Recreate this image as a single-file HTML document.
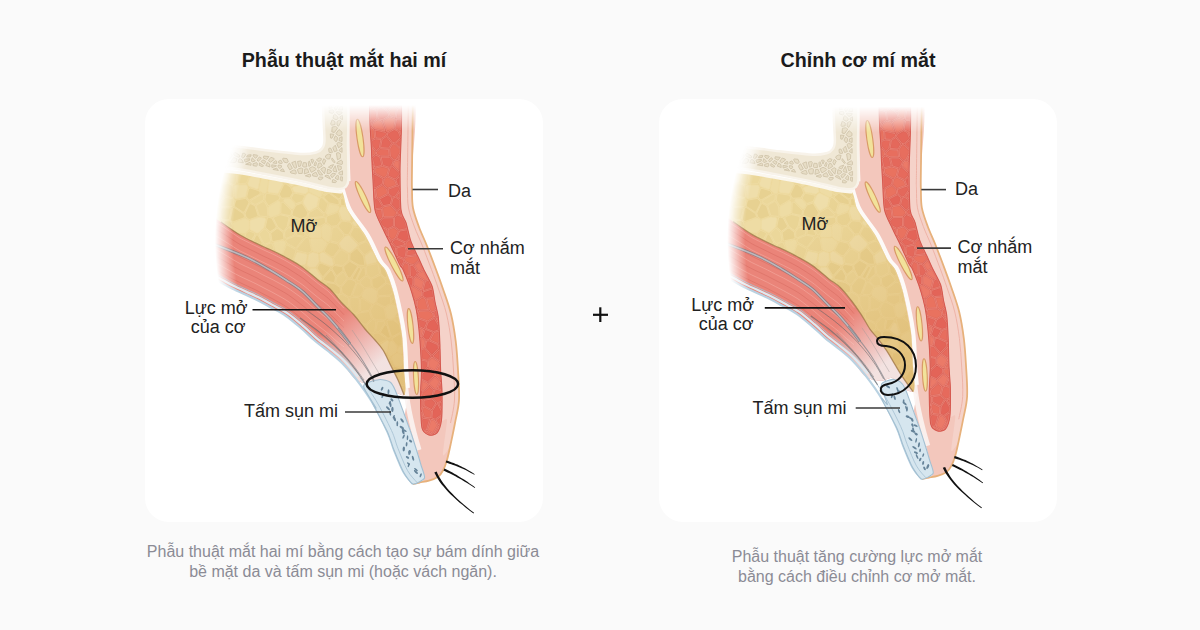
<!DOCTYPE html>
<html><head><meta charset="utf-8"><style>
html,body{margin:0;padding:0;}
body{width:1200px;height:630px;background:#fafafa;position:relative;overflow:hidden;font-family:"Liberation Sans",sans-serif;}
.card{position:absolute;top:99px;width:398px;height:423px;background:#fff;border-radius:24px;}
.t{position:absolute;font-family:"Liberation Sans",sans-serif;white-space:nowrap;}
.title{font-weight:bold;font-size:19.7px;color:#1b1b1b;text-align:center;width:400px;}
.desc{font-size:16px;line-height:20px;color:#8b8b95;text-align:center;width:440px;}
svg{position:absolute;left:0;top:0;}
</style></head>
<body>
<div class="card" style="left:145px"></div>
<div class="card" style="left:659px"></div>
<div class="t title" style="left:144px;top:49px">Phẫu thuật mắt hai mí</div>
<div class="t title" style="left:658px;top:49px">Chỉnh cơ mí mắt</div>
<svg width="1200" height="630" viewBox="0 0 1200 630">
<defs>
<linearGradient id="apoGrad" gradientUnits="userSpaceOnUse" x1="334" y1="322" x2="374" y2="368">
 <stop offset="0" stop-color="#f3e7e6" stop-opacity="0"/><stop offset="1" stop-color="#f3e7e6" stop-opacity="0.95"/></linearGradient>
<linearGradient id="fatGrad" gradientUnits="userSpaceOnUse" x1="290" y1="220" x2="400" y2="370">
 <stop offset="0" stop-color="#d29a45" stop-opacity="0"/><stop offset="1" stop-color="#d29a45" stop-opacity="0.38"/></linearGradient>
<linearGradient id="fadeL" gradientUnits="userSpaceOnUse" x1="209" y1="0" x2="241" y2="0">
 <stop offset="0" stop-color="#000"/><stop offset="1" stop-color="#fff"/></linearGradient>
<linearGradient id="fadeT" gradientUnits="userSpaceOnUse" x1="0" y1="105" x2="0" y2="131">
 <stop offset="0" stop-color="#000"/><stop offset="1" stop-color="#fff"/></linearGradient>
<radialGradient id="fadeR" gradientUnits="userSpaceOnUse" cx="345" cy="240" r="130" gradientTransform="translate(345 240) scale(1 1.46) translate(-345 -240)">
 <stop offset="0.86" stop-color="#fff"/><stop offset="1" stop-color="#000"/></radialGradient>
<mask id="mL" maskUnits="userSpaceOnUse" x="-100" y="-100" width="1400" height="830">
 <rect x="-100" y="-100" width="401" height="830" fill="url(#fadeR)"/>
 <rect x="299" y="-100" width="1000" height="830" fill="#fff"/>
</mask>
<linearGradient id="fadeB" gradientUnits="userSpaceOnUse" x1="215" y1="0" x2="248" y2="0">
 <stop offset="0" stop-color="#000"/><stop offset="1" stop-color="#fff"/></linearGradient>
<mask id="mB" maskUnits="userSpaceOnUse" x="-100" y="-100" width="1400" height="830">
 <rect x="-100" y="-100" width="1400" height="830" fill="url(#fadeB)"/>
</mask>
<mask id="mT" maskUnits="userSpaceOnUse" x="-100" y="-100" width="1400" height="830">
 <rect x="-100" y="-100" width="1400" height="830" fill="url(#fadeT)"/>
</mask>

</defs>
<g mask="url(#mT)"><g mask="url(#mL)">
<path d="M347.0,92.0 C340.5,97.4 347.9,137.3 348.0,146.0 C348.1,154.7 348.7,174.9 348.5,179.0 C348.3,183.1 346.6,185.2 346.0,186.5 C345.4,187.8 341.8,189.7 342.0,192.0 C342.2,194.3 345.3,205.7 347.6,210.0 C349.9,214.3 362.4,230.3 365.4,235.4 C368.4,240.5 375.9,257.2 378.0,260.8 C380.1,264.4 384.4,267.7 386.0,271.0 C387.6,274.3 392.2,287.6 393.8,293.8 C395.4,300.1 400.7,325.9 401.7,333.5 C402.7,341.1 403.6,364.6 404.0,370.0 C404.4,375.4 405.5,385.5 405.5,388.0 C405.5,390.5 403.8,394.0 404.0,395.0 C404.2,396.0 407.9,396.0 408.0,398.0 C408.1,400.0 404.7,411.6 405.0,415.0 C405.3,418.4 409.8,428.5 411.0,432.0 C412.2,435.5 416.0,446.7 417.0,450.0 C418.0,453.3 420.3,462.2 421.0,465.0 C421.7,467.8 424.0,476.0 424.0,477.8 C424.0,479.6 422.1,482.4 421.0,483.0 C419.9,483.6 413.2,484.1 413.0,484.0 C412.8,483.9 417.4,482.8 419.0,482.5 C420.6,482.2 427.1,481.2 429.0,480.6 C430.9,480.0 436.6,477.8 438.0,476.8 C439.4,475.8 442.1,472.2 443.0,470.5 C443.9,468.8 446.2,462.6 447.0,460.0 C447.8,457.4 449.7,448.7 450.5,445.0 C451.3,441.3 454.1,427.5 455.0,423.0 C455.9,418.5 458.7,405.3 459.0,400.0 C459.3,394.7 458.3,375.9 458.0,370.0 C457.7,364.1 456.4,346.6 455.7,341.0 C455.0,335.4 452.3,319.2 451.0,314.0 C449.7,308.8 444.5,293.4 443.0,289.0 C441.5,284.6 437.6,273.8 436.0,269.5 C434.4,265.2 428.7,250.2 427.0,246.0 C425.3,241.8 420.4,230.8 419.0,227.0 C417.6,223.2 413.7,211.8 413.0,208.0 C412.3,204.2 412.1,192.8 412.0,189.0 C411.9,185.2 411.9,179.7 412.0,170.0 C412.1,160.3 419.5,99.8 413.0,92.0 C406.5,84.2 353.5,86.6 347.0,92.0 Z" fill="#f3c7bc"/>
<path d="M400.0,92.0 C398.7,99.9 399.9,159.2 400.0,171.0 C400.1,182.8 400.4,204.8 401.0,210.0 C401.6,215.2 405.0,219.5 406.0,222.7 C407.0,225.9 409.7,238.1 411.0,241.7 C412.3,245.3 417.4,255.5 418.7,258.3 C420.0,261.1 422.7,267.2 424.0,270.0 C425.3,272.8 430.9,282.8 432.0,286.0 C433.1,289.2 434.4,298.8 435.0,302.0 C435.6,305.2 437.8,313.7 438.3,317.6 C438.8,321.5 439.6,336.2 439.8,341.4 C440.0,346.6 440.4,364.9 440.6,370.0 C440.8,375.1 441.9,387.0 442.0,392.0 C442.1,397.0 441.0,417.2 441.5,420.0 C442.0,422.8 446.9,416.5 447.0,420.0 C447.1,423.5 442.6,452.5 443.0,455.0 C443.4,457.5 449.3,448.2 450.5,445.0 C451.7,441.8 454.1,427.5 455.0,423.0 C455.9,418.5 458.7,405.3 459.0,400.0 C459.3,394.7 458.3,375.9 458.0,370.0 C457.7,364.1 456.4,346.6 455.7,341.0 C455.0,335.4 452.3,319.2 451.0,314.0 C449.7,308.8 444.5,293.4 443.0,289.0 C441.5,284.6 437.6,273.8 436.0,269.5 C434.4,265.2 428.7,250.2 427.0,246.0 C425.3,241.8 420.4,230.8 419.0,227.0 C417.6,223.2 413.7,211.8 413.0,208.0 C412.3,204.2 412.1,192.8 412.0,189.0 C411.9,185.2 411.9,179.7 412.0,170.0 C412.1,160.3 414.2,99.8 413.0,92.0 C411.8,84.2 401.3,84.1 400.0,92.0 Z" fill="#f5d2c9"/>
<path d="M408.5,92.0 C408.3,105.0 407.7,153.8 407.5,170.0 C407.3,186.2 407.3,182.7 407.5,189.0 C407.7,195.3 407.3,201.7 408.5,208.0 C409.7,214.3 412.2,220.7 414.5,227.0 C416.8,233.3 419.7,238.9 422.5,246.0 C425.3,253.1 428.8,262.3 431.5,269.5 C434.2,276.7 436.0,281.6 438.5,289.0 C441.0,296.4 444.4,305.3 446.5,314.0 C448.6,322.7 450.0,331.7 451.2,341.0 C452.4,350.3 452.9,360.2 453.5,370.0 C454.1,379.8 455.0,391.2 454.5,400.0 C454.0,408.8 451.2,419.2 450.5,423.0" fill="none" stroke="#eeb3a6" stroke-width="1"/>
<path d="M413.0,92.0 C412.8,105.0 412.2,153.8 412.0,170.0 C411.8,186.2 411.8,182.7 412.0,189.0 C412.2,195.3 411.8,201.7 413.0,208.0 C414.2,214.3 416.7,220.7 419.0,227.0 C421.3,233.3 424.2,238.9 427.0,246.0 C429.8,253.1 433.3,262.3 436.0,269.5 C438.7,276.7 440.5,281.6 443.0,289.0 C445.5,296.4 448.9,305.3 451.0,314.0 C453.1,322.7 454.5,331.7 455.7,341.0 C456.9,350.3 457.4,360.2 458.0,370.0 C458.6,379.8 459.5,391.2 459.0,400.0 C458.5,408.8 456.4,415.5 455.0,423.0 C453.6,430.5 451.8,438.8 450.5,445.0 C449.2,451.2 448.2,455.8 447.0,460.0 C445.8,464.2 444.5,467.7 443.0,470.5 C441.5,473.3 440.3,475.1 438.0,476.8 C435.7,478.5 432.2,479.7 429.0,480.6 C425.8,481.6 421.7,481.9 419.0,482.5 C416.3,483.1 414.0,483.8 413.0,484.0" fill="none" stroke="#e7b17b" stroke-width="1.8"/>
<path d="M404.0,360.0 C404.3,365.0 405.2,381.7 406.0,390.0 C406.8,398.3 407.7,403.0 409.0,410.0 C410.3,417.0 412.3,425.3 414.0,432.0 C415.7,438.7 418.2,447.0 419.0,450.0" fill="none" stroke="#fbf3f1" stroke-width="5" opacity="0.9"/>
<path d="M400.0,92.0 C403.9,102.5 399.9,155.3 400.0,171.0 C400.1,186.7 400.2,203.1 401.0,210.0 C401.8,216.9 404.7,218.5 406.0,222.7 C407.3,226.9 409.3,237.0 411.0,241.7 C412.7,246.4 417.0,254.5 418.7,258.3 C420.4,262.1 422.2,266.3 424.0,270.0 C425.8,273.7 430.5,281.7 432.0,286.0 C433.5,290.3 434.2,297.8 435.0,302.0 C435.8,306.2 437.7,312.3 438.3,317.6 C438.9,322.9 439.5,334.4 439.8,341.4 C440.1,348.4 440.3,363.3 440.6,370.0 C440.9,376.7 441.9,385.3 442.0,392.0 C442.1,398.7 442.2,414.5 441.5,420.0 C440.8,425.5 438.7,431.0 437.0,433.0 C435.3,435.0 431.0,435.7 429.0,435.0 C427.0,434.3 423.1,433.1 422.0,428.0 C420.9,422.9 420.6,404.7 420.5,397.0 C420.4,389.3 421.6,377.5 421.5,370.0 C421.4,362.5 420.5,348.0 420.0,341.0 C419.5,334.0 418.3,322.8 417.6,317.6 C416.9,312.4 415.5,305.9 414.4,301.7 C413.3,297.5 411.2,290.2 409.7,286.0 C408.2,281.8 404.6,272.9 403.3,270.0 C402.0,267.1 401.3,267.9 399.7,264.6 C398.1,261.3 393.2,250.2 391.0,245.5 C388.8,240.8 385.1,233.7 383.0,229.0 C380.9,224.3 376.3,216.5 375.0,210.0 C373.7,203.5 373.5,188.0 373.0,180.0 C372.5,172.0 371.8,161.7 371.5,150.0 C371.2,138.3 367.2,99.7 371.0,92.0 C374.8,84.3 396.1,81.5 400.0,92.0 Z" fill="#e66a5c"/>
<g stroke="#c9524c" stroke-width="1.6" stroke-linejoin="round" stroke-opacity="0.35"><path d="M373.8,89.6 L374.3,89.8 L375.2,88.8Z" fill="#e36458"/><path d="M389.9,85.9 L385.5,85.8 L384.1,86.0 L386.5,87.4Z" fill="#e9725f"/><path d="M392.7,86.6 L396.6,90.4 L397.8,89.7 L394.1,87.0Z" fill="#eb7a68"/><path d="M370.3,99.0 L375.7,96.2 L374.0,91.0 L372.9,90.6 L371.5,92.3Z" fill="#e76e5e"/><path d="M375.2,90.6 L376.9,96.0 L382.9,98.5 L384.1,97.9 L385.8,88.4 L382.2,86.2 L381.0,86.4 L378.2,87.4Z" fill="#e66a5c"/><path d="M396.0,91.4 L391.1,86.7 L386.9,88.5 L385.3,97.8 L393.8,99.9 L396.9,97.8Z" fill="#e66a5c"/><path d="M397.2,91.4 L398.1,97.5 L400.5,97.9 L399.4,92.2 L398.4,90.7Z" fill="#e4685b"/><path d="M376.3,109.1 L380.7,106.0 L382.3,99.6 L376.5,97.1 L370.2,100.4 L370.0,102.7 L370.0,107.1Z" fill="#e66a5c"/><path d="M393.4,101.1 L384.7,98.9 L383.5,99.6 L381.9,106.1 L387.8,110.5 L393.5,103.9Z" fill="#e36458"/><path d="M401.0,107.5 L400.6,99.1 L397.7,98.7 L394.6,100.9 L394.7,103.9 L397.4,107.7Z" fill="#e4685b"/><path d="M370.3,119.2 L372.9,121.5 L377.0,118.8 L375.9,110.2 L370.0,108.4Z" fill="#e66a5c"/><path d="M381.2,107.1 L377.0,110.1 L378.2,118.6 L382.2,119.8 L388.9,116.0 L387.4,111.7Z" fill="#e4685b"/><path d="M394.0,105.0 L388.6,111.4 L390.1,115.8 L395.0,117.4 L396.4,108.5Z" fill="#e9725f"/><path d="M397.6,108.9 L396.1,118.0 L401.1,117.8 L401.0,108.7Z" fill="#e66a5c"/><path d="M370.7,126.2 L372.2,122.4 L370.4,120.9Z" fill="#e66a5c"/><path d="M372.0,126.4 L374.7,128.7 L385.1,131.1 L381.8,121.0 L377.7,119.7 L373.4,122.6Z" fill="#eb7a68"/><path d="M395.3,119.0 L389.7,116.9 L383.0,120.7 L387.1,132.3 L393.6,128.4Z" fill="#eb7a68"/><path d="M400.8,129.5 L401.0,119.0 L396.5,119.3 L394.8,128.5 L398.6,130.3Z" fill="#e66a5c"/><path d="M373.9,129.6 L371.2,127.3 L370.8,127.5 L371.5,139.4 L374.7,138.0Z" fill="#e9725f"/><path d="M386.1,135.3 L386.4,133.2 L385.6,132.4 L375.1,130.1 L375.9,137.9 L381.4,138.3Z" fill="#e66a5c"/><path d="M398.1,131.4 L394.2,129.5 L387.6,133.4 L387.3,135.5 L392.7,142.5 L394.7,142.8 L400.5,137.7Z" fill="#e4685b"/><path d="M399.3,131.3 L400.6,134.7 L400.8,130.8Z" fill="#eb7a68"/><path d="M376.1,150.7 L379.3,147.7 L380.9,139.5 L375.5,139.0 L371.6,140.7 L371.9,145.2Z" fill="#e66a5c"/><path d="M380.6,147.5 L388.7,148.2 L391.6,143.2 L386.5,136.5 L382.1,139.3Z" fill="#e4685b"/><path d="M395.7,143.4 L400.1,147.8 L400.5,139.3Z" fill="#e66a5c"/><path d="M375.1,154.2 L375.3,151.8 L372.0,147.3 L372.3,156.6Z" fill="#e9725f"/><path d="M376.5,151.9 L376.3,154.1 L380.6,156.0 L389.2,156.1 L388.5,149.4 L380.1,148.7Z" fill="#e76e5e"/><path d="M394.6,144.0 L392.7,143.8 L389.7,149.0 L390.5,156.4 L394.2,160.0 L396.5,159.1 L399.9,152.7 L400.1,149.5Z" fill="#e76e5e"/><path d="M397.8,159.3 L399.6,160.0 L399.8,155.4Z" fill="#e4685b"/><path d="M372.7,165.0 L372.9,168.7 L373.4,168.6 L373.6,167.9Z" fill="#e66a5c"/><path d="M372.4,158.2 L374.6,167.2 L381.8,165.3 L379.9,157.1 L375.7,155.2Z" fill="#e4685b"/><path d="M383.1,165.3 L389.3,167.3 L391.7,165.1 L393.3,160.8 L389.7,157.3 L381.2,157.2Z" fill="#e4685b"/><path d="M396.9,160.2 L394.5,161.1 L392.9,165.3 L399.4,171.2 L399.6,161.3Z" fill="#eb7a68"/><path d="M374.1,173.3 L373.4,169.9 L373.0,169.9 L373.2,174.1Z" fill="#e66a5c"/><path d="M383.8,177.8 L386.7,175.8 L388.7,168.4 L382.5,166.4 L374.7,168.4 L375.3,173.1Z" fill="#e9725f"/><path d="M392.2,166.3 L390.0,168.3 L387.9,175.8 L395.1,179.1 L399.4,175.0 L399.4,172.8Z" fill="#e66a5c"/><path d="M374.9,188.0 L382.1,184.0 L383.1,178.9 L374.9,174.2 L373.3,175.8 L373.9,187.6Z" fill="#e4685b"/><path d="M387.3,176.8 L384.3,178.9 L383.3,184.2 L387.4,188.3 L396.5,185.0 L394.7,180.3Z" fill="#e9725f"/><path d="M395.9,180.0 L397.7,184.9 L399.5,186.2 L399.4,176.6Z" fill="#e36458"/><path d="M375.7,197.5 L374.4,189.1 L374.0,188.9 L374.4,198.2Z" fill="#eb7a68"/><path d="M375.6,189.0 L376.9,197.4 L378.6,198.2 L387.4,193.6 L386.7,189.3 L382.5,185.2Z" fill="#e9725f"/><path d="M397.1,186.0 L388.0,189.4 L388.6,193.6 L392.6,197.0 L395.3,196.1 L399.6,189.6 L399.6,187.7Z" fill="#e4685b"/><path d="M396.5,196.5 L399.8,198.7 L399.6,191.7Z" fill="#e66a5c"/><path d="M381.6,207.9 L382.3,206.4 L378.2,199.3 L376.3,198.4 L374.5,199.5 L375.4,208.7Z" fill="#e4685b"/><path d="M383.3,205.7 L390.3,204.3 L391.8,197.9 L388.0,194.7 L379.5,199.1Z" fill="#e36458"/><path d="M395.6,197.3 L393.0,198.2 L391.5,204.7 L397.0,210.6 L400.1,207.1 L399.8,200.2Z" fill="#e4685b"/><path d="M375.6,209.9 L377.1,214.8 L379.5,220.6 L382.6,217.2 L381.5,209.1Z" fill="#e76e5e"/><path d="M382.6,208.5 L383.7,216.8 L393.8,216.7 L396.6,213.9 L396.4,211.7 L390.6,205.5 L383.4,206.9Z" fill="#e9725f"/><path d="M397.6,211.7 L397.8,213.8 L401.8,215.6 L400.3,208.7Z" fill="#e66a5c"/><path d="M393.4,217.9 L383.5,218.0 L380.1,221.7 L382.2,226.0 L387.5,228.7 L393.3,226.2Z" fill="#e4685b"/><path d="M406.9,228.6 L405.4,222.9 L402.6,217.2 L397.3,214.9 L394.6,217.6 L394.5,226.3 L399.4,230.0Z" fill="#e4685b"/><path d="M383.1,227.8 L387.0,235.9 L387.2,235.9 L386.9,229.7Z" fill="#e76e5e"/><path d="M395.4,237.9 L398.5,230.8 L393.8,227.3 L388.1,229.7 L388.5,236.2 L391.6,240.3Z" fill="#e9725f"/><path d="M407.2,229.8 L399.7,231.1 L396.7,238.0 L405.5,242.0 L409.0,238.5Z" fill="#e36458"/><path d="M387.6,237.1 L389.6,241.3 L390.1,242.3 L390.8,241.2Z" fill="#e66a5c"/><path d="M391.8,242.0 L396.3,246.9 L404.6,244.6 L404.9,243.1 L395.9,238.9Z" fill="#e4685b"/><path d="M407.2,249.8 L413.0,247.8 L409.7,239.5 L406.2,243.1 L405.8,245.0Z" fill="#e76e5e"/><path d="M390.7,243.4 L392.5,247.3 L396.3,255.7 L395.5,247.9 L391.1,243.0Z" fill="#e66a5c"/><path d="M396.7,248.1 L397.5,255.9 L403.7,258.3 L405.3,256.3 L406.2,250.6 L404.7,245.8Z" fill="#e4685b"/><path d="M416.2,254.6 L413.5,248.9 L407.3,251.0 L406.6,255.8Z" fill="#e66a5c"/><path d="M401.3,266.2 L403.8,261.4 L403.4,259.5 L396.8,257.0Z" fill="#e4685b"/><path d="M406.2,257.1 L404.5,259.2 L405.0,261.1 L409.6,263.7 L413.7,264.7 L418.9,260.1 L416.8,255.7Z" fill="#e9725f"/><path d="M414.6,265.5 L418.2,271.9 L423.1,269.5 L419.4,261.2Z" fill="#eb7a68"/><path d="M402.2,267.2 L406.4,275.8 L409.2,275.9 L408.8,264.7 L404.7,262.3Z" fill="#e76e5e"/><path d="M410.5,276.1 L413.6,277.3 L416.2,275.5 L417.3,272.7 L413.5,265.9 L410.0,265.1Z" fill="#e4685b"/><path d="M418.5,273.1 L417.4,275.7 L425.0,280.4 L428.1,279.0 L423.6,270.6Z" fill="#eb7a68"/><path d="M412.7,285.3 L413.0,278.4 L409.7,277.2 L406.9,277.0 L410.6,286.6Z" fill="#e36458"/><path d="M424.2,281.4 L416.7,276.7 L414.2,278.3 L413.9,285.3 L421.8,290.3Z" fill="#eb7a68"/><path d="M423.0,290.8 L431.9,287.9 L428.6,280.1 L425.4,281.5Z" fill="#e4685b"/><path d="M410.9,287.8 L414.3,299.1 L416.7,299.8 L421.7,296.1 L421.8,291.7 L413.3,286.4Z" fill="#eb7a68"/><path d="M422.9,296.1 L426.2,298.2 L433.7,297.5 L432.2,289.0 L423.0,292.0Z" fill="#e36458"/><path d="M414.7,300.5 L415.4,303.2 L416.0,305.9 L416.2,300.9Z" fill="#e36458"/><path d="M417.4,300.8 L417.2,306.9 L418.9,310.1 L428.4,309.6 L425.5,299.2 L422.3,297.1Z" fill="#e9725f"/><path d="M426.8,299.3 L429.7,309.8 L433.0,312.1 L435.8,308.1 L433.8,298.7Z" fill="#e9725f"/><path d="M416.5,308.2 L417.1,311.3 L417.4,312.7 L417.9,310.8Z" fill="#e76e5e"/><path d="M417.9,315.5 L418.2,317.4 L427.8,320.9 L433.5,317.3 L432.6,313.3 L429.0,310.8 L419.0,311.3Z" fill="#e9725f"/><path d="M433.7,313.0 L434.7,317.2 L437.6,316.9 L436.2,309.6Z" fill="#e66a5c"/><path d="M424.1,328.8 L427.1,321.9 L418.4,318.8 L419.3,326.5Z" fill="#e4685b"/><path d="M438.4,325.3 L434.2,318.3 L428.3,321.9 L425.9,328.4 L433.7,331.5 L438.6,329.8Z" fill="#e36458"/><path d="M437.7,318.1 L436.1,318.6 L438.1,322.4 L437.9,319.9Z" fill="#e4685b"/><path d="M421.6,336.5 L423.5,329.9 L419.4,327.9 L420.3,336.8Z" fill="#eb7a68"/><path d="M425.3,329.4 L422.7,336.9 L426.3,339.9 L428.9,339.7 L432.8,332.4Z" fill="#e36458"/><path d="M434.1,332.6 L430.1,340.0 L438.2,343.6 L439.2,342.0 L438.7,331.0Z" fill="#e76e5e"/><path d="M421.9,337.7 L420.4,338.0 L421.1,348.5 L424.2,347.5 L425.5,340.7Z" fill="#eb7a68"/><path d="M431.8,355.4 L438.4,348.3 L437.9,344.8 L429.2,340.9 L426.6,341.1 L425.4,347.8Z" fill="#e36458"/><path d="M439.4,346.4 L439.3,344.4 L439.3,344.2 L439.1,344.5Z" fill="#e4685b"/><path d="M421.7,359.0 L427.5,360.3 L431.0,356.3 L424.5,348.7 L421.2,349.7Z" fill="#e66a5c"/><path d="M439.5,349.4 L432.8,356.1 L439.7,361.0Z" fill="#e66a5c"/><path d="M422.1,372.1 L427.5,366.9 L427.2,361.4 L421.8,360.2Z" fill="#e4685b"/><path d="M431.9,357.0 L428.3,361.2 L428.7,366.8 L434.8,370.9 L439.6,362.3Z" fill="#eb7a68"/><path d="M439.8,364.4 L436.2,370.8 L440.0,370.6Z" fill="#e9725f"/><path d="M427.7,381.8 L434.3,375.8 L434.2,371.9 L428.2,367.9 L422.0,373.8 L421.8,379.1Z" fill="#e36458"/><path d="M435.4,372.0 L435.5,375.8 L440.7,380.2 L440.1,371.8Z" fill="#e9725f"/><path d="M421.8,380.4 L421.3,388.7 L422.1,391.5 L428.8,385.6 L427.4,383.0Z" fill="#eb7a68"/><path d="M430.0,385.4 L434.3,389.2 L436.7,388.3 L439.9,381.1 L434.9,376.9 L428.6,382.7Z" fill="#eb7a68"/><path d="M440.8,381.8 L437.9,388.4 L441.3,389.7 L441.2,386.7Z" fill="#e66a5c"/><path d="M423.5,399.1 L431.5,397.7 L433.5,390.1 L429.6,386.6 L422.3,392.9 L421.1,397.8Z" fill="#e76e5e"/><path d="M441.5,401.0 L441.4,391.0 L437.1,389.4 L434.7,390.3 L432.7,398.1 L436.9,402.3 L437.8,402.5Z" fill="#e66a5c"/><path d="M421.3,409.7 L422.9,405.9 L422.8,400.1 L421.1,399.2Z" fill="#e4685b"/><path d="M431.8,409.7 L435.8,403.0 L431.8,398.9 L424.0,400.3 L424.1,405.6Z" fill="#e4685b"/><path d="M441.4,408.6 L441.4,406.4 L441.5,402.3 L438.7,403.4Z" fill="#e36458"/><path d="M421.4,411.9 L421.4,413.5 L421.7,418.3 L423.1,417.4Z" fill="#e36458"/><path d="M424.3,417.1 L430.7,418.0 L431.4,410.8 L423.8,406.8 L422.3,410.6Z" fill="#e76e5e"/><path d="M437.5,403.6 L436.9,403.5 L432.6,410.6 L431.9,418.0 L435.2,419.2 L441.2,414.9 L441.4,411.2Z" fill="#e36458"/><path d="M423.6,430.5 L426.4,429.9 L429.6,419.2 L423.9,418.3 L421.7,419.6 L422.6,427.9Z" fill="#e4685b"/><path d="M433.1,433.5 L437.6,425.5 L434.9,420.4 L431.2,419.1 L427.5,430.2Z" fill="#eb7a68"/><path d="M436.1,420.1 L438.7,425.0 L439.8,425.4 L441.2,416.4Z" fill="#e4685b"/><path d="M432.5,434.5 L426.7,431.1 L424.4,431.6 L428.4,434.2Z" fill="#eb7a68"/><path d="M434.1,434.1 L437.1,431.8 L439.4,426.5 L438.5,426.2Z" fill="#e66a5c"/></g>
<g fill="none" stroke="#f09586" stroke-width="0.7" stroke-linejoin="round" stroke-opacity="0.8"><path d="M373.8,89.6 L374.3,89.8 L375.2,88.8Z"/><path d="M389.9,85.9 L385.5,85.8 L384.1,86.0 L386.5,87.4Z"/><path d="M392.7,86.6 L396.6,90.4 L397.8,89.7 L394.1,87.0Z"/><path d="M370.3,99.0 L375.7,96.2 L374.0,91.0 L372.9,90.6 L371.5,92.3Z"/><path d="M375.2,90.6 L376.9,96.0 L382.9,98.5 L384.1,97.9 L385.8,88.4 L382.2,86.2 L381.0,86.4 L378.2,87.4Z"/><path d="M396.0,91.4 L391.1,86.7 L386.9,88.5 L385.3,97.8 L393.8,99.9 L396.9,97.8Z"/><path d="M397.2,91.4 L398.1,97.5 L400.5,97.9 L399.4,92.2 L398.4,90.7Z"/><path d="M376.3,109.1 L380.7,106.0 L382.3,99.6 L376.5,97.1 L370.2,100.4 L370.0,102.7 L370.0,107.1Z"/><path d="M393.4,101.1 L384.7,98.9 L383.5,99.6 L381.9,106.1 L387.8,110.5 L393.5,103.9Z"/><path d="M401.0,107.5 L400.6,99.1 L397.7,98.7 L394.6,100.9 L394.7,103.9 L397.4,107.7Z"/><path d="M370.3,119.2 L372.9,121.5 L377.0,118.8 L375.9,110.2 L370.0,108.4Z"/><path d="M381.2,107.1 L377.0,110.1 L378.2,118.6 L382.2,119.8 L388.9,116.0 L387.4,111.7Z"/><path d="M394.0,105.0 L388.6,111.4 L390.1,115.8 L395.0,117.4 L396.4,108.5Z"/><path d="M397.6,108.9 L396.1,118.0 L401.1,117.8 L401.0,108.7Z"/><path d="M370.7,126.2 L372.2,122.4 L370.4,120.9Z"/><path d="M372.0,126.4 L374.7,128.7 L385.1,131.1 L381.8,121.0 L377.7,119.7 L373.4,122.6Z"/><path d="M395.3,119.0 L389.7,116.9 L383.0,120.7 L387.1,132.3 L393.6,128.4Z"/><path d="M400.8,129.5 L401.0,119.0 L396.5,119.3 L394.8,128.5 L398.6,130.3Z"/><path d="M373.9,129.6 L371.2,127.3 L370.8,127.5 L371.5,139.4 L374.7,138.0Z"/><path d="M386.1,135.3 L386.4,133.2 L385.6,132.4 L375.1,130.1 L375.9,137.9 L381.4,138.3Z"/><path d="M398.1,131.4 L394.2,129.5 L387.6,133.4 L387.3,135.5 L392.7,142.5 L394.7,142.8 L400.5,137.7Z"/><path d="M399.3,131.3 L400.6,134.7 L400.8,130.8Z"/><path d="M376.1,150.7 L379.3,147.7 L380.9,139.5 L375.5,139.0 L371.6,140.7 L371.9,145.2Z"/><path d="M380.6,147.5 L388.7,148.2 L391.6,143.2 L386.5,136.5 L382.1,139.3Z"/><path d="M395.7,143.4 L400.1,147.8 L400.5,139.3Z"/><path d="M375.1,154.2 L375.3,151.8 L372.0,147.3 L372.3,156.6Z"/><path d="M376.5,151.9 L376.3,154.1 L380.6,156.0 L389.2,156.1 L388.5,149.4 L380.1,148.7Z"/><path d="M394.6,144.0 L392.7,143.8 L389.7,149.0 L390.5,156.4 L394.2,160.0 L396.5,159.1 L399.9,152.7 L400.1,149.5Z"/><path d="M397.8,159.3 L399.6,160.0 L399.8,155.4Z"/><path d="M372.7,165.0 L372.9,168.7 L373.4,168.6 L373.6,167.9Z"/><path d="M372.4,158.2 L374.6,167.2 L381.8,165.3 L379.9,157.1 L375.7,155.2Z"/><path d="M383.1,165.3 L389.3,167.3 L391.7,165.1 L393.3,160.8 L389.7,157.3 L381.2,157.2Z"/><path d="M396.9,160.2 L394.5,161.1 L392.9,165.3 L399.4,171.2 L399.6,161.3Z"/><path d="M374.1,173.3 L373.4,169.9 L373.0,169.9 L373.2,174.1Z"/><path d="M383.8,177.8 L386.7,175.8 L388.7,168.4 L382.5,166.4 L374.7,168.4 L375.3,173.1Z"/><path d="M392.2,166.3 L390.0,168.3 L387.9,175.8 L395.1,179.1 L399.4,175.0 L399.4,172.8Z"/><path d="M374.9,188.0 L382.1,184.0 L383.1,178.9 L374.9,174.2 L373.3,175.8 L373.9,187.6Z"/><path d="M387.3,176.8 L384.3,178.9 L383.3,184.2 L387.4,188.3 L396.5,185.0 L394.7,180.3Z"/><path d="M395.9,180.0 L397.7,184.9 L399.5,186.2 L399.4,176.6Z"/><path d="M375.7,197.5 L374.4,189.1 L374.0,188.9 L374.4,198.2Z"/><path d="M375.6,189.0 L376.9,197.4 L378.6,198.2 L387.4,193.6 L386.7,189.3 L382.5,185.2Z"/><path d="M397.1,186.0 L388.0,189.4 L388.6,193.6 L392.6,197.0 L395.3,196.1 L399.6,189.6 L399.6,187.7Z"/><path d="M396.5,196.5 L399.8,198.7 L399.6,191.7Z"/><path d="M381.6,207.9 L382.3,206.4 L378.2,199.3 L376.3,198.4 L374.5,199.5 L375.4,208.7Z"/><path d="M383.3,205.7 L390.3,204.3 L391.8,197.9 L388.0,194.7 L379.5,199.1Z"/><path d="M395.6,197.3 L393.0,198.2 L391.5,204.7 L397.0,210.6 L400.1,207.1 L399.8,200.2Z"/><path d="M375.6,209.9 L377.1,214.8 L379.5,220.6 L382.6,217.2 L381.5,209.1Z"/><path d="M382.6,208.5 L383.7,216.8 L393.8,216.7 L396.6,213.9 L396.4,211.7 L390.6,205.5 L383.4,206.9Z"/><path d="M397.6,211.7 L397.8,213.8 L401.8,215.6 L400.3,208.7Z"/><path d="M393.4,217.9 L383.5,218.0 L380.1,221.7 L382.2,226.0 L387.5,228.7 L393.3,226.2Z"/><path d="M406.9,228.6 L405.4,222.9 L402.6,217.2 L397.3,214.9 L394.6,217.6 L394.5,226.3 L399.4,230.0Z"/><path d="M383.1,227.8 L387.0,235.9 L387.2,235.9 L386.9,229.7Z"/><path d="M395.4,237.9 L398.5,230.8 L393.8,227.3 L388.1,229.7 L388.5,236.2 L391.6,240.3Z"/><path d="M407.2,229.8 L399.7,231.1 L396.7,238.0 L405.5,242.0 L409.0,238.5Z"/><path d="M387.6,237.1 L389.6,241.3 L390.1,242.3 L390.8,241.2Z"/><path d="M391.8,242.0 L396.3,246.9 L404.6,244.6 L404.9,243.1 L395.9,238.9Z"/><path d="M407.2,249.8 L413.0,247.8 L409.7,239.5 L406.2,243.1 L405.8,245.0Z"/><path d="M390.7,243.4 L392.5,247.3 L396.3,255.7 L395.5,247.9 L391.1,243.0Z"/><path d="M396.7,248.1 L397.5,255.9 L403.7,258.3 L405.3,256.3 L406.2,250.6 L404.7,245.8Z"/><path d="M416.2,254.6 L413.5,248.9 L407.3,251.0 L406.6,255.8Z"/><path d="M401.3,266.2 L403.8,261.4 L403.4,259.5 L396.8,257.0Z"/><path d="M406.2,257.1 L404.5,259.2 L405.0,261.1 L409.6,263.7 L413.7,264.7 L418.9,260.1 L416.8,255.7Z"/><path d="M414.6,265.5 L418.2,271.9 L423.1,269.5 L419.4,261.2Z"/><path d="M402.2,267.2 L406.4,275.8 L409.2,275.9 L408.8,264.7 L404.7,262.3Z"/><path d="M410.5,276.1 L413.6,277.3 L416.2,275.5 L417.3,272.7 L413.5,265.9 L410.0,265.1Z"/><path d="M418.5,273.1 L417.4,275.7 L425.0,280.4 L428.1,279.0 L423.6,270.6Z"/><path d="M412.7,285.3 L413.0,278.4 L409.7,277.2 L406.9,277.0 L410.6,286.6Z"/><path d="M424.2,281.4 L416.7,276.7 L414.2,278.3 L413.9,285.3 L421.8,290.3Z"/><path d="M423.0,290.8 L431.9,287.9 L428.6,280.1 L425.4,281.5Z"/><path d="M410.9,287.8 L414.3,299.1 L416.7,299.8 L421.7,296.1 L421.8,291.7 L413.3,286.4Z"/><path d="M422.9,296.1 L426.2,298.2 L433.7,297.5 L432.2,289.0 L423.0,292.0Z"/><path d="M414.7,300.5 L415.4,303.2 L416.0,305.9 L416.2,300.9Z"/><path d="M417.4,300.8 L417.2,306.9 L418.9,310.1 L428.4,309.6 L425.5,299.2 L422.3,297.1Z"/><path d="M426.8,299.3 L429.7,309.8 L433.0,312.1 L435.8,308.1 L433.8,298.7Z"/><path d="M416.5,308.2 L417.1,311.3 L417.4,312.7 L417.9,310.8Z"/><path d="M417.9,315.5 L418.2,317.4 L427.8,320.9 L433.5,317.3 L432.6,313.3 L429.0,310.8 L419.0,311.3Z"/><path d="M433.7,313.0 L434.7,317.2 L437.6,316.9 L436.2,309.6Z"/><path d="M424.1,328.8 L427.1,321.9 L418.4,318.8 L419.3,326.5Z"/><path d="M438.4,325.3 L434.2,318.3 L428.3,321.9 L425.9,328.4 L433.7,331.5 L438.6,329.8Z"/><path d="M437.7,318.1 L436.1,318.6 L438.1,322.4 L437.9,319.9Z"/><path d="M421.6,336.5 L423.5,329.9 L419.4,327.9 L420.3,336.8Z"/><path d="M425.3,329.4 L422.7,336.9 L426.3,339.9 L428.9,339.7 L432.8,332.4Z"/><path d="M434.1,332.6 L430.1,340.0 L438.2,343.6 L439.2,342.0 L438.7,331.0Z"/><path d="M421.9,337.7 L420.4,338.0 L421.1,348.5 L424.2,347.5 L425.5,340.7Z"/><path d="M431.8,355.4 L438.4,348.3 L437.9,344.8 L429.2,340.9 L426.6,341.1 L425.4,347.8Z"/><path d="M439.4,346.4 L439.3,344.4 L439.3,344.2 L439.1,344.5Z"/><path d="M421.7,359.0 L427.5,360.3 L431.0,356.3 L424.5,348.7 L421.2,349.7Z"/><path d="M439.5,349.4 L432.8,356.1 L439.7,361.0Z"/><path d="M422.1,372.1 L427.5,366.9 L427.2,361.4 L421.8,360.2Z"/><path d="M431.9,357.0 L428.3,361.2 L428.7,366.8 L434.8,370.9 L439.6,362.3Z"/><path d="M439.8,364.4 L436.2,370.8 L440.0,370.6Z"/><path d="M427.7,381.8 L434.3,375.8 L434.2,371.9 L428.2,367.9 L422.0,373.8 L421.8,379.1Z"/><path d="M435.4,372.0 L435.5,375.8 L440.7,380.2 L440.1,371.8Z"/><path d="M421.8,380.4 L421.3,388.7 L422.1,391.5 L428.8,385.6 L427.4,383.0Z"/><path d="M430.0,385.4 L434.3,389.2 L436.7,388.3 L439.9,381.1 L434.9,376.9 L428.6,382.7Z"/><path d="M440.8,381.8 L437.9,388.4 L441.3,389.7 L441.2,386.7Z"/><path d="M423.5,399.1 L431.5,397.7 L433.5,390.1 L429.6,386.6 L422.3,392.9 L421.1,397.8Z"/><path d="M441.5,401.0 L441.4,391.0 L437.1,389.4 L434.7,390.3 L432.7,398.1 L436.9,402.3 L437.8,402.5Z"/><path d="M421.3,409.7 L422.9,405.9 L422.8,400.1 L421.1,399.2Z"/><path d="M431.8,409.7 L435.8,403.0 L431.8,398.9 L424.0,400.3 L424.1,405.6Z"/><path d="M441.4,408.6 L441.4,406.4 L441.5,402.3 L438.7,403.4Z"/><path d="M421.4,411.9 L421.4,413.5 L421.7,418.3 L423.1,417.4Z"/><path d="M424.3,417.1 L430.7,418.0 L431.4,410.8 L423.8,406.8 L422.3,410.6Z"/><path d="M437.5,403.6 L436.9,403.5 L432.6,410.6 L431.9,418.0 L435.2,419.2 L441.2,414.9 L441.4,411.2Z"/><path d="M423.6,430.5 L426.4,429.9 L429.6,419.2 L423.9,418.3 L421.7,419.6 L422.6,427.9Z"/><path d="M433.1,433.5 L437.6,425.5 L434.9,420.4 L431.2,419.1 L427.5,430.2Z"/><path d="M436.1,420.1 L438.7,425.0 L439.8,425.4 L441.2,416.4Z"/><path d="M432.5,434.5 L426.7,431.1 L424.4,431.6 L428.4,434.2Z"/><path d="M434.1,434.1 L437.1,431.8 L439.4,426.5 L438.5,426.2Z"/></g>
<path d="M400.0,92.0 C403.9,102.5 399.9,155.3 400.0,171.0 C400.1,186.7 400.2,203.1 401.0,210.0 C401.8,216.9 404.7,218.5 406.0,222.7 C407.3,226.9 409.3,237.0 411.0,241.7 C412.7,246.4 417.0,254.5 418.7,258.3 C420.4,262.1 422.2,266.3 424.0,270.0 C425.8,273.7 430.5,281.7 432.0,286.0 C433.5,290.3 434.2,297.8 435.0,302.0 C435.8,306.2 437.7,312.3 438.3,317.6 C438.9,322.9 439.5,334.4 439.8,341.4 C440.1,348.4 440.3,363.3 440.6,370.0 C440.9,376.7 441.9,385.3 442.0,392.0 C442.1,398.7 442.2,414.5 441.5,420.0 C440.8,425.5 438.7,431.0 437.0,433.0 C435.3,435.0 431.0,435.7 429.0,435.0 C427.0,434.3 423.1,433.1 422.0,428.0 C420.9,422.9 420.6,404.7 420.5,397.0 C420.4,389.3 421.6,377.5 421.5,370.0 C421.4,362.5 420.5,348.0 420.0,341.0 C419.5,334.0 418.3,322.8 417.6,317.6 C416.9,312.4 415.5,305.9 414.4,301.7 C413.3,297.5 411.2,290.2 409.7,286.0 C408.2,281.8 404.6,272.9 403.3,270.0 C402.0,267.1 401.3,267.9 399.7,264.6 C398.1,261.3 393.2,250.2 391.0,245.5 C388.8,240.8 385.1,233.7 383.0,229.0 C380.9,224.3 376.3,216.5 375.0,210.0 C373.7,203.5 373.5,188.0 373.0,180.0 C372.5,172.0 371.8,161.7 371.5,150.0 C371.2,138.3 367.2,99.7 371.0,92.0 C374.8,84.3 396.1,81.5 400.0,92.0 Z" fill="none" stroke="#d65a50" stroke-width="1.1"/>
<ellipse cx="360" cy="138" rx="3.0" ry="19" transform="rotate(-8 360 138)" fill="#f2e29a" stroke="#d89a66" stroke-width="1.1"/>
<ellipse cx="363" cy="197" rx="2.8" ry="17" transform="rotate(-25 363 197)" fill="#f2e29a" stroke="#d89a66" stroke-width="1.1"/>
<ellipse cx="394" cy="264" rx="3.0" ry="19" transform="rotate(-27 394 264)" fill="#f2e29a" stroke="#d89a66" stroke-width="1.1"/>
<ellipse cx="410.5" cy="326" rx="2.6" ry="17.5" transform="rotate(-6 410.5 326)" fill="#f2e29a" stroke="#d89a66" stroke-width="1.1"/>
<ellipse cx="416" cy="378" rx="2.4" ry="16.5" transform="rotate(-3 416 378)" fill="#f2e29a" stroke="#d89a66" stroke-width="1.1"/>
<path d="M342.3,188.0 C343.6,191.7 345.7,202.1 349.9,210.0 C354.1,217.9 362.6,226.9 367.7,235.4 C372.8,243.9 376.9,254.9 380.3,260.8 C383.7,266.7 385.7,265.5 388.3,271.0 C390.9,276.5 393.5,283.4 396.1,293.8 C398.7,304.2 402.3,320.8 404.0,333.5 C405.7,346.2 405.7,360.9 406.3,370.0 C406.9,379.1 407.6,385.0 407.8,388.0" fill="none" stroke="#fdfaf8" stroke-width="4.2"/>
<path d="M348.0,92.0 C348.1,101.7 348.2,135.2 348.5,150.0 C348.8,164.8 349.3,175.8 349.5,181.0" fill="none" stroke="#fdfaf8" stroke-width="2"/>
<g mask="url(#mB)">
<path d="M324.0,92.0 C321.4,97.6 324.7,133.4 324.5,140.0 C324.3,146.6 323.0,147.0 322.0,148.5 C321.0,150.0 318.3,151.9 316.0,152.5 C313.7,153.1 308.1,154.3 302.0,154.0 C295.9,153.7 271.1,150.8 264.0,150.0 C256.9,149.2 249.1,147.7 241.0,147.0 C232.9,146.3 200.4,141.6 195.0,144.0 C189.6,146.4 190.6,165.1 195.0,168.0 C199.4,170.9 225.0,167.9 233.0,168.6 C241.0,169.3 255.5,172.2 263.5,173.7 C271.5,175.2 294.2,179.7 301.6,181.3 C309.0,182.9 322.5,186.6 327.0,187.5 C331.5,188.4 337.8,189.1 340.0,189.0 C342.2,188.9 345.0,187.7 346.0,186.5 C347.0,185.3 348.3,183.7 348.5,179.0 C348.7,174.3 348.2,156.2 348.0,146.0 C347.8,135.8 349.8,98.3 347.0,92.0 C344.2,85.7 326.6,86.4 324.0,92.0 Z" fill="#f0e8d6" stroke="#f8f3ea" stroke-width="2.5"/>
<g fill="#e4d9c0" stroke="#c2b497" stroke-width="0.9" opacity="0.7"><path d="M330.3,98.6 L331.8,95.8 L330.0,94.6 L329.5,94.9 L329.2,98.0Z"/><path d="M336.8,100.8 L338.3,98.5 L337.0,96.1 L335.6,95.3 L333.9,96.2 L332.1,99.5Z"/><path d="M331.7,103.5 L333.4,105.7 L336.4,103.3 L336.4,102.7 L331.6,101.4Z"/><path d="M338.3,102.1 L338.4,103.1 L341.1,104.4 L339.6,100.1Z"/><path d="M330.5,105.2 L329.1,106.2 L329.1,108.3 L332.3,107.8Z"/><path d="M337.6,104.9 L334.3,107.6 L335.4,110.1 L336.2,109.9 L338.6,105.7Z"/><path d="M338.5,109.8 L342.5,110.0 L342.4,106.5 L340.4,106.4Z"/><path d="M329.2,110.3 L329.2,112.5 L332.5,113.4 L333.8,112.2 L333.9,111.5 L332.9,109.7Z"/><path d="M335.9,112.1 L338.9,115.1 L341.9,113.3 L342.1,112.0 L337.0,111.7Z"/><path d="M333.7,115.0 L333.0,118.1 L336.0,119.9 L338.1,118.6 L337.8,116.9 L334.7,114.1Z"/><path d="M342.4,115.3 L339.9,116.8 L340.1,118.4 L342.5,119.6Z"/><path d="M330.6,124.2 L331.6,125.1 L335.0,124.6 L335.0,121.6 L332.0,119.8Z"/><path d="M338.6,126.2 L341.2,121.2 L339.3,120.2 L337.0,121.6 L337.0,125.0Z"/><path d="M337.6,127.9 L335.7,126.5 L332.2,127.0 L331.8,131.8 L334.3,132.5Z"/><path d="M333.9,134.4 L330.3,133.9 L330.5,138.0 L332.0,138.2Z"/><path d="M338.7,135.9 L341.8,134.7 L342.0,132.2 L339.0,129.5 L335.9,133.6Z"/><path d="M333.8,139.1 L335.9,141.8 L337.0,140.8 L337.5,137.5 L335.4,135.8Z"/><path d="M339.0,140.6 L342.0,141.5 L342.1,136.7 L339.4,137.8Z"/><path d="M338.6,147.9 L342.0,145.0 L342.0,143.5 L338.2,142.4 L336.8,143.7Z"/><path d="M203.7,152.2 L205.4,151.7 L205.7,149.5 L202.9,149.3 L201.2,151.0Z"/><path d="M220.2,153.0 L224.3,152.5 L223.6,151.1 L219.7,150.6 L219.1,152.1Z"/><path d="M332.5,152.3 L330.9,148.4 L329.2,148.1 L328.7,149.2 L329.1,152.3 L331.6,152.7Z"/><path d="M334.4,151.7 L337.2,150.7 L335.3,145.2 L332.8,147.8Z"/><path d="M339.2,150.0 L339.2,150.8 L342.1,152.4 L342.0,147.6Z"/><path d="M200.8,157.9 L202.6,153.9 L200.4,152.8 L198.3,155.4 L198.4,157.2Z"/><path d="M208.8,157.9 L209.3,156.8 L208.1,154.4 L206.2,153.5 L204.6,154.0 L204.5,154.9 L207.4,158.5Z"/><path d="M216.2,153.4 L210.1,153.9 L211.0,155.8 L214.0,155.6Z"/><path d="M219.7,157.1 L219.1,154.6 L218.3,154.1 L215.6,156.9 L217.4,161.6Z"/><path d="M221.6,156.5 L222.9,157.2 L225.3,156.2 L225.3,154.4 L221.2,154.9Z"/><path d="M231.6,154.1 L229.2,153.1 L227.3,154.0 L227.3,156.6 L229.4,159.5 L232.2,156.0Z"/><path d="M239.8,155.5 L235.2,152.4 L233.6,153.6 L234.2,155.4 L238.3,157.2 L239.6,156.9Z"/><path d="M244.0,157.4 L245.7,154.4 L244.5,153.4 L242.7,153.2 L241.6,157.2 L242.9,158.1Z"/><path d="M246.5,157.0 L250.5,156.8 L251.2,154.8 L247.6,155.1Z"/><path d="M253.1,156.0 L255.7,158.3 L257.8,155.7 L257.2,155.2 L253.3,154.6Z"/><path d="M263.4,157.9 L266.7,159.5 L268.9,156.6 L263.8,156.0Z"/><path d="M330.8,154.6 L328.4,154.2 L325.9,155.4 L325.3,157.1 L327.3,158.9 L329.7,158.9Z"/><path d="M340.4,158.2 L340.6,154.0 L338.1,152.5 L336.4,153.2 L337.5,159.8Z"/><path d="M197.8,159.1 L198.6,162.9 L202.1,163.2 L200.6,159.9Z"/><path d="M205.8,159.6 L203.6,157.0 L202.5,159.0 L203.7,161.5Z"/><path d="M210.2,163.1 L210.6,162.5 L209.1,159.9 L206.8,161.5Z"/><path d="M213.8,157.7 L211.0,157.8 L210.7,158.6 L212.4,161.6 L215.3,161.8Z"/><path d="M219.2,162.8 L223.7,162.2 L222.1,159.0 L221.2,158.5Z"/><path d="M228.3,161.4 L225.9,158.1 L224.2,158.8 L225.8,162.0 L228.0,162.4Z"/><path d="M236.0,161.8 L237.0,158.8 L233.7,157.4 L230.1,162.5 L234.2,162.7Z"/><path d="M243.3,162.8 L242.1,159.9 L240.3,158.8 L239.0,159.1 L238.0,162.1Z"/><path d="M249.5,160.4 L249.8,158.8 L245.1,159.1 L244.2,159.6 L245.2,162.1Z"/><path d="M251.4,160.9 L252.3,161.9 L255.3,160.9 L252.2,157.8Z"/><path d="M261.4,158.3 L259.5,156.9 L257.0,159.9 L258.2,161.3Z"/><path d="M265.7,161.3 L262.8,159.8 L261.1,161.5 L264.4,163.9Z"/><path d="M270.5,162.2 L274.4,159.2 L273.9,158.4 L270.9,157.3 L268.4,160.6Z"/><path d="M276.7,163.5 L276.6,161.2 L275.8,160.6 L272.8,162.9Z"/><path d="M282.4,162.9 L280.9,160.2 L278.6,161.2 L278.7,163.0 L281.8,163.6Z"/><path d="M287.0,158.6 L283.1,158.2 L282.5,159.0 L284.3,162.2 L286.9,162.8 L288.3,161.7Z"/><path d="M300.8,160.9 L297.5,161.5 L298.6,166.6 L300.5,166.1 L301.5,161.8Z"/><path d="M312.4,163.5 L313.8,160.2 L312.5,159.3 L310.9,159.6Z"/><path d="M318.0,161.3 L320.6,160.9 L321.6,158.7 L319.2,157.9 L316.4,159.9Z"/><path d="M325.9,160.4 L323.8,158.7 L322.4,161.8 L323.9,164.5Z"/><path d="M331.6,159.7 L333.8,162.5 L334.8,162.7 L335.2,162.0 L332.1,157.9Z"/><path d="M341.9,164.5 L342.4,164.0 L342.3,161.0 L341.2,160.1 L337.4,162.2 L336.7,163.4Z"/><path d="M245.6,164.3 L249.3,164.9 L251.0,165.3 L251.0,163.4 L250.0,162.3Z"/><path d="M257.2,163.1 L256.5,162.6 L253.0,163.8 L253.0,165.6 L256.3,166.2 L257.2,165.5Z"/><path d="M259.5,162.9 L259.2,165.3 L262.1,166.6 L263.6,165.8Z"/><path d="M269.9,167.0 L269.6,164.0 L267.4,162.4 L265.8,165.5Z"/><path d="M271.9,167.5 L276.2,166.2 L276.3,165.5 L271.7,164.8Z"/><path d="M278.1,166.7 L279.6,168.4 L281.6,167.2 L281.3,165.5 L278.3,165.0Z"/><path d="M288.0,164.5 L287.6,166.2 L289.7,169.8 L292.4,168.4 L289.6,163.2Z"/><path d="M294.4,167.9 L295.9,168.2 L296.7,167.5 L295.4,161.2 L291.7,162.7Z"/><path d="M303.3,162.6 L302.5,166.3 L304.0,167.1 L306.8,166.9 L306.3,162.8Z"/><path d="M310.9,165.2 L309.3,161.0 L308.2,162.1 L308.8,166.4Z"/><path d="M316.6,162.7 L315.4,161.6 L313.9,165.2 L315.7,166.0Z"/><path d="M317.9,168.1 L318.9,168.0 L322.3,165.8 L320.7,162.9 L318.5,163.2 L317.5,167.3Z"/><path d="M331.4,168.5 L333.6,164.5 L329.9,165.8 L328.4,167.3Z"/><path d="M341.3,169.1 L341.2,166.4 L337.3,165.5 L338.7,170.4Z"/><path d="M276.7,168.1 L272.9,169.4 L278.4,170.5Z"/><path d="M282.9,168.7 L280.4,170.2 L280.4,170.9 L284.5,171.7Z"/><path d="M290.9,173.0 L295.6,173.9 L296.4,173.4 L295.5,170.2 L293.9,169.9 L290.1,171.9Z"/><path d="M301.2,168.0 L298.3,168.8 L297.4,169.6 L298.7,173.5 L302.2,173.4 L302.8,168.7Z"/><path d="M304.8,169.0 L304.2,173.9 L308.9,172.3 L307.4,168.8Z"/><path d="M309.3,168.3 L311.3,172.4 L315.6,169.9 L316.2,169.0 L315.7,168.2 L312.4,166.7Z"/><path d="M317.4,170.7 L319.6,175.0 L322.8,174.9 L318.8,170.0 L317.9,170.1Z"/><path d="M323.8,167.1 L320.7,169.2 L324.5,173.8 L325.7,168.2Z"/><path d="M329.0,173.7 L331.6,171.8 L331.1,170.6 L327.6,169.1 L327.0,173.4Z"/><path d="M332.9,169.9 L333.5,171.3 L336.9,172.0 L335.2,165.7Z"/><path d="M340.0,174.8 L342.5,174.9 L342.5,170.8 L338.9,172.5 L338.6,173.1Z"/><path d="M305.3,175.8 L309.7,177.0 L310.8,176.2 L310.1,174.0Z"/><path d="M316.8,176.6 L317.8,175.8 L315.9,172.1 L312.4,174.1 L312.8,175.9Z"/><path d="M322.9,177.2 L319.4,177.0 L318.3,178.0 L318.6,179.3 L320.5,179.8 L322.7,178.5Z"/><path d="M330.6,179.2 L328.6,175.7 L326.0,175.2 L324.8,176.1Z"/><path d="M333.0,173.2 L330.5,175.1 L332.1,177.8 L335.7,173.8Z"/><path d="M337.5,174.9 L335.0,178.1 L338.1,179.9 L338.5,176.1Z"/><path d="M340.2,180.0 L342.2,181.2 L342.5,176.9 L340.4,176.8Z"/><path d="M332.5,179.9 L332.2,182.3 L335.5,182.7 L336.6,181.3 L333.4,179.5Z"/></g>
</g>
<path d="M195.0,170.0 C199.4,165.8 225.1,171.2 233.0,172.0 C240.9,172.8 254.9,175.5 263.0,177.0 C271.1,178.5 294.5,182.9 302.0,184.5 C309.5,186.1 322.3,189.6 327.0,190.5 C331.7,191.4 339.6,189.7 342.0,192.0 C344.4,194.3 344.9,204.9 347.6,210.0 C350.3,215.1 361.9,229.5 365.4,235.4 C368.9,241.3 375.6,256.6 378.0,260.8 C380.4,265.0 384.2,267.1 386.0,271.0 C387.8,274.9 392.0,286.5 393.8,293.8 C395.6,301.1 400.5,324.6 401.7,333.5 C402.9,342.4 403.6,363.6 404.0,370.0 C404.4,376.4 405.5,385.1 405.5,388.0 C405.5,390.9 404.9,395.9 404.0,395.0 C403.1,394.1 399.5,383.4 398.0,380.0 C396.5,376.6 392.8,369.5 391.0,366.0 C389.2,362.5 384.9,353.0 383.0,350.0 C381.1,347.0 377.1,342.4 375.0,340.0 C372.9,337.6 367.4,331.9 365.0,329.0 C362.6,326.1 356.8,318.1 354.0,315.0 C351.2,311.9 343.8,305.0 341.0,302.0 C338.2,299.0 332.7,291.6 330.0,289.0 C327.3,286.4 321.3,282.6 318.0,280.0 C314.7,277.4 305.7,269.6 302.0,267.0 C298.3,264.4 289.7,259.5 286.0,257.5 C282.3,255.5 272.7,250.8 270.0,249.5 C267.3,248.2 266.5,248.2 263.0,246.5 C259.5,244.8 244.9,237.9 240.0,235.0 C235.1,232.1 226.2,225.2 221.0,222.0 C215.8,218.8 198.0,214.1 195.0,208.0 C192.0,201.9 190.6,174.2 195.0,170.0 Z" fill="#ebd699"/>
<g stroke="#f1e0ab" stroke-width="0.8" opacity="0.6"><path d="M195.6,170.3 L194.6,172.8 L195.3,173.7 L201.6,175.3 L205.0,172.8 L205.5,170.3 L204.2,169.0 L198.0,169.3Z" fill="#ecd89c"/><path d="M208.1,169.2 L206.6,170.1 L206.7,173.0 L215.2,180.3 L217.0,180.2 L219.3,172.2 L219.0,170.9 L218.0,170.3Z" fill="#f0e0ac"/><path d="M197.7,183.6 L200.6,177.9 L200.6,176.8 L199.6,175.9 L194.3,174.8 L193.2,176.8 L192.9,183.9 L194.4,184.8Z" fill="#e6ce8c"/><path d="M206.9,190.4 L208.8,190.5 L215.9,184.3 L216.3,183.2 L215.8,182.1 L206.8,174.4 L205.7,174.0 L202.3,176.4 L199.6,183.3Z" fill="#f2e4b6"/><path d="M218.0,181.6 L218.4,182.9 L220.2,183.7 L226.9,181.9 L229.1,173.6 L228.7,172.3 L222.0,170.9 L220.8,171.3Z" fill="#f2e4b6"/><path d="M228.4,181.0 L229.0,182.6 L233.3,184.5 L235.8,183.9 L237.1,174.5 L236.7,173.3 L231.8,172.3 L230.6,172.7Z" fill="#ecd89c"/><path d="M237.3,182.1 L237.7,183.2 L238.6,183.7 L246.3,183.3 L249.0,177.2 L248.9,176.0 L247.6,174.7 L238.9,173.5 L238.1,174.6Z" fill="#ecd89c"/><path d="M251.0,176.8 L249.9,177.6 L247.7,183.4 L248.6,186.1 L256.5,188.9 L257.7,188.8 L258.4,187.8 L260.3,177.6 L259.3,176.8 L255.1,176.1Z" fill="#f2e4b6"/><path d="M291.3,182.9 L289.7,183.5 L289.6,185.0 L291.1,186.1 L292.6,185.9 L293.4,185.1 L293.4,183.9Z" fill="#f2e4b6"/><path d="M202.9,194.2 L205.6,192.8 L206.0,191.1 L199.1,184.8 L197.9,184.6 L193.0,186.8 L192.8,190.7 L193.4,191.9Z" fill="#f0e0ac"/><path d="M209.6,191.1 L209.2,192.8 L212.6,199.1 L213.5,199.8 L214.7,199.7 L220.9,191.7 L219.7,185.0 L218.4,184.2 L217.3,184.4Z" fill="#f2e4b6"/><path d="M222.1,184.3 L221.0,185.8 L222.1,191.2 L224.8,195.5 L231.9,197.5 L233.2,197.2 L233.7,196.0 L232.8,185.6 L227.5,183.1Z" fill="#ead598"/><path d="M234.8,197.5 L235.3,198.5 L236.4,198.9 L245.5,196.9 L247.8,187.4 L246.7,184.8 L236.9,184.8 L234.6,185.7 L234.2,186.8Z" fill="#f2e4b6"/><path d="M250.4,188.1 L248.6,188.9 L246.7,197.0 L248.4,199.5 L249.4,200.0 L259.6,194.2 L260.3,193.0 L259.9,191.9 L258.2,190.5Z" fill="#e6ce8c"/><path d="M259.2,189.0 L259.5,190.2 L262.6,192.7 L264.6,193.3 L266.1,192.6 L268.0,181.4 L267.6,180.2 L263.2,177.8 L261.8,178.2Z" fill="#f0e0ac"/><path d="M267.7,190.9 L268.8,192.5 L278.1,193.5 L282.8,184.4 L282.8,183.1 L280.3,180.8 L272.7,179.3 L269.8,180.2 L269.0,181.2Z" fill="#f2e4b6"/><path d="M286.4,184.1 L284.9,183.9 L283.9,184.4 L279.4,193.8 L279.5,194.9 L281.6,198.2 L289.8,197.8 L292.8,192.8 L290.6,187.3Z" fill="#e6ce8c"/><path d="M293.5,186.8 L292.3,188.4 L294.4,192.1 L305.3,193.9 L308.2,191.5 L307.9,188.6 L305.0,185.7 L301.1,184.9Z" fill="#f2e4b6"/><path d="M309.5,188.0 L309.3,190.8 L309.9,191.9 L318.9,196.6 L321.2,196.0 L321.2,190.8 L320.6,189.7 L311.2,187.2Z" fill="#f0e0ac"/><path d="M326.2,191.0 L323.0,190.6 L322.3,191.7 L322.5,193.8 L323.7,194.6 L326.3,193.4 L326.8,192.4Z" fill="#ecd89c"/><path d="M332.8,191.3 L331.4,192.3 L331.8,193.9 L338.3,198.6 L340.1,198.3 L342.3,194.3 L341.6,192.4 L339.1,191.4Z" fill="#e6ce8c"/><path d="M201.3,194.8 L193.7,193.5 L193.1,194.7 L194.1,203.0 L195.0,204.0 L197.7,204.4 L198.6,203.6 L202.2,195.8Z" fill="#f0e0ac"/><path d="M208.6,193.9 L206.9,193.2 L204.2,195.2 L199.8,203.7 L200.5,205.3 L206.3,208.2 L212.7,204.7 L213.4,203.7 L213.1,202.1Z" fill="#e9d394"/><path d="M222.8,194.2 L221.5,193.6 L220.4,194.2 L214.5,201.9 L214.9,204.0 L217.7,205.1 L219.1,204.5 L223.8,196.9Z" fill="#ead598"/><path d="M220.4,204.4 L220.3,205.8 L221.3,206.7 L232.1,206.6 L233.1,205.6 L234.2,199.8 L233.2,198.9 L225.2,197.2Z" fill="#ecd89c"/><path d="M242.7,211.9 L243.9,212.1 L244.7,211.6 L249.0,202.8 L248.6,201.2 L245.6,198.4 L235.9,200.1 L234.2,205.1 L234.7,206.6Z" fill="#e6ce8c"/><path d="M251.4,200.2 L250.7,201.4 L251.2,202.6 L254.7,204.4 L255.9,204.3 L263.5,200.0 L264.0,194.8 L263.2,194.0 L261.8,194.0Z" fill="#ecd89c"/><path d="M264.8,200.0 L268.1,205.5 L269.2,205.5 L279.4,199.4 L279.8,197.9 L278.4,195.1 L267.5,193.4 L265.7,194.1Z" fill="#e9d394"/><path d="M285.2,199.2 L283.9,200.1 L284.1,201.6 L291.0,208.5 L292.9,208.5 L294.8,205.2 L294.5,203.8 L290.2,199.1Z" fill="#f0e0ac"/><path d="M296.0,203.6 L302.3,201.5 L304.5,196.5 L304.1,195.1 L294.9,193.2 L293.7,193.5 L291.4,197.6 L291.7,199.1Z" fill="#e9d394"/><path d="M303.3,201.7 L303.3,202.9 L308.0,210.3 L309.6,210.9 L316.8,206.8 L318.5,198.2 L317.7,197.1 L308.8,192.9 L306.3,195.0Z" fill="#f2e4b6"/><path d="M323.3,212.3 L324.6,212.7 L325.6,212.0 L328.1,203.8 L322.6,197.8 L321.4,197.3 L319.6,198.5 L318.0,206.8Z" fill="#e9d394"/><path d="M328.1,193.4 L323.8,196.6 L324.0,197.8 L329.1,202.9 L337.8,204.8 L339.2,204.0 L338.9,200.3 L329.5,193.5Z" fill="#e6ce8c"/><path d="M340.4,199.9 L340.8,205.2 L341.8,205.8 L344.5,205.6 L345.1,204.2 L343.7,198.4 L341.9,197.9Z" fill="#e6ce8c"/><path d="M206.0,209.4 L197.7,205.5 L196.9,206.2 L196.8,209.5 L203.4,213.8 L205.2,213.8 L206.3,212.0Z" fill="#e6ce8c"/><path d="M219.5,208.1 L218.3,206.4 L214.0,205.2 L207.7,209.1 L207.3,211.9 L213.2,217.1 L218.5,217.3 L219.6,216.0Z" fill="#ecd89c"/><path d="M220.6,217.4 L222.7,219.7 L228.0,219.8 L229.2,219.3 L231.3,209.3 L230.8,208.0 L222.0,207.7 L220.8,208.3Z" fill="#e9d394"/><path d="M234.7,207.8 L233.5,207.6 L232.5,208.5 L230.3,219.5 L230.7,220.7 L232.7,222.0 L243.8,217.9 L244.7,216.7 L243.7,213.8Z" fill="#e6ce8c"/><path d="M248.7,219.2 L250.0,219.4 L257.0,216.8 L258.0,215.6 L255.0,205.9 L250.8,203.7 L249.3,204.4 L245.0,213.5 L246.1,217.2Z" fill="#e6ce8c"/><path d="M266.9,216.8 L267.7,215.6 L267.3,207.1 L264.7,202.2 L263.1,201.5 L256.9,204.9 L256.3,206.5 L259.4,215.9Z" fill="#ead598"/><path d="M268.7,215.1 L269.6,216.3 L272.0,216.7 L279.2,213.7 L280.0,202.9 L279.4,201.6 L277.9,201.5 L268.7,207.1Z" fill="#f0e0ac"/><path d="M283.6,202.5 L282.1,202.1 L281.1,203.2 L280.7,213.2 L281.7,214.0 L290.2,215.7 L291.0,214.7 L291.6,210.7Z" fill="#e9d394"/><path d="M300.4,218.8 L306.5,216.7 L307.9,212.6 L302.8,204.0 L301.7,203.3 L296.0,205.2 L292.9,210.8 L292.0,214.6 L292.9,216.1Z" fill="#e6ce8c"/><path d="M308.7,217.7 L309.9,218.0 L322.8,216.5 L323.7,215.9 L324.0,214.7 L318.1,208.7 L316.7,208.3 L309.1,212.5 L307.9,216.2Z" fill="#ead598"/><path d="M326.5,212.6 L326.8,214.0 L328.2,214.5 L337.5,210.9 L339.1,207.9 L339.0,206.7 L338.0,205.9 L329.5,204.4Z" fill="#f0e0ac"/><path d="M341.7,206.8 L340.4,207.5 L339.0,211.2 L341.9,219.4 L343.0,220.2 L349.9,220.7 L350.6,219.5 L350.0,214.8 L346.1,207.7 L345.2,207.0Z" fill="#f2e4b6"/><path d="M225.1,220.8 L223.7,221.7 L224.0,223.3 L230.0,227.5 L231.8,227.3 L232.2,226.3 L231.6,222.8 L229.4,220.9Z" fill="#e6ce8c"/><path d="M233.1,224.2 L234.0,230.4 L237.0,232.4 L244.7,233.0 L248.6,229.4 L248.6,220.4 L245.2,218.5 L233.8,222.9Z" fill="#f0e0ac"/><path d="M263.9,227.7 L265.6,219.4 L264.8,218.0 L258.9,217.2 L250.8,220.2 L249.9,221.0 L249.8,229.3 L256.3,232.9 L258.3,233.0Z" fill="#f2e4b6"/><path d="M275.7,228.1 L276.2,226.3 L271.9,218.2 L268.7,217.3 L267.4,217.8 L265.4,226.7 L265.7,227.9 L270.1,231.8Z" fill="#e6ce8c"/><path d="M289.0,218.3 L288.2,216.6 L280.2,214.7 L274.2,217.0 L273.4,218.3 L277.8,227.1 L283.3,231.0 L284.4,230.5 L287.1,226.5Z" fill="#e9d394"/><path d="M292.1,216.8 L290.2,217.6 L288.5,225.7 L289.4,226.7 L295.8,228.3 L300.0,225.0 L300.3,220.4 L299.5,219.5Z" fill="#e9d394"/><path d="M306.3,234.7 L307.4,235.5 L308.7,235.0 L313.3,226.8 L308.7,219.0 L306.8,217.8 L301.7,219.9 L301.2,224.7Z" fill="#ecd89c"/><path d="M314.0,225.5 L315.1,226.2 L320.8,226.0 L324.9,223.5 L325.6,222.3 L325.1,218.1 L323.7,217.4 L311.6,219.0 L311.0,220.8Z" fill="#e9d394"/><path d="M327.2,216.0 L326.3,217.2 L326.7,222.7 L331.7,226.3 L336.9,225.6 L340.9,220.5 L338.6,213.2 L337.6,212.3Z" fill="#e9d394"/><path d="M342.8,221.1 L341.5,221.6 L338.5,225.2 L338.3,226.7 L344.9,234.7 L348.8,234.3 L352.7,227.1 L352.7,225.8 L350.6,222.2Z" fill="#e9d394"/><path d="M355.3,221.9 L353.5,221.4 L352.6,222.9 L353.8,225.6 L355.4,226.1 L356.4,225.7 L356.9,224.6Z" fill="#f2e4b6"/><path d="M245.3,236.5 L246.2,237.7 L251.7,240.0 L254.8,235.0 L254.9,233.8 L254.2,233.0 L249.1,230.8 L245.4,233.9Z" fill="#e9d394"/><path d="M269.7,242.3 L270.6,240.8 L269.4,233.4 L265.7,229.3 L264.2,229.0 L259.4,233.4 L259.1,234.9 L264.1,243.9 L265.3,244.1Z" fill="#ecd89c"/><path d="M270.7,233.2 L272.1,241.2 L273.2,241.5 L283.2,239.5 L283.9,238.2 L283.1,232.6 L278.1,228.7 L276.5,228.8Z" fill="#e6ce8c"/><path d="M284.6,232.0 L284.8,237.3 L286.5,238.3 L294.5,235.0 L295.2,230.4 L294.3,229.2 L288.1,227.6Z" fill="#ead598"/><path d="M301.4,227.6 L299.6,226.9 L296.6,229.2 L296.1,234.2 L297.1,235.1 L303.9,236.3 L304.8,235.6 L304.9,234.4Z" fill="#e9d394"/><path d="M309.6,235.5 L309.6,236.9 L310.6,237.7 L320.6,237.5 L321.2,236.2 L320.4,227.7 L319.3,227.1 L314.4,227.5Z" fill="#f0e0ac"/><path d="M327.1,241.5 L328.5,241.6 L329.7,240.6 L331.1,227.8 L330.4,226.7 L326.0,224.2 L322.2,226.4 L321.6,227.7 L322.3,237.8Z" fill="#f0e0ac"/><path d="M343.5,236.6 L343.6,234.7 L337.2,227.1 L336.1,226.8 L332.4,227.8 L330.8,239.8 L331.3,241.1 L338.0,242.6Z" fill="#ecd89c"/><path d="M354.9,227.1 L353.4,227.9 L350.5,233.9 L350.7,235.3 L358.3,243.5 L365.7,240.5 L366.1,238.7 L359.6,227.9Z" fill="#e9d394"/><path d="M258.3,235.6 L257.1,234.8 L255.9,235.2 L253.4,240.8 L254.2,241.7 L261.1,244.6 L261.9,243.8 L262.0,242.7Z" fill="#e6ce8c"/><path d="M266.5,244.7 L265.5,246.0 L266.2,247.4 L272.0,249.9 L273.7,249.2 L273.8,248.0 L271.9,243.1 L270.6,243.0Z" fill="#ead598"/><path d="M280.1,253.9 L281.2,254.0 L282.1,253.2 L285.5,243.8 L284.7,241.4 L283.8,240.7 L274.6,242.3 L273.6,243.3 L276.2,251.7Z" fill="#f0e0ac"/><path d="M286.6,239.4 L285.7,240.7 L286.7,242.9 L295.3,248.0 L296.5,247.4 L303.1,238.6 L302.0,237.1 L295.4,235.9Z" fill="#ead598"/><path d="M309.2,238.9 L307.6,237.3 L305.4,237.9 L296.8,248.6 L297.1,250.5 L307.9,253.3 L311.1,251.7 L311.5,250.5Z" fill="#ead598"/><path d="M318.4,252.8 L322.7,250.8 L326.5,243.7 L326.4,242.4 L321.5,238.9 L311.3,238.9 L310.5,240.4 L312.6,250.8Z" fill="#f0e0ac"/><path d="M331.6,256.8 L333.5,256.6 L339.9,248.2 L337.5,243.9 L330.2,242.1 L327.9,243.3 L324.1,250.9 L324.6,251.9Z" fill="#e9d394"/><path d="M356.5,247.1 L357.4,245.2 L357.3,244.1 L349.1,235.4 L345.1,236.3 L339.1,243.4 L341.4,248.3 L348.8,252.7 L349.9,252.5Z" fill="#f2e4b6"/><path d="M366.9,242.3 L365.3,241.9 L359.2,244.6 L358.0,246.5 L358.3,247.8 L364.2,254.7 L365.3,254.5 L371.6,249.6 L370.2,245.8Z" fill="#ead598"/><path d="M282.9,253.8 L283.5,255.6 L292.1,259.9 L293.2,259.0 L296.0,250.9 L295.0,249.3 L287.0,244.8 L286.0,245.6Z" fill="#ead598"/><path d="M293.9,259.9 L294.4,261.6 L300.4,265.2 L304.9,264.6 L305.8,263.5 L307.3,254.9 L306.3,254.0 L297.5,252.2 L296.7,252.9Z" fill="#f2e4b6"/><path d="M309.3,253.9 L308.6,254.9 L306.9,264.8 L309.9,267.3 L315.6,267.2 L319.1,261.8 L318.4,254.4 L317.6,253.6 L312.6,252.3Z" fill="#f2e4b6"/><path d="M320.1,260.7 L320.9,261.9 L331.0,266.1 L332.2,265.9 L333.6,264.5 L332.2,258.4 L323.3,252.3 L322.2,252.4 L319.7,254.0Z" fill="#f2e4b6"/><path d="M342.1,249.9 L340.2,250.1 L333.6,258.2 L334.5,263.5 L335.3,264.5 L342.8,265.6 L348.7,260.1 L348.5,253.9Z" fill="#ecd89c"/><path d="M349.9,259.2 L350.5,260.4 L359.0,265.1 L363.6,265.4 L364.8,264.4 L363.5,256.1 L357.3,248.6 L356.0,248.8 L350.1,253.7Z" fill="#e6ce8c"/><path d="M365.4,255.6 L364.8,257.1 L366.4,264.3 L367.6,264.5 L376.2,262.3 L376.4,261.2 L374.7,255.5 L372.7,251.6 L371.1,251.6Z" fill="#f2e4b6"/><path d="M305.1,265.6 L304.0,266.5 L304.2,267.9 L306.8,270.0 L308.3,269.8 L308.9,268.8 L308.6,267.7 L306.2,265.7Z" fill="#ead598"/><path d="M321.0,263.1 L319.3,263.6 L316.9,268.0 L321.8,276.0 L323.2,276.5 L330.0,268.9 L330.3,267.6 L329.5,266.6Z" fill="#e6ce8c"/><path d="M332.6,266.9 L332.1,268.7 L336.1,275.3 L337.4,275.1 L343.1,270.5 L342.7,267.6 L341.8,266.7 L334.8,265.5Z" fill="#e6ce8c"/><path d="M344.1,265.9 L343.7,267.1 L344.4,270.5 L347.8,277.2 L348.8,277.9 L350.4,277.9 L357.3,267.1 L357.4,265.7 L349.7,261.3Z" fill="#e6ce8c"/><path d="M358.1,267.7 L352.2,278.1 L352.9,279.0 L354.5,279.8 L355.9,279.2 L360.7,269.1 L360.2,267.4 L359.1,267.1Z" fill="#e6ce8c"/><path d="M367.1,265.7 L365.9,267.0 L366.9,274.6 L370.4,277.9 L371.8,278.0 L379.5,273.8 L378.2,264.9 L377.6,263.9 L376.4,263.7Z" fill="#ecd89c"/><path d="M382.4,267.0 L380.9,266.6 L379.9,267.7 L380.9,273.5 L384.3,277.2 L385.7,277.5 L387.0,276.1 L387.1,275.0 L384.8,270.0Z" fill="#e6ce8c"/><path d="M319.2,280.3 L321.4,280.1 L322.1,278.4 L316.2,268.9 L314.9,268.3 L310.3,268.7 L309.4,271.3 L309.7,272.4Z" fill="#f2e4b6"/><path d="M323.7,278.1 L323.5,279.6 L325.0,280.9 L333.5,282.5 L334.7,281.5 L335.4,277.0 L332.1,270.8 L330.7,270.2Z" fill="#e6ce8c"/><path d="M339.4,285.8 L341.3,285.6 L347.0,278.6 L346.9,277.5 L343.8,272.4 L342.4,272.6 L336.4,277.4 L335.8,282.9Z" fill="#ecd89c"/><path d="M357.2,278.8 L357.5,280.5 L359.2,280.8 L365.6,275.2 L365.1,268.8 L364.4,267.7 L363.2,267.5 L362.3,268.2Z" fill="#e9d394"/><path d="M370.0,287.0 L371.2,285.7 L370.6,279.6 L367.1,276.5 L365.6,276.6 L360.1,281.6 L360.2,283.2 L364.8,287.8Z" fill="#ecd89c"/><path d="M376.0,289.0 L377.5,289.0 L385.9,282.3 L385.0,279.5 L380.5,275.1 L372.5,278.8 L371.7,279.7 L372.4,286.5Z" fill="#e9d394"/><path d="M326.1,284.8 L335.1,293.9 L338.5,294.4 L340.6,292.9 L340.0,287.5 L334.9,283.9 L327.3,282.4 L326.1,283.2Z" fill="#e6ce8c"/><path d="M356.0,283.3 L355.5,281.6 L351.0,279.2 L348.0,279.2 L341.4,287.3 L342.1,292.8 L348.8,296.8 L350.7,296.4Z" fill="#e9d394"/><path d="M359.2,283.6 L357.9,283.1 L356.8,284.0 L352.8,294.5 L353.6,296.2 L360.3,296.3 L363.8,289.7 L363.6,288.1Z" fill="#ecd89c"/><path d="M362.2,295.4 L362.6,297.2 L372.2,303.4 L373.4,303.5 L375.4,302.2 L376.9,296.6 L376.4,290.9 L371.8,287.8 L365.8,288.9 L364.9,289.6Z" fill="#f0e0ac"/><path d="M377.8,294.4 L379.2,295.8 L390.9,294.9 L392.7,291.7 L390.5,284.7 L386.7,283.4 L378.1,289.9 L377.5,290.9Z" fill="#ead598"/><path d="M345.8,306.1 L347.1,306.5 L348.7,305.4 L348.6,298.2 L342.3,294.2 L340.9,294.2 L338.9,295.6 L338.3,297.9Z" fill="#ecd89c"/><path d="M353.5,312.9 L355.2,313.7 L359.1,311.4 L359.3,298.9 L358.3,297.6 L351.4,297.3 L349.8,298.6 L349.9,306.1Z" fill="#ecd89c"/><path d="M362.6,298.5 L361.3,298.4 L360.4,299.4 L360.4,310.6 L361.8,311.5 L368.9,310.3 L371.7,305.7 L371.6,304.4Z" fill="#ecd89c"/><path d="M383.9,306.5 L385.1,306.5 L390.6,303.6 L390.7,297.6 L390.0,296.5 L378.9,296.8 L377.7,297.5 L376.6,301.6 L376.8,302.7Z" fill="#ead598"/><path d="M394.7,300.1 L393.5,299.0 L392.0,299.6 L391.8,302.7 L392.6,303.8 L394.0,304.1 L395.1,303.3Z" fill="#e9d394"/><path d="M359.9,312.8 L355.7,315.0 L355.8,316.3 L360.4,322.3 L365.1,324.4 L366.5,324.1 L371.4,318.3 L369.5,312.4 L368.5,311.6Z" fill="#ead598"/><path d="M376.5,319.9 L385.0,320.0 L386.4,318.5 L384.1,307.9 L375.7,303.6 L373.2,304.9 L370.2,311.1 L372.6,317.8Z" fill="#ecd89c"/><path d="M387.3,317.9 L388.7,319.1 L392.5,318.8 L393.5,318.2 L397.2,312.3 L395.6,305.9 L391.3,304.6 L385.6,307.6 L385.4,308.8Z" fill="#f0e0ac"/><path d="M394.8,318.0 L394.8,319.6 L396.4,320.9 L397.5,321.2 L398.5,320.5 L398.3,317.4 L397.7,316.4 L396.1,316.3Z" fill="#ead598"/><path d="M373.9,332.6 L374.7,331.5 L376.0,321.5 L375.3,320.4 L372.5,319.3 L367.0,325.0 L366.7,326.2 L367.8,331.0 L371.9,333.2Z" fill="#ecd89c"/><path d="M384.6,323.4 L384.8,322.0 L383.8,321.1 L377.4,321.5 L375.9,330.4 L376.3,331.6 L377.3,332.1 L379.0,331.6Z" fill="#ecd89c"/><path d="M388.2,320.1 L387.1,320.7 L386.8,321.9 L391.3,336.0 L392.9,336.4 L400.4,332.4 L400.8,331.1 L399.5,324.6 L393.3,319.9Z" fill="#e9d394"/><path d="M373.0,336.5 L379.1,343.5 L385.5,340.3 L386.2,339.3 L385.7,337.8 L378.7,333.1 L375.3,333.1 L373.7,333.9 L373.0,334.8Z" fill="#ead598"/><path d="M387.9,338.1 L389.6,338.2 L390.3,336.6 L387.0,325.8 L385.3,324.9 L384.3,325.6 L380.3,332.3Z" fill="#e6ce8c"/><path d="M399.4,334.2 L392.0,338.5 L392.1,339.7 L397.4,346.1 L398.5,346.4 L401.8,345.4 L402.1,344.3 L401.6,337.4 L400.9,334.4Z" fill="#e9d394"/><path d="M386.9,340.6 L380.5,344.8 L380.7,346.0 L384.9,352.3 L386.8,352.4 L387.4,351.5 L388.6,341.1Z" fill="#f2e4b6"/><path d="M392.5,341.8 L391.0,341.3 L390.0,342.3 L388.1,353.4 L388.6,354.8 L390.9,355.8 L396.2,352.2 L397.0,347.9 L396.7,346.9Z" fill="#f0e0ac"/><path d="M402.4,348.4 L401.1,347.0 L398.4,347.7 L397.6,351.1 L397.9,352.2 L400.7,353.8 L402.1,353.4 L402.6,352.4Z" fill="#f0e0ac"/><path d="M389.9,356.6 L388.4,356.7 L387.8,358.0 L388.8,360.3 L390.1,360.9 L391.2,360.4 L391.5,359.3 L390.9,357.3Z" fill="#ead598"/><path d="M397.8,353.4 L396.2,353.6 L392.6,356.3 L392.1,357.7 L394.4,364.9 L400.8,366.6 L401.9,365.4 L402.8,356.6 L402.1,355.6Z" fill="#f0e0ac"/><path d="M393.3,366.5 L392.7,368.2 L396.0,374.7 L396.9,375.4 L398.0,375.3 L401.4,370.5 L401.2,368.4 L394.7,366.2Z" fill="#e6ce8c"/><path d="M398.1,377.4 L397.9,378.7 L400.3,384.2 L402.9,385.7 L404.2,385.4 L404.8,384.1 L403.8,374.0 L403.3,372.9 L402.3,372.4 L401.2,372.7Z" fill="#ecd89c"/></g>
<path d="M195.0,170.0 C199.4,165.8 225.1,171.2 233.0,172.0 C240.9,172.8 254.9,175.5 263.0,177.0 C271.1,178.5 294.5,182.9 302.0,184.5 C309.5,186.1 322.3,189.6 327.0,190.5 C331.7,191.4 339.6,189.7 342.0,192.0 C344.4,194.3 344.9,204.9 347.6,210.0 C350.3,215.1 361.9,229.5 365.4,235.4 C368.9,241.3 375.6,256.6 378.0,260.8 C380.4,265.0 384.2,267.1 386.0,271.0 C387.8,274.9 392.0,286.5 393.8,293.8 C395.6,301.1 400.5,324.6 401.7,333.5 C402.9,342.4 403.6,363.6 404.0,370.0 C404.4,376.4 405.5,385.1 405.5,388.0 C405.5,390.9 404.9,395.9 404.0,395.0 C403.1,394.1 399.5,383.4 398.0,380.0 C396.5,376.6 392.8,369.5 391.0,366.0 C389.2,362.5 384.9,353.0 383.0,350.0 C381.1,347.0 377.1,342.4 375.0,340.0 C372.9,337.6 367.4,331.9 365.0,329.0 C362.6,326.1 356.8,318.1 354.0,315.0 C351.2,311.9 343.8,305.0 341.0,302.0 C338.2,299.0 332.7,291.6 330.0,289.0 C327.3,286.4 321.3,282.6 318.0,280.0 C314.7,277.4 305.7,269.6 302.0,267.0 C298.3,264.4 289.7,259.5 286.0,257.5 C282.3,255.5 272.7,250.8 270.0,249.5 C267.3,248.2 266.5,248.2 263.0,246.5 C259.5,244.8 244.9,237.9 240.0,235.0 C235.1,232.1 226.2,225.2 221.0,222.0 C215.8,218.8 198.0,214.1 195.0,208.0 C192.0,201.9 190.6,174.2 195.0,170.0 Z" fill="url(#fatGrad)"/>
<path d="M195.0,170.0 C201.3,170.3 221.7,170.8 233.0,172.0 C244.3,173.2 251.5,174.9 263.0,177.0 C274.5,179.1 291.3,182.2 302.0,184.5 C312.7,186.8 320.3,189.2 327.0,190.5 C333.7,191.8 339.5,191.8 342.0,192.0" fill="none" stroke="#fbf7ee" stroke-width="3"/>
<path d="M195.0,208.0 C197.6,203.4 216.5,219.3 221.0,222.0 C225.5,224.7 235.8,232.6 240.0,235.0 C244.2,237.4 260.0,245.1 263.0,246.5 C266.0,247.9 267.7,248.4 270.0,249.5 C272.3,250.6 282.8,255.8 286.0,257.5 C289.2,259.2 298.8,264.8 302.0,267.0 C305.2,269.2 315.2,277.8 318.0,280.0 C320.8,282.2 327.7,286.8 330.0,289.0 C332.3,291.2 338.6,299.4 341.0,302.0 C343.4,304.6 351.6,312.3 354.0,315.0 C356.4,317.7 362.9,326.5 365.0,329.0 C367.1,331.5 373.2,337.9 375.0,340.0 C376.8,342.1 381.4,347.4 383.0,350.0 C384.6,352.6 389.5,363.0 391.0,366.0 C392.5,369.0 396.7,377.1 398.0,380.0 C399.3,382.9 404.3,393.8 404.0,395.0 C403.7,396.2 397.1,393.4 395.0,392.0 C392.9,390.6 385.3,381.8 383.0,381.0 C380.7,380.2 374.7,384.1 372.0,384.0 C369.3,383.9 359.0,382.1 356.0,380.0 C353.0,377.9 344.8,365.9 342.0,363.0 C339.2,360.1 330.8,353.3 328.0,351.0 C325.2,348.7 316.6,342.2 314.0,340.0 C311.4,337.8 304.8,331.4 302.0,329.0 C299.2,326.6 289.2,318.2 286.0,316.0 C282.8,313.8 273.0,308.6 270.0,307.0 C267.0,305.4 259.8,301.4 256.0,299.5 C252.2,297.6 235.6,290.2 232.0,288.5 C228.4,286.8 222.5,283.4 220.0,282.0 C217.5,280.6 209.5,276.4 207.0,275.0 C204.5,273.6 196.2,274.7 195.0,268.0 C193.8,261.3 192.4,212.6 195.0,208.0 Z" fill="#ea8479"/>
<path d="M200.0,214.0 C201.3,214.8 205.3,216.9 208.0,218.4 C210.7,219.8 213.3,221.2 216.0,222.7 C218.7,224.2 221.3,225.7 224.0,227.4 C226.7,229.1 229.3,231.0 232.0,232.8 C234.7,234.6 237.3,236.6 240.0,238.2 C242.7,239.7 245.3,240.8 248.0,242.2 C250.7,243.5 253.3,244.8 256.0,246.1 C258.7,247.5 261.3,248.8 264.0,250.1 C266.7,251.3 269.3,252.4 272.0,253.7 C274.7,255.0 277.3,256.4 280.0,257.7 C282.7,259.1 285.3,260.4 288.0,262.0 C290.7,263.5 293.3,265.1 296.0,266.8 C298.7,268.5 301.3,270.1 304.0,272.1 C306.7,274.1 309.3,276.5 312.0,278.6 C314.7,280.8 317.3,282.9 320.0,285.0 C322.7,287.1 325.3,288.6 328.0,291.0 C330.7,293.4 333.3,296.7 336.0,299.5 C338.7,302.4 342.7,306.8 344.0,308.2" fill="none" stroke="#f5aca2" stroke-width="1" opacity="0.6"/>
<path d="M200.0,220.7 C201.3,221.5 205.3,223.6 208.0,225.1 C210.7,226.5 213.3,227.9 216.0,229.4 C218.7,230.9 221.3,232.4 224.0,234.1 C226.7,235.7 229.3,237.6 232.0,239.4 C234.7,241.1 237.3,243.0 240.0,244.5 C242.7,246.0 245.3,247.2 248.0,248.5 C250.7,249.8 253.3,251.1 256.0,252.4 C258.7,253.7 261.3,255.1 264.0,256.4 C266.7,257.7 269.3,258.8 272.0,260.1 C274.7,261.4 277.3,262.8 280.0,264.2 C282.7,265.6 285.3,266.9 288.0,268.5 C290.7,270.1 293.3,271.8 296.0,273.6 C298.7,275.3 301.3,277.0 304.0,279.0 C306.7,281.0 309.3,283.5 312.0,285.6 C314.7,287.8 317.3,290.0 320.0,292.0 C322.7,294.1 325.3,295.7 328.0,298.1 C330.7,300.5 333.3,303.6 336.0,306.4 C338.7,309.1 342.7,313.3 344.0,314.7" fill="none" stroke="#d86c63" stroke-width="1" opacity="0.6"/>
<path d="M200.0,227.4 C201.3,228.2 205.3,230.4 208.0,231.8 C210.7,233.3 213.3,234.6 216.0,236.1 C218.7,237.6 221.3,239.1 224.0,240.8 C226.7,242.4 229.3,244.2 232.0,245.9 C234.7,247.6 237.3,249.4 240.0,250.9 C242.7,252.4 245.3,253.5 248.0,254.8 C250.7,256.1 253.3,257.4 256.0,258.7 C258.7,260.0 261.3,261.4 264.0,262.7 C266.7,264.0 269.3,265.2 272.0,266.5 C274.7,267.8 277.3,269.2 280.0,270.6 C282.7,272.1 285.3,273.5 288.0,275.1 C290.7,276.7 293.3,278.5 296.0,280.3 C298.7,282.1 301.3,283.8 304.0,285.9 C306.7,288.0 309.3,290.4 312.0,292.6 C314.7,294.8 317.3,297.0 320.0,299.1 C322.7,301.1 325.3,302.8 328.0,305.1 C330.7,307.5 333.3,310.6 336.0,313.2 C338.7,315.9 342.7,319.8 344.0,321.1" fill="none" stroke="#f5aca2" stroke-width="1" opacity="0.6"/>
<path d="M200.0,234.1 C201.3,234.9 205.3,237.1 208.0,238.5 C210.7,240.0 213.3,241.4 216.0,242.9 C218.7,244.3 221.3,245.8 224.0,247.4 C226.7,249.0 229.3,250.8 232.0,252.5 C234.7,254.1 237.3,255.8 240.0,257.2 C242.7,258.7 245.3,259.8 248.0,261.1 C250.7,262.4 253.3,263.6 256.0,265.0 C258.7,266.3 261.3,267.7 264.0,269.0 C266.7,270.4 269.3,271.6 272.0,272.9 C274.7,274.3 277.3,275.7 280.0,277.1 C282.7,278.6 285.3,280.0 288.0,281.6 C290.7,283.3 293.3,285.2 296.0,287.0 C298.7,288.9 301.3,290.7 304.0,292.8 C306.7,294.9 309.3,297.4 312.0,299.6 C314.7,301.9 317.3,304.0 320.0,306.1 C322.7,308.2 325.3,309.9 328.0,312.2 C330.7,314.5 333.3,317.6 336.0,320.1 C338.7,322.7 342.7,326.3 344.0,327.6" fill="none" stroke="#d86c63" stroke-width="1" opacity="0.6"/>
<path d="M200.0,240.8 C201.3,241.5 205.3,243.8 208.0,245.3 C210.7,246.7 213.3,248.1 216.0,249.6 C218.7,251.1 221.3,252.5 224.0,254.1 C226.7,255.7 229.3,257.4 232.0,259.0 C234.7,260.6 237.3,262.2 240.0,263.6 C242.7,265.0 245.3,266.1 248.0,267.4 C250.7,268.7 253.3,269.9 256.0,271.2 C258.7,272.6 261.3,274.0 264.0,275.4 C266.7,276.7 269.3,277.9 272.0,279.3 C274.7,280.7 277.3,282.1 280.0,283.6 C282.7,285.0 285.3,286.5 288.0,288.2 C290.7,289.9 293.3,291.9 296.0,293.8 C298.7,295.7 301.3,297.6 304.0,299.7 C306.7,301.9 309.3,304.4 312.0,306.6 C314.7,308.9 317.3,311.0 320.0,313.1 C322.7,315.2 325.3,316.9 328.0,319.2 C330.7,321.6 333.3,324.5 336.0,327.0 C338.7,329.4 342.7,332.8 344.0,334.0" fill="none" stroke="#f5aca2" stroke-width="1" opacity="0.6"/>
<path d="M200.0,247.5 C201.3,248.2 205.3,250.5 208.0,252.0 C210.7,253.5 213.3,254.8 216.0,256.3 C218.7,257.8 221.3,259.2 224.0,260.8 C226.7,262.3 229.3,264.0 232.0,265.6 C234.7,267.1 237.3,268.6 240.0,269.9 C242.7,271.3 245.3,272.5 248.0,273.7 C250.7,275.0 253.3,276.2 256.0,277.5 C258.7,278.9 261.3,280.3 264.0,281.7 C266.7,283.0 269.3,284.3 272.0,285.7 C274.7,287.1 277.3,288.5 280.0,290.0 C282.7,291.5 285.3,293.0 288.0,294.7 C290.7,296.5 293.3,298.5 296.0,300.5 C298.7,302.5 301.3,304.5 304.0,306.6 C306.7,308.8 309.3,311.4 312.0,313.7 C314.7,315.9 317.3,318.0 320.0,320.1 C322.7,322.2 325.3,324.0 328.0,326.3 C330.7,328.6 333.3,331.5 336.0,333.8 C338.7,336.2 342.7,339.3 344.0,340.4" fill="none" stroke="#d86c63" stroke-width="1" opacity="0.6"/>
<path d="M200.0,254.2 C201.3,254.9 205.3,257.2 208.0,258.7 C210.7,260.2 213.3,261.6 216.0,263.0 C218.7,264.5 221.3,266.0 224.0,267.5 C226.7,269.0 229.3,270.6 232.0,272.1 C234.7,273.6 237.3,275.0 240.0,276.3 C242.7,277.6 245.3,278.8 248.0,280.0 C250.7,281.3 253.3,282.5 256.0,283.8 C258.7,285.1 261.3,286.6 264.0,288.0 C266.7,289.4 269.3,290.7 272.0,292.1 C274.7,293.5 277.3,295.0 280.0,296.5 C282.7,298.0 285.3,299.5 288.0,301.3 C290.7,303.1 293.3,305.2 296.0,307.3 C298.7,309.3 301.3,311.3 304.0,313.6 C306.7,315.8 309.3,318.4 312.0,320.7 C314.7,322.9 317.3,325.0 320.0,327.2 C322.7,329.3 325.3,331.1 328.0,333.4 C330.7,335.6 333.3,338.4 336.0,340.7 C338.7,343.0 342.7,345.9 344.0,346.9" fill="none" stroke="#f5aca2" stroke-width="1" opacity="0.6"/>
<path d="M200.0,260.9 C201.3,261.6 205.3,264.0 208.0,265.4 C210.7,266.9 213.3,268.3 216.0,269.8 C218.7,271.2 221.3,272.7 224.0,274.1 C226.7,275.6 229.3,277.3 232.0,278.7 C234.7,280.1 237.3,281.4 240.0,282.6 C242.7,283.9 245.3,285.1 248.0,286.4 C250.7,287.6 253.3,288.8 256.0,290.1 C258.7,291.4 261.3,292.9 264.0,294.3 C266.7,295.7 269.3,297.1 272.0,298.5 C274.7,300.0 277.3,301.4 280.0,302.9 C282.7,304.5 285.3,306.0 288.0,307.8 C290.7,309.6 293.3,311.9 296.0,314.0 C298.7,316.1 301.3,318.2 304.0,320.5 C306.7,322.7 309.3,325.4 312.0,327.7 C314.7,329.9 317.3,332.1 320.0,334.2 C322.7,336.3 325.3,338.2 328.0,340.4 C330.7,342.6 333.3,345.4 336.0,347.6 C338.7,349.7 342.7,352.4 344.0,353.3" fill="none" stroke="#d86c63" stroke-width="1" opacity="0.6"/>
<path d="M200.0,267.6 C201.3,268.3 205.3,270.7 208.0,272.2 C210.7,273.7 213.3,275.0 216.0,276.5 C218.7,277.9 221.3,279.4 224.0,280.8 C226.7,282.3 229.3,283.9 232.0,285.2 C234.7,286.6 237.3,287.7 240.0,289.0 C242.7,290.2 245.3,291.4 248.0,292.7 C250.7,293.9 253.3,295.0 256.0,296.4 C258.7,297.7 261.3,299.2 264.0,300.6 C266.7,302.1 269.3,303.5 272.0,304.9 C274.7,306.4 277.3,307.8 280.0,309.4 C282.7,311.0 285.3,312.5 288.0,314.4 C290.7,316.2 293.3,318.6 296.0,320.8 C298.7,322.9 301.3,325.1 304.0,327.4 C306.7,329.7 309.3,332.4 312.0,334.7 C314.7,337.0 317.3,339.1 320.0,341.2 C322.7,343.3 325.3,345.3 328.0,347.5 C330.7,349.7 333.3,352.4 336.0,354.4 C338.7,356.5 342.7,358.9 344.0,359.8" fill="none" stroke="#f5aca2" stroke-width="1" opacity="0.6"/>
<path d="M195.0,208.0 C197.6,203.4 216.5,219.3 221.0,222.0 C225.5,224.7 235.8,232.6 240.0,235.0 C244.2,237.4 260.0,245.1 263.0,246.5 C266.0,247.9 267.7,248.4 270.0,249.5 C272.3,250.6 282.8,255.8 286.0,257.5 C289.2,259.2 298.8,264.8 302.0,267.0 C305.2,269.2 315.2,277.8 318.0,280.0 C320.8,282.2 327.7,286.8 330.0,289.0 C332.3,291.2 338.6,299.4 341.0,302.0 C343.4,304.6 351.6,312.3 354.0,315.0 C356.4,317.7 362.9,326.5 365.0,329.0 C367.1,331.5 373.2,337.9 375.0,340.0 C376.8,342.1 381.4,347.4 383.0,350.0 C384.6,352.6 389.5,363.0 391.0,366.0 C392.5,369.0 396.7,377.1 398.0,380.0 C399.3,382.9 404.3,393.8 404.0,395.0 C403.7,396.2 397.1,393.4 395.0,392.0 C392.9,390.6 385.3,381.8 383.0,381.0 C380.7,380.2 374.7,384.1 372.0,384.0 C369.3,383.9 359.0,382.1 356.0,380.0 C353.0,377.9 344.8,365.9 342.0,363.0 C339.2,360.1 330.8,353.3 328.0,351.0 C325.2,348.7 316.6,342.2 314.0,340.0 C311.4,337.8 304.8,331.4 302.0,329.0 C299.2,326.6 289.2,318.2 286.0,316.0 C282.8,313.8 273.0,308.6 270.0,307.0 C267.0,305.4 259.8,301.4 256.0,299.5 C252.2,297.6 235.6,290.2 232.0,288.5 C228.4,286.8 222.5,283.4 220.0,282.0 C217.5,280.6 209.5,276.4 207.0,275.0 C204.5,273.6 196.2,274.7 195.0,268.0 C193.8,261.3 192.4,212.6 195.0,208.0 Z" fill="url(#apoGrad)"/>
<path d="M195.0,238.0 C199.3,239.5 212.2,243.7 221.0,247.0 C229.8,250.3 239.8,254.2 248.0,258.0 C256.2,261.8 263.7,266.3 270.0,270.0 C276.3,273.7 280.7,276.5 286.0,280.0 C291.3,283.5 296.7,286.5 302.0,291.0 C307.3,295.5 313.3,302.3 318.0,307.0 C322.7,311.7 326.2,314.8 330.0,319.0 C333.8,323.2 337.7,327.8 341.0,332.0 C344.3,336.2 348.5,342.0 350.0,344.0" fill="none" stroke="#7f7c82" stroke-width="3.0" opacity="0.8"/>
<path d="M195.0,238.0 C199.3,239.5 212.2,243.7 221.0,247.0 C229.8,250.3 239.8,254.2 248.0,258.0 C256.2,261.8 263.7,266.3 270.0,270.0 C276.3,273.7 280.7,276.5 286.0,280.0 C291.3,283.5 296.7,286.5 302.0,291.0 C307.3,295.5 313.3,302.3 318.0,307.0 C322.7,311.7 326.2,314.8 330.0,319.0 C333.8,323.2 337.7,327.8 341.0,332.0 C344.3,336.2 348.5,342.0 350.0,344.0" fill="none" stroke="#bdb8bd" stroke-width="1.5"/>
<path d="M338.0,328.0 C340.0,330.5 346.2,338.0 350.0,343.0 C353.8,348.0 357.7,353.0 361.0,358.0 C364.3,363.0 367.5,368.7 370.0,373.0 C372.5,377.3 375.0,382.2 376.0,384.0" fill="none" stroke="#85868c" stroke-width="1.1" opacity="0.75"/>
<path d="M326.0,335.0 C328.3,337.5 335.5,345.0 340.0,350.0 C344.5,355.0 349.0,360.0 353.0,365.0 C357.0,370.0 362.2,377.5 364.0,380.0" fill="none" stroke="#85868c" stroke-width="1" opacity="0.65"/>
<path d="M352.0,330.0 C353.7,332.5 358.8,340.0 362.0,345.0 C365.2,350.0 368.0,355.0 371.0,360.0 C374.0,365.0 378.5,372.5 380.0,375.0" fill="none" stroke="#a09a9a" stroke-width="0.9" opacity="0.5"/>
<path d="M195.0,268.0 C197.0,269.2 202.8,272.7 207.0,275.0 C211.2,277.3 215.8,279.8 220.0,282.0 C224.2,284.2 226.0,285.6 232.0,288.5 C238.0,291.4 249.7,296.4 256.0,299.5 C262.3,302.6 265.0,304.2 270.0,307.0 C275.0,309.8 280.7,312.3 286.0,316.0 C291.3,319.7 297.3,325.0 302.0,329.0 C306.7,333.0 309.7,336.3 314.0,340.0 C318.3,343.7 323.3,347.2 328.0,351.0 C332.7,354.8 337.3,358.3 342.0,363.0 C346.7,367.7 351.0,372.5 356.0,379.0 C361.0,385.5 366.8,393.2 372.0,402.0 C377.2,410.8 383.8,424.0 387.5,432.0 C391.2,440.0 391.3,443.3 394.0,450.0 C396.7,456.7 400.3,466.3 403.5,472.0 C406.7,477.7 411.4,482.0 413.0,484.0" fill="none" stroke="#b9d2e2" stroke-width="2.2"/>
<path d="M197.0,265.6 C199.0,266.8 204.8,270.3 209.0,272.6 C213.2,274.9 217.8,277.4 222.0,279.6 C226.2,281.9 228.0,283.2 234.0,286.1 C240.0,289.0 251.7,294.0 258.0,297.1 C264.3,300.2 267.0,301.9 272.0,304.6 C277.0,307.4 282.7,309.9 288.0,313.6 C293.3,317.3 299.3,322.6 304.0,326.6 C308.7,330.6 311.7,333.9 316.0,337.6 C320.3,341.3 325.3,344.8 330.0,348.6 C334.7,352.4 339.3,355.9 344.0,360.6 C348.7,365.3 355.7,373.9 358.0,376.6" fill="none" stroke="#dde9f0" stroke-width="2.2"/>
<path d="M198.4,263.8 C200.4,265.0 206.2,268.5 210.4,270.8 C214.6,273.1 219.2,275.6 223.4,277.8 C227.6,280.1 229.4,281.4 235.4,284.3 C241.4,287.2 253.1,292.2 259.4,295.3 C265.7,298.4 268.4,300.1 273.4,302.8 C278.4,305.6 284.1,308.1 289.4,311.8 C294.7,315.5 300.7,320.8 305.4,324.8 C310.1,328.8 313.1,332.1 317.4,335.8 C321.7,339.5 326.7,343.0 331.4,346.8 C336.1,350.6 340.7,354.1 345.4,358.8 C350.1,363.5 357.1,372.1 359.4,374.8" fill="none" stroke="#a9c0cf" stroke-width="0.9"/>
<path d="M364.0,388.0 C365.0,390.5 375.2,406.6 376.0,408.0 C376.8,409.4 370.9,399.6 372.0,402.0 C373.1,404.4 385.3,427.2 387.5,432.0 C389.7,436.8 392.4,446.0 394.0,450.0 C395.6,454.0 401.6,468.6 403.5,472.0 C405.4,475.4 410.9,483.4 413.0,484.0 C415.1,484.6 423.7,479.9 424.5,478.0 C425.3,476.1 421.8,467.8 421.0,465.0 C420.2,462.2 417.5,453.1 416.5,450.0 C415.5,446.9 412.6,437.6 411.4,434.0 C410.1,430.4 405.6,417.9 404.0,413.5 C402.4,409.1 396.4,392.8 395.0,389.7 C393.6,386.6 391.5,383.0 390.0,382.0 C388.5,381.0 382.4,379.4 380.0,379.5 C377.6,379.6 367.6,382.1 366.0,383.0 C364.4,383.9 363.0,385.5 364.0,388.0 Z" fill="#d6e6ef" stroke="#a3bfd1" stroke-width="1.1"/>
<path d="M360.0,377.5 C362.7,381.3 370.8,391.7 376.0,400.5 C381.2,409.3 387.8,422.5 391.5,430.5 C395.2,438.5 395.3,441.8 398.0,448.5 C400.7,455.2 404.3,464.8 407.5,470.5 C410.7,476.2 415.4,480.5 417.0,482.5" fill="none" stroke="#a9c3d4" stroke-width="0.9"/>
<g fill="#5a7990" opacity="0.9"><ellipse cx="382.1" cy="388.8" rx="1.0" ry="2.1" transform="rotate(28 382.1 388.8)"/><ellipse cx="388.5" cy="391.8" rx="1.0" ry="2.5" transform="rotate(4 388.5 391.8)"/><ellipse cx="382.7" cy="395.8" rx="0.9" ry="2.5" transform="rotate(25 382.7 395.8)"/><ellipse cx="391.9" cy="399.9" rx="1.1" ry="1.9" transform="rotate(-40 391.9 399.9)"/><ellipse cx="389.8" cy="402.6" rx="0.9" ry="2.0" transform="rotate(21 389.8 402.6)"/><ellipse cx="390.5" cy="404.6" rx="1.0" ry="2.6" transform="rotate(-6 390.5 404.6)"/><ellipse cx="388.0" cy="408.2" rx="1.0" ry="2.6" transform="rotate(-46 388.0 408.2)"/><ellipse cx="392.4" cy="409.4" rx="1.2" ry="2.6" transform="rotate(3 392.4 409.4)"/><ellipse cx="390.2" cy="413.1" rx="0.9" ry="2.6" transform="rotate(-9 390.2 413.1)"/><ellipse cx="393.8" cy="416.7" rx="0.8" ry="1.9" transform="rotate(27 393.8 416.7)"/><ellipse cx="394.6" cy="418.9" rx="1.2" ry="2.4" transform="rotate(-22 394.6 418.9)"/><ellipse cx="402.1" cy="420.4" rx="1.1" ry="2.6" transform="rotate(-36 402.1 420.4)"/><ellipse cx="397.3" cy="423.6" rx="0.9" ry="2.7" transform="rotate(1 397.3 423.6)"/><ellipse cx="401.8" cy="427.5" rx="1.2" ry="2.5" transform="rotate(-61 401.8 427.5)"/><ellipse cx="404.2" cy="430.4" rx="0.9" ry="2.8" transform="rotate(-62 404.2 430.4)"/><ellipse cx="403.2" cy="432.0" rx="1.1" ry="2.4" transform="rotate(-23 403.2 432.0)"/><ellipse cx="403.6" cy="436.6" rx="0.9" ry="2.3" transform="rotate(24 403.6 436.6)"/><ellipse cx="407.5" cy="437.8" rx="0.8" ry="2.5" transform="rotate(3 407.5 437.8)"/><ellipse cx="410.6" cy="441.1" rx="1.1" ry="1.8" transform="rotate(-51 410.6 441.1)"/><ellipse cx="406.6" cy="444.2" rx="0.9" ry="2.3" transform="rotate(6 406.6 444.2)"/><ellipse cx="403.8" cy="448.9" rx="1.2" ry="2.5" transform="rotate(4 403.8 448.9)"/><ellipse cx="409.4" cy="451.8" rx="1.2" ry="1.9" transform="rotate(13 409.4 451.8)"/><ellipse cx="409.6" cy="452.7" rx="1.1" ry="2.4" transform="rotate(17 409.6 452.7)"/><ellipse cx="407.5" cy="457.4" rx="1.0" ry="1.9" transform="rotate(-56 407.5 457.4)"/><ellipse cx="413.0" cy="458.2" rx="1.0" ry="2.6" transform="rotate(-17 413.0 458.2)"/><ellipse cx="408.5" cy="463.6" rx="0.8" ry="1.9" transform="rotate(-51 408.5 463.6)"/><ellipse cx="408.7" cy="465.2" rx="0.8" ry="2.1" transform="rotate(19 408.7 465.2)"/><ellipse cx="416.0" cy="469.6" rx="0.9" ry="2.3" transform="rotate(-50 416.0 469.6)"/><ellipse cx="415.9" cy="472.0" rx="1.0" ry="2.7" transform="rotate(-45 415.9 472.0)"/><ellipse cx="420.7" cy="475.3" rx="0.9" ry="2.2" transform="rotate(19 420.7 475.3)"/></g>
<path d="M404.0,395.0 C403.0,392.5 400.2,384.8 398.0,380.0 C395.8,375.2 393.5,371.0 391.0,366.0 C388.5,361.0 385.7,354.3 383.0,350.0 C380.3,345.7 378.0,343.5 375.0,340.0 C372.0,336.5 368.5,333.2 365.0,329.0 C361.5,324.8 358.0,319.5 354.0,315.0 C350.0,310.5 345.0,306.3 341.0,302.0 C337.0,297.7 333.8,292.7 330.0,289.0 C326.2,285.3 322.7,283.7 318.0,280.0 C313.3,276.3 307.3,270.8 302.0,267.0 C296.7,263.2 291.3,260.4 286.0,257.5 C280.7,254.6 273.8,251.3 270.0,249.5 C266.2,247.7 268.0,248.9 263.0,246.5 C258.0,244.1 247.0,239.1 240.0,235.0 C233.0,230.9 224.2,224.2 221.0,222.0" fill="none" stroke="#9c7440" stroke-width="1.3" opacity="0.75"/>
<path d="M300.0,318.0 C303.0,320.2 312.3,326.5 318.0,331.0 C323.7,335.5 329.0,340.2 334.0,345.0 C339.0,349.8 343.7,354.8 348.0,360.0 C352.3,365.2 356.7,371.3 360.0,376.0 C363.3,380.7 366.7,386.0 368.0,388.0" fill="none" stroke="#6f6c6e" stroke-width="1.1" opacity="0.75"/>
<path d="M306.0,310.0 C309.0,312.2 318.3,318.5 324.0,323.0 C329.7,327.5 335.0,332.2 340.0,337.0 C345.0,341.8 349.7,346.8 354.0,352.0 C358.3,357.2 362.7,363.0 366.0,368.0 C369.3,373.0 372.7,379.7 374.0,382.0" fill="none" stroke="#6f6c6e" stroke-width="1" opacity="0.6"/>
<path d="M445.7,462.6 L447.5,463.1 L449.4,463.7 L451.2,464.3 L453.1,464.9 L454.9,465.6 L456.7,466.2 L458.5,467.0 L460.3,467.7 L462.1,468.5 L463.9,469.3 L465.6,470.1 L467.4,471.0 L469.1,471.9 L470.9,472.9 L472.6,473.8 L474.3,474.8 L474.7,474.2 L473.0,473.1 L471.4,472.0 L469.6,471.0 L467.9,470.0 L466.2,469.0 L464.5,468.1 L462.7,467.2 L460.9,466.3 L459.2,465.4 L457.4,464.6 L455.6,463.9 L453.7,463.1 L451.9,462.4 L450.1,461.7 L448.2,461.0 L446.3,460.4Z" fill="#121212"/>
<path d="M443.5,470.5 L445.5,471.4 L447.5,472.4 L449.5,473.3 L451.5,474.3 L453.5,475.3 L455.4,476.3 L457.4,477.4 L459.4,478.5 L461.3,479.6 L463.2,480.7 L465.2,481.9 L467.1,483.1 L469.0,484.3 L471.0,485.6 L472.9,486.8 L474.8,488.1 L475.2,487.5 L473.4,486.1 L471.5,484.7 L469.6,483.4 L467.8,482.1 L465.9,480.8 L464.0,479.6 L462.1,478.4 L460.1,477.2 L458.2,476.0 L456.3,474.8 L454.3,473.7 L452.4,472.6 L450.4,471.5 L448.5,470.5 L446.5,469.5 L444.5,468.5Z" fill="#121212"/>
<path d="M434.3,472.5 L435.5,474.8 L436.7,477.1 L438.2,479.5 L439.8,481.9 L441.7,484.4 L443.7,486.8 L445.8,489.3 L448.2,491.9 L450.7,494.5 L453.5,497.1 L456.4,499.7 L459.4,502.4 L462.7,505.1 L466.1,507.9 L469.7,510.7 L473.5,513.6 L474.1,512.8 L470.3,509.9 L466.8,507.1 L463.5,504.2 L460.3,501.4 L457.3,498.7 L454.5,496.0 L451.9,493.3 L449.4,490.7 L447.2,488.2 L445.1,485.6 L443.3,483.2 L441.6,480.7 L440.1,478.3 L438.7,476.0 L437.6,473.7 L436.7,471.5Z" fill="#121212"/>
</g></g>
<ellipse cx="412.4" cy="384" rx="45.7" ry="13.8" fill="none" stroke="#111" stroke-width="2.4"/>
<g transform="translate(515.9,3.4) scale(0.983)"><g mask="url(#mT)"><g mask="url(#mL)">
<path d="M347.0,92.0 C340.5,97.4 347.9,137.3 348.0,146.0 C348.1,154.7 348.7,174.9 348.5,179.0 C348.3,183.1 346.6,185.2 346.0,186.5 C345.4,187.8 341.8,189.7 342.0,192.0 C342.2,194.3 345.3,205.7 347.6,210.0 C349.9,214.3 362.4,230.3 365.4,235.4 C368.4,240.5 375.9,257.2 378.0,260.8 C380.1,264.4 384.4,267.7 386.0,271.0 C387.6,274.3 392.2,287.6 393.8,293.8 C395.4,300.1 400.7,325.9 401.7,333.5 C402.7,341.1 403.6,364.6 404.0,370.0 C404.4,375.4 405.5,385.5 405.5,388.0 C405.5,390.5 403.8,394.0 404.0,395.0 C404.2,396.0 407.9,396.0 408.0,398.0 C408.1,400.0 404.7,411.6 405.0,415.0 C405.3,418.4 409.8,428.5 411.0,432.0 C412.2,435.5 416.0,446.7 417.0,450.0 C418.0,453.3 420.3,462.2 421.0,465.0 C421.7,467.8 424.0,476.0 424.0,477.8 C424.0,479.6 422.1,482.4 421.0,483.0 C419.9,483.6 413.2,484.1 413.0,484.0 C412.8,483.9 417.4,482.8 419.0,482.5 C420.6,482.2 427.1,481.2 429.0,480.6 C430.9,480.0 436.6,477.8 438.0,476.8 C439.4,475.8 442.1,472.2 443.0,470.5 C443.9,468.8 446.2,462.6 447.0,460.0 C447.8,457.4 449.7,448.7 450.5,445.0 C451.3,441.3 454.1,427.5 455.0,423.0 C455.9,418.5 458.7,405.3 459.0,400.0 C459.3,394.7 458.3,375.9 458.0,370.0 C457.7,364.1 456.4,346.6 455.7,341.0 C455.0,335.4 452.3,319.2 451.0,314.0 C449.7,308.8 444.5,293.4 443.0,289.0 C441.5,284.6 437.6,273.8 436.0,269.5 C434.4,265.2 428.7,250.2 427.0,246.0 C425.3,241.8 420.4,230.8 419.0,227.0 C417.6,223.2 413.7,211.8 413.0,208.0 C412.3,204.2 412.1,192.8 412.0,189.0 C411.9,185.2 411.9,179.7 412.0,170.0 C412.1,160.3 419.5,99.8 413.0,92.0 C406.5,84.2 353.5,86.6 347.0,92.0 Z" fill="#f3c7bc"/>
<path d="M400.0,92.0 C398.7,99.9 399.9,159.2 400.0,171.0 C400.1,182.8 400.4,204.8 401.0,210.0 C401.6,215.2 405.0,219.5 406.0,222.7 C407.0,225.9 409.7,238.1 411.0,241.7 C412.3,245.3 417.4,255.5 418.7,258.3 C420.0,261.1 422.7,267.2 424.0,270.0 C425.3,272.8 430.9,282.8 432.0,286.0 C433.1,289.2 434.4,298.8 435.0,302.0 C435.6,305.2 437.8,313.7 438.3,317.6 C438.8,321.5 439.6,336.2 439.8,341.4 C440.0,346.6 440.4,364.9 440.6,370.0 C440.8,375.1 441.9,387.0 442.0,392.0 C442.1,397.0 441.0,417.2 441.5,420.0 C442.0,422.8 446.9,416.5 447.0,420.0 C447.1,423.5 442.6,452.5 443.0,455.0 C443.4,457.5 449.3,448.2 450.5,445.0 C451.7,441.8 454.1,427.5 455.0,423.0 C455.9,418.5 458.7,405.3 459.0,400.0 C459.3,394.7 458.3,375.9 458.0,370.0 C457.7,364.1 456.4,346.6 455.7,341.0 C455.0,335.4 452.3,319.2 451.0,314.0 C449.7,308.8 444.5,293.4 443.0,289.0 C441.5,284.6 437.6,273.8 436.0,269.5 C434.4,265.2 428.7,250.2 427.0,246.0 C425.3,241.8 420.4,230.8 419.0,227.0 C417.6,223.2 413.7,211.8 413.0,208.0 C412.3,204.2 412.1,192.8 412.0,189.0 C411.9,185.2 411.9,179.7 412.0,170.0 C412.1,160.3 414.2,99.8 413.0,92.0 C411.8,84.2 401.3,84.1 400.0,92.0 Z" fill="#f5d2c9"/>
<path d="M408.5,92.0 C408.3,105.0 407.7,153.8 407.5,170.0 C407.3,186.2 407.3,182.7 407.5,189.0 C407.7,195.3 407.3,201.7 408.5,208.0 C409.7,214.3 412.2,220.7 414.5,227.0 C416.8,233.3 419.7,238.9 422.5,246.0 C425.3,253.1 428.8,262.3 431.5,269.5 C434.2,276.7 436.0,281.6 438.5,289.0 C441.0,296.4 444.4,305.3 446.5,314.0 C448.6,322.7 450.0,331.7 451.2,341.0 C452.4,350.3 452.9,360.2 453.5,370.0 C454.1,379.8 455.0,391.2 454.5,400.0 C454.0,408.8 451.2,419.2 450.5,423.0" fill="none" stroke="#eeb3a6" stroke-width="1"/>
<path d="M413.0,92.0 C412.8,105.0 412.2,153.8 412.0,170.0 C411.8,186.2 411.8,182.7 412.0,189.0 C412.2,195.3 411.8,201.7 413.0,208.0 C414.2,214.3 416.7,220.7 419.0,227.0 C421.3,233.3 424.2,238.9 427.0,246.0 C429.8,253.1 433.3,262.3 436.0,269.5 C438.7,276.7 440.5,281.6 443.0,289.0 C445.5,296.4 448.9,305.3 451.0,314.0 C453.1,322.7 454.5,331.7 455.7,341.0 C456.9,350.3 457.4,360.2 458.0,370.0 C458.6,379.8 459.5,391.2 459.0,400.0 C458.5,408.8 456.4,415.5 455.0,423.0 C453.6,430.5 451.8,438.8 450.5,445.0 C449.2,451.2 448.2,455.8 447.0,460.0 C445.8,464.2 444.5,467.7 443.0,470.5 C441.5,473.3 440.3,475.1 438.0,476.8 C435.7,478.5 432.2,479.7 429.0,480.6 C425.8,481.6 421.7,481.9 419.0,482.5 C416.3,483.1 414.0,483.8 413.0,484.0" fill="none" stroke="#e7b17b" stroke-width="1.8"/>
<path d="M404.0,360.0 C404.3,365.0 405.2,381.7 406.0,390.0 C406.8,398.3 407.7,403.0 409.0,410.0 C410.3,417.0 412.3,425.3 414.0,432.0 C415.7,438.7 418.2,447.0 419.0,450.0" fill="none" stroke="#fbf3f1" stroke-width="5" opacity="0.9"/>
<path d="M400.0,92.0 C403.9,102.5 399.9,155.3 400.0,171.0 C400.1,186.7 400.2,203.1 401.0,210.0 C401.8,216.9 404.7,218.5 406.0,222.7 C407.3,226.9 409.3,237.0 411.0,241.7 C412.7,246.4 417.0,254.5 418.7,258.3 C420.4,262.1 422.2,266.3 424.0,270.0 C425.8,273.7 430.5,281.7 432.0,286.0 C433.5,290.3 434.2,297.8 435.0,302.0 C435.8,306.2 437.7,312.3 438.3,317.6 C438.9,322.9 439.5,334.4 439.8,341.4 C440.1,348.4 440.3,363.3 440.6,370.0 C440.9,376.7 441.9,385.3 442.0,392.0 C442.1,398.7 442.2,414.5 441.5,420.0 C440.8,425.5 438.7,431.0 437.0,433.0 C435.3,435.0 431.0,435.7 429.0,435.0 C427.0,434.3 423.1,433.1 422.0,428.0 C420.9,422.9 420.6,404.7 420.5,397.0 C420.4,389.3 421.6,377.5 421.5,370.0 C421.4,362.5 420.5,348.0 420.0,341.0 C419.5,334.0 418.3,322.8 417.6,317.6 C416.9,312.4 415.5,305.9 414.4,301.7 C413.3,297.5 411.2,290.2 409.7,286.0 C408.2,281.8 404.6,272.9 403.3,270.0 C402.0,267.1 401.3,267.9 399.7,264.6 C398.1,261.3 393.2,250.2 391.0,245.5 C388.8,240.8 385.1,233.7 383.0,229.0 C380.9,224.3 376.3,216.5 375.0,210.0 C373.7,203.5 373.5,188.0 373.0,180.0 C372.5,172.0 371.8,161.7 371.5,150.0 C371.2,138.3 367.2,99.7 371.0,92.0 C374.8,84.3 396.1,81.5 400.0,92.0 Z" fill="#e66a5c"/>
<g stroke="#c9524c" stroke-width="1.6" stroke-linejoin="round" stroke-opacity="0.35"><path d="M373.8,89.6 L374.3,89.8 L375.2,88.8Z" fill="#e36458"/><path d="M389.9,85.9 L385.5,85.8 L384.1,86.0 L386.5,87.4Z" fill="#e9725f"/><path d="M392.7,86.6 L396.6,90.4 L397.8,89.7 L394.1,87.0Z" fill="#eb7a68"/><path d="M370.3,99.0 L375.7,96.2 L374.0,91.0 L372.9,90.6 L371.5,92.3Z" fill="#e76e5e"/><path d="M375.2,90.6 L376.9,96.0 L382.9,98.5 L384.1,97.9 L385.8,88.4 L382.2,86.2 L381.0,86.4 L378.2,87.4Z" fill="#e66a5c"/><path d="M396.0,91.4 L391.1,86.7 L386.9,88.5 L385.3,97.8 L393.8,99.9 L396.9,97.8Z" fill="#e66a5c"/><path d="M397.2,91.4 L398.1,97.5 L400.5,97.9 L399.4,92.2 L398.4,90.7Z" fill="#e4685b"/><path d="M376.3,109.1 L380.7,106.0 L382.3,99.6 L376.5,97.1 L370.2,100.4 L370.0,102.7 L370.0,107.1Z" fill="#e66a5c"/><path d="M393.4,101.1 L384.7,98.9 L383.5,99.6 L381.9,106.1 L387.8,110.5 L393.5,103.9Z" fill="#e36458"/><path d="M401.0,107.5 L400.6,99.1 L397.7,98.7 L394.6,100.9 L394.7,103.9 L397.4,107.7Z" fill="#e4685b"/><path d="M370.3,119.2 L372.9,121.5 L377.0,118.8 L375.9,110.2 L370.0,108.4Z" fill="#e66a5c"/><path d="M381.2,107.1 L377.0,110.1 L378.2,118.6 L382.2,119.8 L388.9,116.0 L387.4,111.7Z" fill="#e4685b"/><path d="M394.0,105.0 L388.6,111.4 L390.1,115.8 L395.0,117.4 L396.4,108.5Z" fill="#e9725f"/><path d="M397.6,108.9 L396.1,118.0 L401.1,117.8 L401.0,108.7Z" fill="#e66a5c"/><path d="M370.7,126.2 L372.2,122.4 L370.4,120.9Z" fill="#e66a5c"/><path d="M372.0,126.4 L374.7,128.7 L385.1,131.1 L381.8,121.0 L377.7,119.7 L373.4,122.6Z" fill="#eb7a68"/><path d="M395.3,119.0 L389.7,116.9 L383.0,120.7 L387.1,132.3 L393.6,128.4Z" fill="#eb7a68"/><path d="M400.8,129.5 L401.0,119.0 L396.5,119.3 L394.8,128.5 L398.6,130.3Z" fill="#e66a5c"/><path d="M373.9,129.6 L371.2,127.3 L370.8,127.5 L371.5,139.4 L374.7,138.0Z" fill="#e9725f"/><path d="M386.1,135.3 L386.4,133.2 L385.6,132.4 L375.1,130.1 L375.9,137.9 L381.4,138.3Z" fill="#e66a5c"/><path d="M398.1,131.4 L394.2,129.5 L387.6,133.4 L387.3,135.5 L392.7,142.5 L394.7,142.8 L400.5,137.7Z" fill="#e4685b"/><path d="M399.3,131.3 L400.6,134.7 L400.8,130.8Z" fill="#eb7a68"/><path d="M376.1,150.7 L379.3,147.7 L380.9,139.5 L375.5,139.0 L371.6,140.7 L371.9,145.2Z" fill="#e66a5c"/><path d="M380.6,147.5 L388.7,148.2 L391.6,143.2 L386.5,136.5 L382.1,139.3Z" fill="#e4685b"/><path d="M395.7,143.4 L400.1,147.8 L400.5,139.3Z" fill="#e66a5c"/><path d="M375.1,154.2 L375.3,151.8 L372.0,147.3 L372.3,156.6Z" fill="#e9725f"/><path d="M376.5,151.9 L376.3,154.1 L380.6,156.0 L389.2,156.1 L388.5,149.4 L380.1,148.7Z" fill="#e76e5e"/><path d="M394.6,144.0 L392.7,143.8 L389.7,149.0 L390.5,156.4 L394.2,160.0 L396.5,159.1 L399.9,152.7 L400.1,149.5Z" fill="#e76e5e"/><path d="M397.8,159.3 L399.6,160.0 L399.8,155.4Z" fill="#e4685b"/><path d="M372.7,165.0 L372.9,168.7 L373.4,168.6 L373.6,167.9Z" fill="#e66a5c"/><path d="M372.4,158.2 L374.6,167.2 L381.8,165.3 L379.9,157.1 L375.7,155.2Z" fill="#e4685b"/><path d="M383.1,165.3 L389.3,167.3 L391.7,165.1 L393.3,160.8 L389.7,157.3 L381.2,157.2Z" fill="#e4685b"/><path d="M396.9,160.2 L394.5,161.1 L392.9,165.3 L399.4,171.2 L399.6,161.3Z" fill="#eb7a68"/><path d="M374.1,173.3 L373.4,169.9 L373.0,169.9 L373.2,174.1Z" fill="#e66a5c"/><path d="M383.8,177.8 L386.7,175.8 L388.7,168.4 L382.5,166.4 L374.7,168.4 L375.3,173.1Z" fill="#e9725f"/><path d="M392.2,166.3 L390.0,168.3 L387.9,175.8 L395.1,179.1 L399.4,175.0 L399.4,172.8Z" fill="#e66a5c"/><path d="M374.9,188.0 L382.1,184.0 L383.1,178.9 L374.9,174.2 L373.3,175.8 L373.9,187.6Z" fill="#e4685b"/><path d="M387.3,176.8 L384.3,178.9 L383.3,184.2 L387.4,188.3 L396.5,185.0 L394.7,180.3Z" fill="#e9725f"/><path d="M395.9,180.0 L397.7,184.9 L399.5,186.2 L399.4,176.6Z" fill="#e36458"/><path d="M375.7,197.5 L374.4,189.1 L374.0,188.9 L374.4,198.2Z" fill="#eb7a68"/><path d="M375.6,189.0 L376.9,197.4 L378.6,198.2 L387.4,193.6 L386.7,189.3 L382.5,185.2Z" fill="#e9725f"/><path d="M397.1,186.0 L388.0,189.4 L388.6,193.6 L392.6,197.0 L395.3,196.1 L399.6,189.6 L399.6,187.7Z" fill="#e4685b"/><path d="M396.5,196.5 L399.8,198.7 L399.6,191.7Z" fill="#e66a5c"/><path d="M381.6,207.9 L382.3,206.4 L378.2,199.3 L376.3,198.4 L374.5,199.5 L375.4,208.7Z" fill="#e4685b"/><path d="M383.3,205.7 L390.3,204.3 L391.8,197.9 L388.0,194.7 L379.5,199.1Z" fill="#e36458"/><path d="M395.6,197.3 L393.0,198.2 L391.5,204.7 L397.0,210.6 L400.1,207.1 L399.8,200.2Z" fill="#e4685b"/><path d="M375.6,209.9 L377.1,214.8 L379.5,220.6 L382.6,217.2 L381.5,209.1Z" fill="#e76e5e"/><path d="M382.6,208.5 L383.7,216.8 L393.8,216.7 L396.6,213.9 L396.4,211.7 L390.6,205.5 L383.4,206.9Z" fill="#e9725f"/><path d="M397.6,211.7 L397.8,213.8 L401.8,215.6 L400.3,208.7Z" fill="#e66a5c"/><path d="M393.4,217.9 L383.5,218.0 L380.1,221.7 L382.2,226.0 L387.5,228.7 L393.3,226.2Z" fill="#e4685b"/><path d="M406.9,228.6 L405.4,222.9 L402.6,217.2 L397.3,214.9 L394.6,217.6 L394.5,226.3 L399.4,230.0Z" fill="#e4685b"/><path d="M383.1,227.8 L387.0,235.9 L387.2,235.9 L386.9,229.7Z" fill="#e76e5e"/><path d="M395.4,237.9 L398.5,230.8 L393.8,227.3 L388.1,229.7 L388.5,236.2 L391.6,240.3Z" fill="#e9725f"/><path d="M407.2,229.8 L399.7,231.1 L396.7,238.0 L405.5,242.0 L409.0,238.5Z" fill="#e36458"/><path d="M387.6,237.1 L389.6,241.3 L390.1,242.3 L390.8,241.2Z" fill="#e66a5c"/><path d="M391.8,242.0 L396.3,246.9 L404.6,244.6 L404.9,243.1 L395.9,238.9Z" fill="#e4685b"/><path d="M407.2,249.8 L413.0,247.8 L409.7,239.5 L406.2,243.1 L405.8,245.0Z" fill="#e76e5e"/><path d="M390.7,243.4 L392.5,247.3 L396.3,255.7 L395.5,247.9 L391.1,243.0Z" fill="#e66a5c"/><path d="M396.7,248.1 L397.5,255.9 L403.7,258.3 L405.3,256.3 L406.2,250.6 L404.7,245.8Z" fill="#e4685b"/><path d="M416.2,254.6 L413.5,248.9 L407.3,251.0 L406.6,255.8Z" fill="#e66a5c"/><path d="M401.3,266.2 L403.8,261.4 L403.4,259.5 L396.8,257.0Z" fill="#e4685b"/><path d="M406.2,257.1 L404.5,259.2 L405.0,261.1 L409.6,263.7 L413.7,264.7 L418.9,260.1 L416.8,255.7Z" fill="#e9725f"/><path d="M414.6,265.5 L418.2,271.9 L423.1,269.5 L419.4,261.2Z" fill="#eb7a68"/><path d="M402.2,267.2 L406.4,275.8 L409.2,275.9 L408.8,264.7 L404.7,262.3Z" fill="#e76e5e"/><path d="M410.5,276.1 L413.6,277.3 L416.2,275.5 L417.3,272.7 L413.5,265.9 L410.0,265.1Z" fill="#e4685b"/><path d="M418.5,273.1 L417.4,275.7 L425.0,280.4 L428.1,279.0 L423.6,270.6Z" fill="#eb7a68"/><path d="M412.7,285.3 L413.0,278.4 L409.7,277.2 L406.9,277.0 L410.6,286.6Z" fill="#e36458"/><path d="M424.2,281.4 L416.7,276.7 L414.2,278.3 L413.9,285.3 L421.8,290.3Z" fill="#eb7a68"/><path d="M423.0,290.8 L431.9,287.9 L428.6,280.1 L425.4,281.5Z" fill="#e4685b"/><path d="M410.9,287.8 L414.3,299.1 L416.7,299.8 L421.7,296.1 L421.8,291.7 L413.3,286.4Z" fill="#eb7a68"/><path d="M422.9,296.1 L426.2,298.2 L433.7,297.5 L432.2,289.0 L423.0,292.0Z" fill="#e36458"/><path d="M414.7,300.5 L415.4,303.2 L416.0,305.9 L416.2,300.9Z" fill="#e36458"/><path d="M417.4,300.8 L417.2,306.9 L418.9,310.1 L428.4,309.6 L425.5,299.2 L422.3,297.1Z" fill="#e9725f"/><path d="M426.8,299.3 L429.7,309.8 L433.0,312.1 L435.8,308.1 L433.8,298.7Z" fill="#e9725f"/><path d="M416.5,308.2 L417.1,311.3 L417.4,312.7 L417.9,310.8Z" fill="#e76e5e"/><path d="M417.9,315.5 L418.2,317.4 L427.8,320.9 L433.5,317.3 L432.6,313.3 L429.0,310.8 L419.0,311.3Z" fill="#e9725f"/><path d="M433.7,313.0 L434.7,317.2 L437.6,316.9 L436.2,309.6Z" fill="#e66a5c"/><path d="M424.1,328.8 L427.1,321.9 L418.4,318.8 L419.3,326.5Z" fill="#e4685b"/><path d="M438.4,325.3 L434.2,318.3 L428.3,321.9 L425.9,328.4 L433.7,331.5 L438.6,329.8Z" fill="#e36458"/><path d="M437.7,318.1 L436.1,318.6 L438.1,322.4 L437.9,319.9Z" fill="#e4685b"/><path d="M421.6,336.5 L423.5,329.9 L419.4,327.9 L420.3,336.8Z" fill="#eb7a68"/><path d="M425.3,329.4 L422.7,336.9 L426.3,339.9 L428.9,339.7 L432.8,332.4Z" fill="#e36458"/><path d="M434.1,332.6 L430.1,340.0 L438.2,343.6 L439.2,342.0 L438.7,331.0Z" fill="#e76e5e"/><path d="M421.9,337.7 L420.4,338.0 L421.1,348.5 L424.2,347.5 L425.5,340.7Z" fill="#eb7a68"/><path d="M431.8,355.4 L438.4,348.3 L437.9,344.8 L429.2,340.9 L426.6,341.1 L425.4,347.8Z" fill="#e36458"/><path d="M439.4,346.4 L439.3,344.4 L439.3,344.2 L439.1,344.5Z" fill="#e4685b"/><path d="M421.7,359.0 L427.5,360.3 L431.0,356.3 L424.5,348.7 L421.2,349.7Z" fill="#e66a5c"/><path d="M439.5,349.4 L432.8,356.1 L439.7,361.0Z" fill="#e66a5c"/><path d="M422.1,372.1 L427.5,366.9 L427.2,361.4 L421.8,360.2Z" fill="#e4685b"/><path d="M431.9,357.0 L428.3,361.2 L428.7,366.8 L434.8,370.9 L439.6,362.3Z" fill="#eb7a68"/><path d="M439.8,364.4 L436.2,370.8 L440.0,370.6Z" fill="#e9725f"/><path d="M427.7,381.8 L434.3,375.8 L434.2,371.9 L428.2,367.9 L422.0,373.8 L421.8,379.1Z" fill="#e36458"/><path d="M435.4,372.0 L435.5,375.8 L440.7,380.2 L440.1,371.8Z" fill="#e9725f"/><path d="M421.8,380.4 L421.3,388.7 L422.1,391.5 L428.8,385.6 L427.4,383.0Z" fill="#eb7a68"/><path d="M430.0,385.4 L434.3,389.2 L436.7,388.3 L439.9,381.1 L434.9,376.9 L428.6,382.7Z" fill="#eb7a68"/><path d="M440.8,381.8 L437.9,388.4 L441.3,389.7 L441.2,386.7Z" fill="#e66a5c"/><path d="M423.5,399.1 L431.5,397.7 L433.5,390.1 L429.6,386.6 L422.3,392.9 L421.1,397.8Z" fill="#e76e5e"/><path d="M441.5,401.0 L441.4,391.0 L437.1,389.4 L434.7,390.3 L432.7,398.1 L436.9,402.3 L437.8,402.5Z" fill="#e66a5c"/><path d="M421.3,409.7 L422.9,405.9 L422.8,400.1 L421.1,399.2Z" fill="#e4685b"/><path d="M431.8,409.7 L435.8,403.0 L431.8,398.9 L424.0,400.3 L424.1,405.6Z" fill="#e4685b"/><path d="M441.4,408.6 L441.4,406.4 L441.5,402.3 L438.7,403.4Z" fill="#e36458"/><path d="M421.4,411.9 L421.4,413.5 L421.7,418.3 L423.1,417.4Z" fill="#e36458"/><path d="M424.3,417.1 L430.7,418.0 L431.4,410.8 L423.8,406.8 L422.3,410.6Z" fill="#e76e5e"/><path d="M437.5,403.6 L436.9,403.5 L432.6,410.6 L431.9,418.0 L435.2,419.2 L441.2,414.9 L441.4,411.2Z" fill="#e36458"/><path d="M423.6,430.5 L426.4,429.9 L429.6,419.2 L423.9,418.3 L421.7,419.6 L422.6,427.9Z" fill="#e4685b"/><path d="M433.1,433.5 L437.6,425.5 L434.9,420.4 L431.2,419.1 L427.5,430.2Z" fill="#eb7a68"/><path d="M436.1,420.1 L438.7,425.0 L439.8,425.4 L441.2,416.4Z" fill="#e4685b"/><path d="M432.5,434.5 L426.7,431.1 L424.4,431.6 L428.4,434.2Z" fill="#eb7a68"/><path d="M434.1,434.1 L437.1,431.8 L439.4,426.5 L438.5,426.2Z" fill="#e66a5c"/></g>
<g fill="none" stroke="#f09586" stroke-width="0.7" stroke-linejoin="round" stroke-opacity="0.8"><path d="M373.8,89.6 L374.3,89.8 L375.2,88.8Z"/><path d="M389.9,85.9 L385.5,85.8 L384.1,86.0 L386.5,87.4Z"/><path d="M392.7,86.6 L396.6,90.4 L397.8,89.7 L394.1,87.0Z"/><path d="M370.3,99.0 L375.7,96.2 L374.0,91.0 L372.9,90.6 L371.5,92.3Z"/><path d="M375.2,90.6 L376.9,96.0 L382.9,98.5 L384.1,97.9 L385.8,88.4 L382.2,86.2 L381.0,86.4 L378.2,87.4Z"/><path d="M396.0,91.4 L391.1,86.7 L386.9,88.5 L385.3,97.8 L393.8,99.9 L396.9,97.8Z"/><path d="M397.2,91.4 L398.1,97.5 L400.5,97.9 L399.4,92.2 L398.4,90.7Z"/><path d="M376.3,109.1 L380.7,106.0 L382.3,99.6 L376.5,97.1 L370.2,100.4 L370.0,102.7 L370.0,107.1Z"/><path d="M393.4,101.1 L384.7,98.9 L383.5,99.6 L381.9,106.1 L387.8,110.5 L393.5,103.9Z"/><path d="M401.0,107.5 L400.6,99.1 L397.7,98.7 L394.6,100.9 L394.7,103.9 L397.4,107.7Z"/><path d="M370.3,119.2 L372.9,121.5 L377.0,118.8 L375.9,110.2 L370.0,108.4Z"/><path d="M381.2,107.1 L377.0,110.1 L378.2,118.6 L382.2,119.8 L388.9,116.0 L387.4,111.7Z"/><path d="M394.0,105.0 L388.6,111.4 L390.1,115.8 L395.0,117.4 L396.4,108.5Z"/><path d="M397.6,108.9 L396.1,118.0 L401.1,117.8 L401.0,108.7Z"/><path d="M370.7,126.2 L372.2,122.4 L370.4,120.9Z"/><path d="M372.0,126.4 L374.7,128.7 L385.1,131.1 L381.8,121.0 L377.7,119.7 L373.4,122.6Z"/><path d="M395.3,119.0 L389.7,116.9 L383.0,120.7 L387.1,132.3 L393.6,128.4Z"/><path d="M400.8,129.5 L401.0,119.0 L396.5,119.3 L394.8,128.5 L398.6,130.3Z"/><path d="M373.9,129.6 L371.2,127.3 L370.8,127.5 L371.5,139.4 L374.7,138.0Z"/><path d="M386.1,135.3 L386.4,133.2 L385.6,132.4 L375.1,130.1 L375.9,137.9 L381.4,138.3Z"/><path d="M398.1,131.4 L394.2,129.5 L387.6,133.4 L387.3,135.5 L392.7,142.5 L394.7,142.8 L400.5,137.7Z"/><path d="M399.3,131.3 L400.6,134.7 L400.8,130.8Z"/><path d="M376.1,150.7 L379.3,147.7 L380.9,139.5 L375.5,139.0 L371.6,140.7 L371.9,145.2Z"/><path d="M380.6,147.5 L388.7,148.2 L391.6,143.2 L386.5,136.5 L382.1,139.3Z"/><path d="M395.7,143.4 L400.1,147.8 L400.5,139.3Z"/><path d="M375.1,154.2 L375.3,151.8 L372.0,147.3 L372.3,156.6Z"/><path d="M376.5,151.9 L376.3,154.1 L380.6,156.0 L389.2,156.1 L388.5,149.4 L380.1,148.7Z"/><path d="M394.6,144.0 L392.7,143.8 L389.7,149.0 L390.5,156.4 L394.2,160.0 L396.5,159.1 L399.9,152.7 L400.1,149.5Z"/><path d="M397.8,159.3 L399.6,160.0 L399.8,155.4Z"/><path d="M372.7,165.0 L372.9,168.7 L373.4,168.6 L373.6,167.9Z"/><path d="M372.4,158.2 L374.6,167.2 L381.8,165.3 L379.9,157.1 L375.7,155.2Z"/><path d="M383.1,165.3 L389.3,167.3 L391.7,165.1 L393.3,160.8 L389.7,157.3 L381.2,157.2Z"/><path d="M396.9,160.2 L394.5,161.1 L392.9,165.3 L399.4,171.2 L399.6,161.3Z"/><path d="M374.1,173.3 L373.4,169.9 L373.0,169.9 L373.2,174.1Z"/><path d="M383.8,177.8 L386.7,175.8 L388.7,168.4 L382.5,166.4 L374.7,168.4 L375.3,173.1Z"/><path d="M392.2,166.3 L390.0,168.3 L387.9,175.8 L395.1,179.1 L399.4,175.0 L399.4,172.8Z"/><path d="M374.9,188.0 L382.1,184.0 L383.1,178.9 L374.9,174.2 L373.3,175.8 L373.9,187.6Z"/><path d="M387.3,176.8 L384.3,178.9 L383.3,184.2 L387.4,188.3 L396.5,185.0 L394.7,180.3Z"/><path d="M395.9,180.0 L397.7,184.9 L399.5,186.2 L399.4,176.6Z"/><path d="M375.7,197.5 L374.4,189.1 L374.0,188.9 L374.4,198.2Z"/><path d="M375.6,189.0 L376.9,197.4 L378.6,198.2 L387.4,193.6 L386.7,189.3 L382.5,185.2Z"/><path d="M397.1,186.0 L388.0,189.4 L388.6,193.6 L392.6,197.0 L395.3,196.1 L399.6,189.6 L399.6,187.7Z"/><path d="M396.5,196.5 L399.8,198.7 L399.6,191.7Z"/><path d="M381.6,207.9 L382.3,206.4 L378.2,199.3 L376.3,198.4 L374.5,199.5 L375.4,208.7Z"/><path d="M383.3,205.7 L390.3,204.3 L391.8,197.9 L388.0,194.7 L379.5,199.1Z"/><path d="M395.6,197.3 L393.0,198.2 L391.5,204.7 L397.0,210.6 L400.1,207.1 L399.8,200.2Z"/><path d="M375.6,209.9 L377.1,214.8 L379.5,220.6 L382.6,217.2 L381.5,209.1Z"/><path d="M382.6,208.5 L383.7,216.8 L393.8,216.7 L396.6,213.9 L396.4,211.7 L390.6,205.5 L383.4,206.9Z"/><path d="M397.6,211.7 L397.8,213.8 L401.8,215.6 L400.3,208.7Z"/><path d="M393.4,217.9 L383.5,218.0 L380.1,221.7 L382.2,226.0 L387.5,228.7 L393.3,226.2Z"/><path d="M406.9,228.6 L405.4,222.9 L402.6,217.2 L397.3,214.9 L394.6,217.6 L394.5,226.3 L399.4,230.0Z"/><path d="M383.1,227.8 L387.0,235.9 L387.2,235.9 L386.9,229.7Z"/><path d="M395.4,237.9 L398.5,230.8 L393.8,227.3 L388.1,229.7 L388.5,236.2 L391.6,240.3Z"/><path d="M407.2,229.8 L399.7,231.1 L396.7,238.0 L405.5,242.0 L409.0,238.5Z"/><path d="M387.6,237.1 L389.6,241.3 L390.1,242.3 L390.8,241.2Z"/><path d="M391.8,242.0 L396.3,246.9 L404.6,244.6 L404.9,243.1 L395.9,238.9Z"/><path d="M407.2,249.8 L413.0,247.8 L409.7,239.5 L406.2,243.1 L405.8,245.0Z"/><path d="M390.7,243.4 L392.5,247.3 L396.3,255.7 L395.5,247.9 L391.1,243.0Z"/><path d="M396.7,248.1 L397.5,255.9 L403.7,258.3 L405.3,256.3 L406.2,250.6 L404.7,245.8Z"/><path d="M416.2,254.6 L413.5,248.9 L407.3,251.0 L406.6,255.8Z"/><path d="M401.3,266.2 L403.8,261.4 L403.4,259.5 L396.8,257.0Z"/><path d="M406.2,257.1 L404.5,259.2 L405.0,261.1 L409.6,263.7 L413.7,264.7 L418.9,260.1 L416.8,255.7Z"/><path d="M414.6,265.5 L418.2,271.9 L423.1,269.5 L419.4,261.2Z"/><path d="M402.2,267.2 L406.4,275.8 L409.2,275.9 L408.8,264.7 L404.7,262.3Z"/><path d="M410.5,276.1 L413.6,277.3 L416.2,275.5 L417.3,272.7 L413.5,265.9 L410.0,265.1Z"/><path d="M418.5,273.1 L417.4,275.7 L425.0,280.4 L428.1,279.0 L423.6,270.6Z"/><path d="M412.7,285.3 L413.0,278.4 L409.7,277.2 L406.9,277.0 L410.6,286.6Z"/><path d="M424.2,281.4 L416.7,276.7 L414.2,278.3 L413.9,285.3 L421.8,290.3Z"/><path d="M423.0,290.8 L431.9,287.9 L428.6,280.1 L425.4,281.5Z"/><path d="M410.9,287.8 L414.3,299.1 L416.7,299.8 L421.7,296.1 L421.8,291.7 L413.3,286.4Z"/><path d="M422.9,296.1 L426.2,298.2 L433.7,297.5 L432.2,289.0 L423.0,292.0Z"/><path d="M414.7,300.5 L415.4,303.2 L416.0,305.9 L416.2,300.9Z"/><path d="M417.4,300.8 L417.2,306.9 L418.9,310.1 L428.4,309.6 L425.5,299.2 L422.3,297.1Z"/><path d="M426.8,299.3 L429.7,309.8 L433.0,312.1 L435.8,308.1 L433.8,298.7Z"/><path d="M416.5,308.2 L417.1,311.3 L417.4,312.7 L417.9,310.8Z"/><path d="M417.9,315.5 L418.2,317.4 L427.8,320.9 L433.5,317.3 L432.6,313.3 L429.0,310.8 L419.0,311.3Z"/><path d="M433.7,313.0 L434.7,317.2 L437.6,316.9 L436.2,309.6Z"/><path d="M424.1,328.8 L427.1,321.9 L418.4,318.8 L419.3,326.5Z"/><path d="M438.4,325.3 L434.2,318.3 L428.3,321.9 L425.9,328.4 L433.7,331.5 L438.6,329.8Z"/><path d="M437.7,318.1 L436.1,318.6 L438.1,322.4 L437.9,319.9Z"/><path d="M421.6,336.5 L423.5,329.9 L419.4,327.9 L420.3,336.8Z"/><path d="M425.3,329.4 L422.7,336.9 L426.3,339.9 L428.9,339.7 L432.8,332.4Z"/><path d="M434.1,332.6 L430.1,340.0 L438.2,343.6 L439.2,342.0 L438.7,331.0Z"/><path d="M421.9,337.7 L420.4,338.0 L421.1,348.5 L424.2,347.5 L425.5,340.7Z"/><path d="M431.8,355.4 L438.4,348.3 L437.9,344.8 L429.2,340.9 L426.6,341.1 L425.4,347.8Z"/><path d="M439.4,346.4 L439.3,344.4 L439.3,344.2 L439.1,344.5Z"/><path d="M421.7,359.0 L427.5,360.3 L431.0,356.3 L424.5,348.7 L421.2,349.7Z"/><path d="M439.5,349.4 L432.8,356.1 L439.7,361.0Z"/><path d="M422.1,372.1 L427.5,366.9 L427.2,361.4 L421.8,360.2Z"/><path d="M431.9,357.0 L428.3,361.2 L428.7,366.8 L434.8,370.9 L439.6,362.3Z"/><path d="M439.8,364.4 L436.2,370.8 L440.0,370.6Z"/><path d="M427.7,381.8 L434.3,375.8 L434.2,371.9 L428.2,367.9 L422.0,373.8 L421.8,379.1Z"/><path d="M435.4,372.0 L435.5,375.8 L440.7,380.2 L440.1,371.8Z"/><path d="M421.8,380.4 L421.3,388.7 L422.1,391.5 L428.8,385.6 L427.4,383.0Z"/><path d="M430.0,385.4 L434.3,389.2 L436.7,388.3 L439.9,381.1 L434.9,376.9 L428.6,382.7Z"/><path d="M440.8,381.8 L437.9,388.4 L441.3,389.7 L441.2,386.7Z"/><path d="M423.5,399.1 L431.5,397.7 L433.5,390.1 L429.6,386.6 L422.3,392.9 L421.1,397.8Z"/><path d="M441.5,401.0 L441.4,391.0 L437.1,389.4 L434.7,390.3 L432.7,398.1 L436.9,402.3 L437.8,402.5Z"/><path d="M421.3,409.7 L422.9,405.9 L422.8,400.1 L421.1,399.2Z"/><path d="M431.8,409.7 L435.8,403.0 L431.8,398.9 L424.0,400.3 L424.1,405.6Z"/><path d="M441.4,408.6 L441.4,406.4 L441.5,402.3 L438.7,403.4Z"/><path d="M421.4,411.9 L421.4,413.5 L421.7,418.3 L423.1,417.4Z"/><path d="M424.3,417.1 L430.7,418.0 L431.4,410.8 L423.8,406.8 L422.3,410.6Z"/><path d="M437.5,403.6 L436.9,403.5 L432.6,410.6 L431.9,418.0 L435.2,419.2 L441.2,414.9 L441.4,411.2Z"/><path d="M423.6,430.5 L426.4,429.9 L429.6,419.2 L423.9,418.3 L421.7,419.6 L422.6,427.9Z"/><path d="M433.1,433.5 L437.6,425.5 L434.9,420.4 L431.2,419.1 L427.5,430.2Z"/><path d="M436.1,420.1 L438.7,425.0 L439.8,425.4 L441.2,416.4Z"/><path d="M432.5,434.5 L426.7,431.1 L424.4,431.6 L428.4,434.2Z"/><path d="M434.1,434.1 L437.1,431.8 L439.4,426.5 L438.5,426.2Z"/></g>
<path d="M400.0,92.0 C403.9,102.5 399.9,155.3 400.0,171.0 C400.1,186.7 400.2,203.1 401.0,210.0 C401.8,216.9 404.7,218.5 406.0,222.7 C407.3,226.9 409.3,237.0 411.0,241.7 C412.7,246.4 417.0,254.5 418.7,258.3 C420.4,262.1 422.2,266.3 424.0,270.0 C425.8,273.7 430.5,281.7 432.0,286.0 C433.5,290.3 434.2,297.8 435.0,302.0 C435.8,306.2 437.7,312.3 438.3,317.6 C438.9,322.9 439.5,334.4 439.8,341.4 C440.1,348.4 440.3,363.3 440.6,370.0 C440.9,376.7 441.9,385.3 442.0,392.0 C442.1,398.7 442.2,414.5 441.5,420.0 C440.8,425.5 438.7,431.0 437.0,433.0 C435.3,435.0 431.0,435.7 429.0,435.0 C427.0,434.3 423.1,433.1 422.0,428.0 C420.9,422.9 420.6,404.7 420.5,397.0 C420.4,389.3 421.6,377.5 421.5,370.0 C421.4,362.5 420.5,348.0 420.0,341.0 C419.5,334.0 418.3,322.8 417.6,317.6 C416.9,312.4 415.5,305.9 414.4,301.7 C413.3,297.5 411.2,290.2 409.7,286.0 C408.2,281.8 404.6,272.9 403.3,270.0 C402.0,267.1 401.3,267.9 399.7,264.6 C398.1,261.3 393.2,250.2 391.0,245.5 C388.8,240.8 385.1,233.7 383.0,229.0 C380.9,224.3 376.3,216.5 375.0,210.0 C373.7,203.5 373.5,188.0 373.0,180.0 C372.5,172.0 371.8,161.7 371.5,150.0 C371.2,138.3 367.2,99.7 371.0,92.0 C374.8,84.3 396.1,81.5 400.0,92.0 Z" fill="none" stroke="#d65a50" stroke-width="1.1"/>
<ellipse cx="360" cy="138" rx="3.0" ry="19" transform="rotate(-8 360 138)" fill="#f2e29a" stroke="#d89a66" stroke-width="1.1"/>
<ellipse cx="363" cy="197" rx="2.8" ry="17" transform="rotate(-25 363 197)" fill="#f2e29a" stroke="#d89a66" stroke-width="1.1"/>
<ellipse cx="394" cy="264" rx="3.0" ry="19" transform="rotate(-27 394 264)" fill="#f2e29a" stroke="#d89a66" stroke-width="1.1"/>
<ellipse cx="410.5" cy="326" rx="2.6" ry="17.5" transform="rotate(-6 410.5 326)" fill="#f2e29a" stroke="#d89a66" stroke-width="1.1"/>
<ellipse cx="416" cy="378" rx="2.4" ry="16.5" transform="rotate(-3 416 378)" fill="#f2e29a" stroke="#d89a66" stroke-width="1.1"/>
<path d="M342.3,188.0 C343.6,191.7 345.7,202.1 349.9,210.0 C354.1,217.9 362.6,226.9 367.7,235.4 C372.8,243.9 376.9,254.9 380.3,260.8 C383.7,266.7 385.7,265.5 388.3,271.0 C390.9,276.5 393.5,283.4 396.1,293.8 C398.7,304.2 402.3,320.8 404.0,333.5 C405.7,346.2 405.7,360.9 406.3,370.0 C406.9,379.1 407.6,385.0 407.8,388.0" fill="none" stroke="#fdfaf8" stroke-width="4.2"/>
<path d="M348.0,92.0 C348.1,101.7 348.2,135.2 348.5,150.0 C348.8,164.8 349.3,175.8 349.5,181.0" fill="none" stroke="#fdfaf8" stroke-width="2"/>
<g mask="url(#mB)">
<path d="M324.0,92.0 C321.4,97.6 324.7,133.4 324.5,140.0 C324.3,146.6 323.0,147.0 322.0,148.5 C321.0,150.0 318.3,151.9 316.0,152.5 C313.7,153.1 308.1,154.3 302.0,154.0 C295.9,153.7 271.1,150.8 264.0,150.0 C256.9,149.2 249.1,147.7 241.0,147.0 C232.9,146.3 200.4,141.6 195.0,144.0 C189.6,146.4 190.6,165.1 195.0,168.0 C199.4,170.9 225.0,167.9 233.0,168.6 C241.0,169.3 255.5,172.2 263.5,173.7 C271.5,175.2 294.2,179.7 301.6,181.3 C309.0,182.9 322.5,186.6 327.0,187.5 C331.5,188.4 337.8,189.1 340.0,189.0 C342.2,188.9 345.0,187.7 346.0,186.5 C347.0,185.3 348.3,183.7 348.5,179.0 C348.7,174.3 348.2,156.2 348.0,146.0 C347.8,135.8 349.8,98.3 347.0,92.0 C344.2,85.7 326.6,86.4 324.0,92.0 Z" fill="#f0e8d6" stroke="#f8f3ea" stroke-width="2.5"/>
<g fill="#e4d9c0" stroke="#c2b497" stroke-width="0.9" opacity="0.7"><path d="M330.3,98.6 L331.8,95.8 L330.0,94.6 L329.5,94.9 L329.2,98.0Z"/><path d="M336.8,100.8 L338.3,98.5 L337.0,96.1 L335.6,95.3 L333.9,96.2 L332.1,99.5Z"/><path d="M331.7,103.5 L333.4,105.7 L336.4,103.3 L336.4,102.7 L331.6,101.4Z"/><path d="M338.3,102.1 L338.4,103.1 L341.1,104.4 L339.6,100.1Z"/><path d="M330.5,105.2 L329.1,106.2 L329.1,108.3 L332.3,107.8Z"/><path d="M337.6,104.9 L334.3,107.6 L335.4,110.1 L336.2,109.9 L338.6,105.7Z"/><path d="M338.5,109.8 L342.5,110.0 L342.4,106.5 L340.4,106.4Z"/><path d="M329.2,110.3 L329.2,112.5 L332.5,113.4 L333.8,112.2 L333.9,111.5 L332.9,109.7Z"/><path d="M335.9,112.1 L338.9,115.1 L341.9,113.3 L342.1,112.0 L337.0,111.7Z"/><path d="M333.7,115.0 L333.0,118.1 L336.0,119.9 L338.1,118.6 L337.8,116.9 L334.7,114.1Z"/><path d="M342.4,115.3 L339.9,116.8 L340.1,118.4 L342.5,119.6Z"/><path d="M330.6,124.2 L331.6,125.1 L335.0,124.6 L335.0,121.6 L332.0,119.8Z"/><path d="M338.6,126.2 L341.2,121.2 L339.3,120.2 L337.0,121.6 L337.0,125.0Z"/><path d="M337.6,127.9 L335.7,126.5 L332.2,127.0 L331.8,131.8 L334.3,132.5Z"/><path d="M333.9,134.4 L330.3,133.9 L330.5,138.0 L332.0,138.2Z"/><path d="M338.7,135.9 L341.8,134.7 L342.0,132.2 L339.0,129.5 L335.9,133.6Z"/><path d="M333.8,139.1 L335.9,141.8 L337.0,140.8 L337.5,137.5 L335.4,135.8Z"/><path d="M339.0,140.6 L342.0,141.5 L342.1,136.7 L339.4,137.8Z"/><path d="M338.6,147.9 L342.0,145.0 L342.0,143.5 L338.2,142.4 L336.8,143.7Z"/><path d="M203.7,152.2 L205.4,151.7 L205.7,149.5 L202.9,149.3 L201.2,151.0Z"/><path d="M220.2,153.0 L224.3,152.5 L223.6,151.1 L219.7,150.6 L219.1,152.1Z"/><path d="M332.5,152.3 L330.9,148.4 L329.2,148.1 L328.7,149.2 L329.1,152.3 L331.6,152.7Z"/><path d="M334.4,151.7 L337.2,150.7 L335.3,145.2 L332.8,147.8Z"/><path d="M339.2,150.0 L339.2,150.8 L342.1,152.4 L342.0,147.6Z"/><path d="M200.8,157.9 L202.6,153.9 L200.4,152.8 L198.3,155.4 L198.4,157.2Z"/><path d="M208.8,157.9 L209.3,156.8 L208.1,154.4 L206.2,153.5 L204.6,154.0 L204.5,154.9 L207.4,158.5Z"/><path d="M216.2,153.4 L210.1,153.9 L211.0,155.8 L214.0,155.6Z"/><path d="M219.7,157.1 L219.1,154.6 L218.3,154.1 L215.6,156.9 L217.4,161.6Z"/><path d="M221.6,156.5 L222.9,157.2 L225.3,156.2 L225.3,154.4 L221.2,154.9Z"/><path d="M231.6,154.1 L229.2,153.1 L227.3,154.0 L227.3,156.6 L229.4,159.5 L232.2,156.0Z"/><path d="M239.8,155.5 L235.2,152.4 L233.6,153.6 L234.2,155.4 L238.3,157.2 L239.6,156.9Z"/><path d="M244.0,157.4 L245.7,154.4 L244.5,153.4 L242.7,153.2 L241.6,157.2 L242.9,158.1Z"/><path d="M246.5,157.0 L250.5,156.8 L251.2,154.8 L247.6,155.1Z"/><path d="M253.1,156.0 L255.7,158.3 L257.8,155.7 L257.2,155.2 L253.3,154.6Z"/><path d="M263.4,157.9 L266.7,159.5 L268.9,156.6 L263.8,156.0Z"/><path d="M330.8,154.6 L328.4,154.2 L325.9,155.4 L325.3,157.1 L327.3,158.9 L329.7,158.9Z"/><path d="M340.4,158.2 L340.6,154.0 L338.1,152.5 L336.4,153.2 L337.5,159.8Z"/><path d="M197.8,159.1 L198.6,162.9 L202.1,163.2 L200.6,159.9Z"/><path d="M205.8,159.6 L203.6,157.0 L202.5,159.0 L203.7,161.5Z"/><path d="M210.2,163.1 L210.6,162.5 L209.1,159.9 L206.8,161.5Z"/><path d="M213.8,157.7 L211.0,157.8 L210.7,158.6 L212.4,161.6 L215.3,161.8Z"/><path d="M219.2,162.8 L223.7,162.2 L222.1,159.0 L221.2,158.5Z"/><path d="M228.3,161.4 L225.9,158.1 L224.2,158.8 L225.8,162.0 L228.0,162.4Z"/><path d="M236.0,161.8 L237.0,158.8 L233.7,157.4 L230.1,162.5 L234.2,162.7Z"/><path d="M243.3,162.8 L242.1,159.9 L240.3,158.8 L239.0,159.1 L238.0,162.1Z"/><path d="M249.5,160.4 L249.8,158.8 L245.1,159.1 L244.2,159.6 L245.2,162.1Z"/><path d="M251.4,160.9 L252.3,161.9 L255.3,160.9 L252.2,157.8Z"/><path d="M261.4,158.3 L259.5,156.9 L257.0,159.9 L258.2,161.3Z"/><path d="M265.7,161.3 L262.8,159.8 L261.1,161.5 L264.4,163.9Z"/><path d="M270.5,162.2 L274.4,159.2 L273.9,158.4 L270.9,157.3 L268.4,160.6Z"/><path d="M276.7,163.5 L276.6,161.2 L275.8,160.6 L272.8,162.9Z"/><path d="M282.4,162.9 L280.9,160.2 L278.6,161.2 L278.7,163.0 L281.8,163.6Z"/><path d="M287.0,158.6 L283.1,158.2 L282.5,159.0 L284.3,162.2 L286.9,162.8 L288.3,161.7Z"/><path d="M300.8,160.9 L297.5,161.5 L298.6,166.6 L300.5,166.1 L301.5,161.8Z"/><path d="M312.4,163.5 L313.8,160.2 L312.5,159.3 L310.9,159.6Z"/><path d="M318.0,161.3 L320.6,160.9 L321.6,158.7 L319.2,157.9 L316.4,159.9Z"/><path d="M325.9,160.4 L323.8,158.7 L322.4,161.8 L323.9,164.5Z"/><path d="M331.6,159.7 L333.8,162.5 L334.8,162.7 L335.2,162.0 L332.1,157.9Z"/><path d="M341.9,164.5 L342.4,164.0 L342.3,161.0 L341.2,160.1 L337.4,162.2 L336.7,163.4Z"/><path d="M245.6,164.3 L249.3,164.9 L251.0,165.3 L251.0,163.4 L250.0,162.3Z"/><path d="M257.2,163.1 L256.5,162.6 L253.0,163.8 L253.0,165.6 L256.3,166.2 L257.2,165.5Z"/><path d="M259.5,162.9 L259.2,165.3 L262.1,166.6 L263.6,165.8Z"/><path d="M269.9,167.0 L269.6,164.0 L267.4,162.4 L265.8,165.5Z"/><path d="M271.9,167.5 L276.2,166.2 L276.3,165.5 L271.7,164.8Z"/><path d="M278.1,166.7 L279.6,168.4 L281.6,167.2 L281.3,165.5 L278.3,165.0Z"/><path d="M288.0,164.5 L287.6,166.2 L289.7,169.8 L292.4,168.4 L289.6,163.2Z"/><path d="M294.4,167.9 L295.9,168.2 L296.7,167.5 L295.4,161.2 L291.7,162.7Z"/><path d="M303.3,162.6 L302.5,166.3 L304.0,167.1 L306.8,166.9 L306.3,162.8Z"/><path d="M310.9,165.2 L309.3,161.0 L308.2,162.1 L308.8,166.4Z"/><path d="M316.6,162.7 L315.4,161.6 L313.9,165.2 L315.7,166.0Z"/><path d="M317.9,168.1 L318.9,168.0 L322.3,165.8 L320.7,162.9 L318.5,163.2 L317.5,167.3Z"/><path d="M331.4,168.5 L333.6,164.5 L329.9,165.8 L328.4,167.3Z"/><path d="M341.3,169.1 L341.2,166.4 L337.3,165.5 L338.7,170.4Z"/><path d="M276.7,168.1 L272.9,169.4 L278.4,170.5Z"/><path d="M282.9,168.7 L280.4,170.2 L280.4,170.9 L284.5,171.7Z"/><path d="M290.9,173.0 L295.6,173.9 L296.4,173.4 L295.5,170.2 L293.9,169.9 L290.1,171.9Z"/><path d="M301.2,168.0 L298.3,168.8 L297.4,169.6 L298.7,173.5 L302.2,173.4 L302.8,168.7Z"/><path d="M304.8,169.0 L304.2,173.9 L308.9,172.3 L307.4,168.8Z"/><path d="M309.3,168.3 L311.3,172.4 L315.6,169.9 L316.2,169.0 L315.7,168.2 L312.4,166.7Z"/><path d="M317.4,170.7 L319.6,175.0 L322.8,174.9 L318.8,170.0 L317.9,170.1Z"/><path d="M323.8,167.1 L320.7,169.2 L324.5,173.8 L325.7,168.2Z"/><path d="M329.0,173.7 L331.6,171.8 L331.1,170.6 L327.6,169.1 L327.0,173.4Z"/><path d="M332.9,169.9 L333.5,171.3 L336.9,172.0 L335.2,165.7Z"/><path d="M340.0,174.8 L342.5,174.9 L342.5,170.8 L338.9,172.5 L338.6,173.1Z"/><path d="M305.3,175.8 L309.7,177.0 L310.8,176.2 L310.1,174.0Z"/><path d="M316.8,176.6 L317.8,175.8 L315.9,172.1 L312.4,174.1 L312.8,175.9Z"/><path d="M322.9,177.2 L319.4,177.0 L318.3,178.0 L318.6,179.3 L320.5,179.8 L322.7,178.5Z"/><path d="M330.6,179.2 L328.6,175.7 L326.0,175.2 L324.8,176.1Z"/><path d="M333.0,173.2 L330.5,175.1 L332.1,177.8 L335.7,173.8Z"/><path d="M337.5,174.9 L335.0,178.1 L338.1,179.9 L338.5,176.1Z"/><path d="M340.2,180.0 L342.2,181.2 L342.5,176.9 L340.4,176.8Z"/><path d="M332.5,179.9 L332.2,182.3 L335.5,182.7 L336.6,181.3 L333.4,179.5Z"/></g>
</g>
<path d="M195.0,170.0 C199.4,165.8 225.1,171.2 233.0,172.0 C240.9,172.8 254.9,175.5 263.0,177.0 C271.1,178.5 294.5,182.9 302.0,184.5 C309.5,186.1 322.3,189.6 327.0,190.5 C331.7,191.4 339.6,189.7 342.0,192.0 C344.4,194.3 344.9,204.9 347.6,210.0 C350.3,215.1 361.9,229.5 365.4,235.4 C368.9,241.3 375.6,256.6 378.0,260.8 C380.4,265.0 384.2,267.1 386.0,271.0 C387.8,274.9 392.0,286.5 393.8,293.8 C395.6,301.1 400.5,324.6 401.7,333.5 C402.9,342.4 403.6,363.6 404.0,370.0 C404.4,376.4 405.5,385.1 405.5,388.0 C405.5,390.9 405.3,395.8 404.0,395.0 C402.7,394.2 396.1,384.1 394.0,381.0 C391.9,377.9 388.0,371.3 386.0,368.0 C384.0,364.7 379.0,356.0 377.0,353.0 C375.0,350.0 371.0,344.6 369.0,342.0 C367.0,339.4 362.1,334.0 360.0,331.0 C357.9,328.0 353.2,319.4 351.0,316.0 C348.8,312.6 343.4,305.1 341.0,302.0 C338.6,298.9 332.7,291.6 330.0,289.0 C327.3,286.4 321.3,282.6 318.0,280.0 C314.7,277.4 305.7,269.6 302.0,267.0 C298.3,264.4 289.7,259.5 286.0,257.5 C282.3,255.5 272.7,250.8 270.0,249.5 C267.3,248.2 266.5,248.2 263.0,246.5 C259.5,244.8 244.9,237.9 240.0,235.0 C235.1,232.1 226.2,225.2 221.0,222.0 C215.8,218.8 198.0,214.1 195.0,208.0 C192.0,201.9 190.6,174.2 195.0,170.0 Z" fill="#ebd699"/>
<g stroke="#f1e0ab" stroke-width="0.8" opacity="0.6"><path d="M195.6,170.3 L194.6,172.8 L195.3,173.7 L201.6,175.3 L205.0,172.8 L205.5,170.3 L204.2,169.0 L198.0,169.3Z" fill="#ecd89c"/><path d="M208.1,169.2 L206.6,170.1 L206.7,173.0 L215.2,180.3 L217.0,180.2 L219.3,172.2 L219.0,170.9 L218.0,170.3Z" fill="#f0e0ac"/><path d="M197.7,183.6 L200.6,177.9 L200.6,176.8 L199.6,175.9 L194.3,174.8 L193.2,176.8 L192.9,183.9 L194.4,184.8Z" fill="#e6ce8c"/><path d="M206.9,190.4 L208.8,190.5 L215.9,184.3 L216.3,183.2 L215.8,182.1 L206.8,174.4 L205.7,174.0 L202.3,176.4 L199.6,183.3Z" fill="#f2e4b6"/><path d="M218.0,181.6 L218.4,182.9 L220.2,183.7 L226.9,181.9 L229.1,173.6 L228.7,172.3 L222.0,170.9 L220.8,171.3Z" fill="#f2e4b6"/><path d="M228.4,181.0 L229.0,182.6 L233.3,184.5 L235.8,183.9 L237.1,174.5 L236.7,173.3 L231.8,172.3 L230.6,172.7Z" fill="#ecd89c"/><path d="M237.3,182.1 L237.7,183.2 L238.6,183.7 L246.3,183.3 L249.0,177.2 L248.9,176.0 L247.6,174.7 L238.9,173.5 L238.1,174.6Z" fill="#ecd89c"/><path d="M251.0,176.8 L249.9,177.6 L247.7,183.4 L248.6,186.1 L256.5,188.9 L257.7,188.8 L258.4,187.8 L260.3,177.6 L259.3,176.8 L255.1,176.1Z" fill="#f2e4b6"/><path d="M291.3,182.9 L289.7,183.5 L289.6,185.0 L291.1,186.1 L292.6,185.9 L293.4,185.1 L293.4,183.9Z" fill="#f2e4b6"/><path d="M202.9,194.2 L205.6,192.8 L206.0,191.1 L199.1,184.8 L197.9,184.6 L193.0,186.8 L192.8,190.7 L193.4,191.9Z" fill="#f0e0ac"/><path d="M209.6,191.1 L209.2,192.8 L212.6,199.1 L213.5,199.8 L214.7,199.7 L220.9,191.7 L219.7,185.0 L218.4,184.2 L217.3,184.4Z" fill="#f2e4b6"/><path d="M222.1,184.3 L221.0,185.8 L222.1,191.2 L224.8,195.5 L231.9,197.5 L233.2,197.2 L233.7,196.0 L232.8,185.6 L227.5,183.1Z" fill="#ead598"/><path d="M234.8,197.5 L235.3,198.5 L236.4,198.9 L245.5,196.9 L247.8,187.4 L246.7,184.8 L236.9,184.8 L234.6,185.7 L234.2,186.8Z" fill="#f2e4b6"/><path d="M250.4,188.1 L248.6,188.9 L246.7,197.0 L248.4,199.5 L249.4,200.0 L259.6,194.2 L260.3,193.0 L259.9,191.9 L258.2,190.5Z" fill="#e6ce8c"/><path d="M259.2,189.0 L259.5,190.2 L262.6,192.7 L264.6,193.3 L266.1,192.6 L268.0,181.4 L267.6,180.2 L263.2,177.8 L261.8,178.2Z" fill="#f0e0ac"/><path d="M267.7,190.9 L268.8,192.5 L278.1,193.5 L282.8,184.4 L282.8,183.1 L280.3,180.8 L272.7,179.3 L269.8,180.2 L269.0,181.2Z" fill="#f2e4b6"/><path d="M286.4,184.1 L284.9,183.9 L283.9,184.4 L279.4,193.8 L279.5,194.9 L281.6,198.2 L289.8,197.8 L292.8,192.8 L290.6,187.3Z" fill="#e6ce8c"/><path d="M293.5,186.8 L292.3,188.4 L294.4,192.1 L305.3,193.9 L308.2,191.5 L307.9,188.6 L305.0,185.7 L301.1,184.9Z" fill="#f2e4b6"/><path d="M309.5,188.0 L309.3,190.8 L309.9,191.9 L318.9,196.6 L321.2,196.0 L321.2,190.8 L320.6,189.7 L311.2,187.2Z" fill="#f0e0ac"/><path d="M326.2,191.0 L323.0,190.6 L322.3,191.7 L322.5,193.8 L323.7,194.6 L326.3,193.4 L326.8,192.4Z" fill="#ecd89c"/><path d="M332.8,191.3 L331.4,192.3 L331.8,193.9 L338.3,198.6 L340.1,198.3 L342.3,194.3 L341.6,192.4 L339.1,191.4Z" fill="#e6ce8c"/><path d="M201.3,194.8 L193.7,193.5 L193.1,194.7 L194.1,203.0 L195.0,204.0 L197.7,204.4 L198.6,203.6 L202.2,195.8Z" fill="#f0e0ac"/><path d="M208.6,193.9 L206.9,193.2 L204.2,195.2 L199.8,203.7 L200.5,205.3 L206.3,208.2 L212.7,204.7 L213.4,203.7 L213.1,202.1Z" fill="#e9d394"/><path d="M222.8,194.2 L221.5,193.6 L220.4,194.2 L214.5,201.9 L214.9,204.0 L217.7,205.1 L219.1,204.5 L223.8,196.9Z" fill="#ead598"/><path d="M220.4,204.4 L220.3,205.8 L221.3,206.7 L232.1,206.6 L233.1,205.6 L234.2,199.8 L233.2,198.9 L225.2,197.2Z" fill="#ecd89c"/><path d="M242.7,211.9 L243.9,212.1 L244.7,211.6 L249.0,202.8 L248.6,201.2 L245.6,198.4 L235.9,200.1 L234.2,205.1 L234.7,206.6Z" fill="#e6ce8c"/><path d="M251.4,200.2 L250.7,201.4 L251.2,202.6 L254.7,204.4 L255.9,204.3 L263.5,200.0 L264.0,194.8 L263.2,194.0 L261.8,194.0Z" fill="#ecd89c"/><path d="M264.8,200.0 L268.1,205.5 L269.2,205.5 L279.4,199.4 L279.8,197.9 L278.4,195.1 L267.5,193.4 L265.7,194.1Z" fill="#e9d394"/><path d="M285.2,199.2 L283.9,200.1 L284.1,201.6 L291.0,208.5 L292.9,208.5 L294.8,205.2 L294.5,203.8 L290.2,199.1Z" fill="#f0e0ac"/><path d="M296.0,203.6 L302.3,201.5 L304.5,196.5 L304.1,195.1 L294.9,193.2 L293.7,193.5 L291.4,197.6 L291.7,199.1Z" fill="#e9d394"/><path d="M303.3,201.7 L303.3,202.9 L308.0,210.3 L309.6,210.9 L316.8,206.8 L318.5,198.2 L317.7,197.1 L308.8,192.9 L306.3,195.0Z" fill="#f2e4b6"/><path d="M323.3,212.3 L324.6,212.7 L325.6,212.0 L328.1,203.8 L322.6,197.8 L321.4,197.3 L319.6,198.5 L318.0,206.8Z" fill="#e9d394"/><path d="M328.1,193.4 L323.8,196.6 L324.0,197.8 L329.1,202.9 L337.8,204.8 L339.2,204.0 L338.9,200.3 L329.5,193.5Z" fill="#e6ce8c"/><path d="M340.4,199.9 L340.8,205.2 L341.8,205.8 L344.5,205.6 L345.1,204.2 L343.7,198.4 L341.9,197.9Z" fill="#e6ce8c"/><path d="M206.0,209.4 L197.7,205.5 L196.9,206.2 L196.8,209.5 L203.4,213.8 L205.2,213.8 L206.3,212.0Z" fill="#e6ce8c"/><path d="M219.5,208.1 L218.3,206.4 L214.0,205.2 L207.7,209.1 L207.3,211.9 L213.2,217.1 L218.5,217.3 L219.6,216.0Z" fill="#ecd89c"/><path d="M220.6,217.4 L222.7,219.7 L228.0,219.8 L229.2,219.3 L231.3,209.3 L230.8,208.0 L222.0,207.7 L220.8,208.3Z" fill="#e9d394"/><path d="M234.7,207.8 L233.5,207.6 L232.5,208.5 L230.3,219.5 L230.7,220.7 L232.7,222.0 L243.8,217.9 L244.7,216.7 L243.7,213.8Z" fill="#e6ce8c"/><path d="M248.7,219.2 L250.0,219.4 L257.0,216.8 L258.0,215.6 L255.0,205.9 L250.8,203.7 L249.3,204.4 L245.0,213.5 L246.1,217.2Z" fill="#e6ce8c"/><path d="M266.9,216.8 L267.7,215.6 L267.3,207.1 L264.7,202.2 L263.1,201.5 L256.9,204.9 L256.3,206.5 L259.4,215.9Z" fill="#ead598"/><path d="M268.7,215.1 L269.6,216.3 L272.0,216.7 L279.2,213.7 L280.0,202.9 L279.4,201.6 L277.9,201.5 L268.7,207.1Z" fill="#f0e0ac"/><path d="M283.6,202.5 L282.1,202.1 L281.1,203.2 L280.7,213.2 L281.7,214.0 L290.2,215.7 L291.0,214.7 L291.6,210.7Z" fill="#e9d394"/><path d="M300.4,218.8 L306.5,216.7 L307.9,212.6 L302.8,204.0 L301.7,203.3 L296.0,205.2 L292.9,210.8 L292.0,214.6 L292.9,216.1Z" fill="#e6ce8c"/><path d="M308.7,217.7 L309.9,218.0 L322.8,216.5 L323.7,215.9 L324.0,214.7 L318.1,208.7 L316.7,208.3 L309.1,212.5 L307.9,216.2Z" fill="#ead598"/><path d="M326.5,212.6 L326.8,214.0 L328.2,214.5 L337.5,210.9 L339.1,207.9 L339.0,206.7 L338.0,205.9 L329.5,204.4Z" fill="#f0e0ac"/><path d="M341.7,206.8 L340.4,207.5 L339.0,211.2 L341.9,219.4 L343.0,220.2 L349.9,220.7 L350.6,219.5 L350.0,214.8 L346.1,207.7 L345.2,207.0Z" fill="#f2e4b6"/><path d="M225.1,220.8 L223.7,221.7 L224.0,223.3 L230.0,227.5 L231.8,227.3 L232.2,226.3 L231.6,222.8 L229.4,220.9Z" fill="#e6ce8c"/><path d="M233.1,224.2 L234.0,230.4 L237.0,232.4 L244.7,233.0 L248.6,229.4 L248.6,220.4 L245.2,218.5 L233.8,222.9Z" fill="#f0e0ac"/><path d="M263.9,227.7 L265.6,219.4 L264.8,218.0 L258.9,217.2 L250.8,220.2 L249.9,221.0 L249.8,229.3 L256.3,232.9 L258.3,233.0Z" fill="#f2e4b6"/><path d="M275.7,228.1 L276.2,226.3 L271.9,218.2 L268.7,217.3 L267.4,217.8 L265.4,226.7 L265.7,227.9 L270.1,231.8Z" fill="#e6ce8c"/><path d="M289.0,218.3 L288.2,216.6 L280.2,214.7 L274.2,217.0 L273.4,218.3 L277.8,227.1 L283.3,231.0 L284.4,230.5 L287.1,226.5Z" fill="#e9d394"/><path d="M292.1,216.8 L290.2,217.6 L288.5,225.7 L289.4,226.7 L295.8,228.3 L300.0,225.0 L300.3,220.4 L299.5,219.5Z" fill="#e9d394"/><path d="M306.3,234.7 L307.4,235.5 L308.7,235.0 L313.3,226.8 L308.7,219.0 L306.8,217.8 L301.7,219.9 L301.2,224.7Z" fill="#ecd89c"/><path d="M314.0,225.5 L315.1,226.2 L320.8,226.0 L324.9,223.5 L325.6,222.3 L325.1,218.1 L323.7,217.4 L311.6,219.0 L311.0,220.8Z" fill="#e9d394"/><path d="M327.2,216.0 L326.3,217.2 L326.7,222.7 L331.7,226.3 L336.9,225.6 L340.9,220.5 L338.6,213.2 L337.6,212.3Z" fill="#e9d394"/><path d="M342.8,221.1 L341.5,221.6 L338.5,225.2 L338.3,226.7 L344.9,234.7 L348.8,234.3 L352.7,227.1 L352.7,225.8 L350.6,222.2Z" fill="#e9d394"/><path d="M355.3,221.9 L353.5,221.4 L352.6,222.9 L353.8,225.6 L355.4,226.1 L356.4,225.7 L356.9,224.6Z" fill="#f2e4b6"/><path d="M245.3,236.5 L246.2,237.7 L251.7,240.0 L254.8,235.0 L254.9,233.8 L254.2,233.0 L249.1,230.8 L245.4,233.9Z" fill="#e9d394"/><path d="M269.7,242.3 L270.6,240.8 L269.4,233.4 L265.7,229.3 L264.2,229.0 L259.4,233.4 L259.1,234.9 L264.1,243.9 L265.3,244.1Z" fill="#ecd89c"/><path d="M270.7,233.2 L272.1,241.2 L273.2,241.5 L283.2,239.5 L283.9,238.2 L283.1,232.6 L278.1,228.7 L276.5,228.8Z" fill="#e6ce8c"/><path d="M284.6,232.0 L284.8,237.3 L286.5,238.3 L294.5,235.0 L295.2,230.4 L294.3,229.2 L288.1,227.6Z" fill="#ead598"/><path d="M301.4,227.6 L299.6,226.9 L296.6,229.2 L296.1,234.2 L297.1,235.1 L303.9,236.3 L304.8,235.6 L304.9,234.4Z" fill="#e9d394"/><path d="M309.6,235.5 L309.6,236.9 L310.6,237.7 L320.6,237.5 L321.2,236.2 L320.4,227.7 L319.3,227.1 L314.4,227.5Z" fill="#f0e0ac"/><path d="M327.1,241.5 L328.5,241.6 L329.7,240.6 L331.1,227.8 L330.4,226.7 L326.0,224.2 L322.2,226.4 L321.6,227.7 L322.3,237.8Z" fill="#f0e0ac"/><path d="M343.5,236.6 L343.6,234.7 L337.2,227.1 L336.1,226.8 L332.4,227.8 L330.8,239.8 L331.3,241.1 L338.0,242.6Z" fill="#ecd89c"/><path d="M354.9,227.1 L353.4,227.9 L350.5,233.9 L350.7,235.3 L358.3,243.5 L365.7,240.5 L366.1,238.7 L359.6,227.9Z" fill="#e9d394"/><path d="M258.3,235.6 L257.1,234.8 L255.9,235.2 L253.4,240.8 L254.2,241.7 L261.1,244.6 L261.9,243.8 L262.0,242.7Z" fill="#e6ce8c"/><path d="M266.5,244.7 L265.5,246.0 L266.2,247.4 L272.0,249.9 L273.7,249.2 L273.8,248.0 L271.9,243.1 L270.6,243.0Z" fill="#ead598"/><path d="M280.1,253.9 L281.2,254.0 L282.1,253.2 L285.5,243.8 L284.7,241.4 L283.8,240.7 L274.6,242.3 L273.6,243.3 L276.2,251.7Z" fill="#f0e0ac"/><path d="M286.6,239.4 L285.7,240.7 L286.7,242.9 L295.3,248.0 L296.5,247.4 L303.1,238.6 L302.0,237.1 L295.4,235.9Z" fill="#ead598"/><path d="M309.2,238.9 L307.6,237.3 L305.4,237.9 L296.8,248.6 L297.1,250.5 L307.9,253.3 L311.1,251.7 L311.5,250.5Z" fill="#ead598"/><path d="M318.4,252.8 L322.7,250.8 L326.5,243.7 L326.4,242.4 L321.5,238.9 L311.3,238.9 L310.5,240.4 L312.6,250.8Z" fill="#f0e0ac"/><path d="M331.6,256.8 L333.5,256.6 L339.9,248.2 L337.5,243.9 L330.2,242.1 L327.9,243.3 L324.1,250.9 L324.6,251.9Z" fill="#e9d394"/><path d="M356.5,247.1 L357.4,245.2 L357.3,244.1 L349.1,235.4 L345.1,236.3 L339.1,243.4 L341.4,248.3 L348.8,252.7 L349.9,252.5Z" fill="#f2e4b6"/><path d="M366.9,242.3 L365.3,241.9 L359.2,244.6 L358.0,246.5 L358.3,247.8 L364.2,254.7 L365.3,254.5 L371.6,249.6 L370.2,245.8Z" fill="#ead598"/><path d="M282.9,253.8 L283.5,255.6 L292.1,259.9 L293.2,259.0 L296.0,250.9 L295.0,249.3 L287.0,244.8 L286.0,245.6Z" fill="#ead598"/><path d="M293.9,259.9 L294.4,261.6 L300.4,265.2 L304.9,264.6 L305.8,263.5 L307.3,254.9 L306.3,254.0 L297.5,252.2 L296.7,252.9Z" fill="#f2e4b6"/><path d="M309.3,253.9 L308.6,254.9 L306.9,264.8 L309.9,267.3 L315.6,267.2 L319.1,261.8 L318.4,254.4 L317.6,253.6 L312.6,252.3Z" fill="#f2e4b6"/><path d="M320.1,260.7 L320.9,261.9 L331.0,266.1 L332.2,265.9 L333.6,264.5 L332.2,258.4 L323.3,252.3 L322.2,252.4 L319.7,254.0Z" fill="#f2e4b6"/><path d="M342.1,249.9 L340.2,250.1 L333.6,258.2 L334.5,263.5 L335.3,264.5 L342.8,265.6 L348.7,260.1 L348.5,253.9Z" fill="#ecd89c"/><path d="M349.9,259.2 L350.5,260.4 L359.0,265.1 L363.6,265.4 L364.8,264.4 L363.5,256.1 L357.3,248.6 L356.0,248.8 L350.1,253.7Z" fill="#e6ce8c"/><path d="M365.4,255.6 L364.8,257.1 L366.4,264.3 L367.6,264.5 L376.2,262.3 L376.4,261.2 L374.7,255.5 L372.7,251.6 L371.1,251.6Z" fill="#f2e4b6"/><path d="M305.1,265.6 L304.0,266.5 L304.2,267.9 L306.8,270.0 L308.3,269.8 L308.9,268.8 L308.6,267.7 L306.2,265.7Z" fill="#ead598"/><path d="M321.0,263.1 L319.3,263.6 L316.9,268.0 L321.8,276.0 L323.2,276.5 L330.0,268.9 L330.3,267.6 L329.5,266.6Z" fill="#e6ce8c"/><path d="M332.6,266.9 L332.1,268.7 L336.1,275.3 L337.4,275.1 L343.1,270.5 L342.7,267.6 L341.8,266.7 L334.8,265.5Z" fill="#e6ce8c"/><path d="M344.1,265.9 L343.7,267.1 L344.4,270.5 L347.8,277.2 L348.8,277.9 L350.4,277.9 L357.3,267.1 L357.4,265.7 L349.7,261.3Z" fill="#e6ce8c"/><path d="M358.1,267.7 L352.2,278.1 L352.9,279.0 L354.5,279.8 L355.9,279.2 L360.7,269.1 L360.2,267.4 L359.1,267.1Z" fill="#e6ce8c"/><path d="M367.1,265.7 L365.9,267.0 L366.9,274.6 L370.4,277.9 L371.8,278.0 L379.5,273.8 L378.2,264.9 L377.6,263.9 L376.4,263.7Z" fill="#ecd89c"/><path d="M382.4,267.0 L380.9,266.6 L379.9,267.7 L380.9,273.5 L384.3,277.2 L385.7,277.5 L387.0,276.1 L387.1,275.0 L384.8,270.0Z" fill="#e6ce8c"/><path d="M319.2,280.3 L321.4,280.1 L322.1,278.4 L316.2,268.9 L314.9,268.3 L310.3,268.7 L309.4,271.3 L309.7,272.4Z" fill="#f2e4b6"/><path d="M323.7,278.1 L323.5,279.6 L325.0,280.9 L333.5,282.5 L334.7,281.5 L335.4,277.0 L332.1,270.8 L330.7,270.2Z" fill="#e6ce8c"/><path d="M339.4,285.8 L341.3,285.6 L347.0,278.6 L346.9,277.5 L343.8,272.4 L342.4,272.6 L336.4,277.4 L335.8,282.9Z" fill="#ecd89c"/><path d="M357.2,278.8 L357.5,280.5 L359.2,280.8 L365.6,275.2 L365.1,268.8 L364.4,267.7 L363.2,267.5 L362.3,268.2Z" fill="#e9d394"/><path d="M370.0,287.0 L371.2,285.7 L370.6,279.6 L367.1,276.5 L365.6,276.6 L360.1,281.6 L360.2,283.2 L364.8,287.8Z" fill="#ecd89c"/><path d="M376.0,289.0 L377.5,289.0 L385.9,282.3 L385.0,279.5 L380.5,275.1 L372.5,278.8 L371.7,279.7 L372.4,286.5Z" fill="#e9d394"/><path d="M326.1,284.8 L335.3,294.0 L338.5,294.4 L340.6,292.9 L340.0,287.5 L334.9,283.9 L327.3,282.4 L326.1,283.2Z" fill="#e6ce8c"/><path d="M356.0,283.3 L355.5,281.6 L351.0,279.2 L348.0,279.2 L341.4,287.3 L342.1,292.8 L348.8,296.8 L350.7,296.4Z" fill="#e9d394"/><path d="M359.2,283.6 L357.9,283.1 L356.8,284.0 L352.8,294.5 L353.6,296.2 L360.3,296.3 L363.8,289.7 L363.6,288.1Z" fill="#ecd89c"/><path d="M362.2,295.4 L362.6,297.2 L372.2,303.4 L373.4,303.5 L375.4,302.2 L376.9,296.6 L376.4,290.9 L371.8,287.8 L365.8,288.9 L364.9,289.6Z" fill="#f0e0ac"/><path d="M377.8,294.4 L379.2,295.8 L390.9,294.9 L392.7,291.7 L390.5,284.7 L386.7,283.4 L378.1,289.9 L377.5,290.9Z" fill="#ead598"/><path d="M344.7,306.2 L346.2,306.8 L348.6,305.6 L348.7,298.3 L342.3,294.2 L341.1,294.1 L338.9,295.6 L338.3,297.6Z" fill="#ecd89c"/><path d="M353.5,312.9 L355.2,313.7 L359.1,311.4 L359.3,298.9 L358.3,297.6 L351.4,297.3 L349.8,298.6 L349.9,306.1Z" fill="#ecd89c"/><path d="M362.6,298.5 L361.3,298.4 L360.4,299.4 L360.4,310.6 L361.8,311.5 L368.9,310.3 L371.7,305.7 L371.6,304.4Z" fill="#ecd89c"/><path d="M383.9,306.5 L385.1,306.5 L390.6,303.6 L390.7,297.6 L390.0,296.5 L378.9,296.8 L377.7,297.5 L376.6,301.6 L376.8,302.7Z" fill="#ead598"/><path d="M394.7,300.1 L393.5,299.0 L392.0,299.6 L391.8,302.7 L392.6,303.8 L394.0,304.1 L395.1,303.3Z" fill="#e9d394"/><path d="M355.8,319.8 L356.6,320.9 L365.6,324.5 L371.0,318.9 L371.4,317.7 L369.4,312.3 L367.9,311.6 L359.9,312.8 L355.9,314.5 L355.3,315.6Z" fill="#ead598"/><path d="M376.5,319.9 L385.0,320.0 L386.4,318.5 L384.1,307.9 L375.7,303.6 L373.2,304.9 L370.2,311.1 L372.6,317.8Z" fill="#ecd89c"/><path d="M387.3,317.9 L388.7,319.1 L392.5,318.8 L393.5,318.2 L397.2,312.3 L395.6,305.9 L391.3,304.6 L385.6,307.6 L385.4,308.8Z" fill="#f0e0ac"/><path d="M394.8,318.0 L394.8,319.6 L396.4,320.9 L397.5,321.2 L398.5,320.5 L398.3,317.4 L397.7,316.4 L396.1,316.3Z" fill="#ead598"/><path d="M358.8,322.9 L357.2,323.3 L356.8,324.8 L361.5,332.2 L363.1,332.8 L365.6,331.3 L366.2,330.0 L365.4,325.9Z" fill="#ecd89c"/><path d="M373.9,332.6 L374.7,331.5 L376.0,321.5 L375.3,320.4 L372.5,319.3 L367.0,325.0 L366.7,326.2 L367.8,331.0 L371.9,333.2Z" fill="#ecd89c"/><path d="M384.6,323.4 L384.8,322.0 L383.8,321.1 L377.4,321.5 L375.9,330.4 L376.3,331.6 L377.3,332.1 L379.0,331.6Z" fill="#e9d394"/><path d="M388.2,320.1 L387.1,320.7 L386.8,321.9 L391.3,336.0 L392.9,336.4 L400.4,332.4 L400.8,331.1 L399.5,324.6 L393.3,319.9Z" fill="#ead598"/><path d="M364.5,333.2 L363.8,334.2 L364.1,335.4 L369.7,342.1 L371.6,342.2 L372.2,341.0 L371.6,334.4 L367.3,331.9Z" fill="#e6ce8c"/><path d="M374.2,345.0 L376.1,345.7 L385.5,340.3 L386.2,339.3 L386.0,338.2 L378.9,333.1 L375.4,333.1 L373.7,333.9 L372.9,335.3 L373.4,343.3Z" fill="#e9d394"/><path d="M387.9,338.1 L389.6,338.2 L390.3,336.6 L387.0,325.8 L385.3,324.9 L384.3,325.6 L380.3,332.3Z" fill="#f2e4b6"/><path d="M399.4,334.2 L392.0,338.5 L392.1,339.7 L397.4,346.1 L398.5,346.4 L401.8,345.4 L402.1,344.3 L401.6,337.4 L400.9,334.4Z" fill="#f0e0ac"/><path d="M376.0,346.9 L375.3,348.1 L375.9,349.4 L383.1,354.5 L386.3,354.3 L387.2,353.2 L388.8,341.4 L388.0,340.6 L386.8,340.6Z" fill="#f0e0ac"/><path d="M392.5,341.8 L391.0,341.3 L390.0,342.3 L388.1,353.4 L388.6,354.8 L390.9,355.8 L396.2,352.2 L397.0,347.9 L396.7,346.9Z" fill="#ead598"/><path d="M402.4,348.4 L401.1,347.0 L398.4,347.7 L397.6,351.1 L397.9,352.2 L400.7,353.8 L402.1,353.4 L402.6,352.4Z" fill="#f0e0ac"/><path d="M383.2,356.4 L382.4,360.9 L387.2,368.6 L388.6,368.6 L392.9,365.4 L391.1,357.7 L390.3,356.7 L387.2,355.4 L384.1,355.6Z" fill="#e6ce8c"/><path d="M397.8,353.4 L396.2,353.6 L392.6,356.3 L392.1,357.7 L394.4,364.9 L400.8,366.6 L401.9,365.4 L402.8,356.6 L402.1,355.6Z" fill="#ecd89c"/><path d="M389.1,369.5 L388.6,371.3 L393.4,379.1 L394.6,379.7 L395.8,379.0 L401.5,370.0 L400.5,367.8 L394.4,366.2Z" fill="#ecd89c"/><path d="M396.1,380.4 L395.9,381.6 L396.6,382.5 L402.7,385.6 L404.3,385.3 L404.6,382.7 L403.8,373.9 L403.2,372.8 L402.1,372.4 L401.1,372.8Z" fill="#e6ce8c"/><path d="M401.4,386.1 L399.8,386.3 L399.3,387.7 L401.0,390.5 L402.4,390.8 L403.4,390.0 L403.8,387.9Z" fill="#e6ce8c"/></g>
<path d="M195.0,170.0 C199.4,165.8 225.1,171.2 233.0,172.0 C240.9,172.8 254.9,175.5 263.0,177.0 C271.1,178.5 294.5,182.9 302.0,184.5 C309.5,186.1 322.3,189.6 327.0,190.5 C331.7,191.4 339.6,189.7 342.0,192.0 C344.4,194.3 344.9,204.9 347.6,210.0 C350.3,215.1 361.9,229.5 365.4,235.4 C368.9,241.3 375.6,256.6 378.0,260.8 C380.4,265.0 384.2,267.1 386.0,271.0 C387.8,274.9 392.0,286.5 393.8,293.8 C395.6,301.1 400.5,324.6 401.7,333.5 C402.9,342.4 403.6,363.6 404.0,370.0 C404.4,376.4 405.5,385.1 405.5,388.0 C405.5,390.9 405.3,395.8 404.0,395.0 C402.7,394.2 396.1,384.1 394.0,381.0 C391.9,377.9 388.0,371.3 386.0,368.0 C384.0,364.7 379.0,356.0 377.0,353.0 C375.0,350.0 371.0,344.6 369.0,342.0 C367.0,339.4 362.1,334.0 360.0,331.0 C357.9,328.0 353.2,319.4 351.0,316.0 C348.8,312.6 343.4,305.1 341.0,302.0 C338.6,298.9 332.7,291.6 330.0,289.0 C327.3,286.4 321.3,282.6 318.0,280.0 C314.7,277.4 305.7,269.6 302.0,267.0 C298.3,264.4 289.7,259.5 286.0,257.5 C282.3,255.5 272.7,250.8 270.0,249.5 C267.3,248.2 266.5,248.2 263.0,246.5 C259.5,244.8 244.9,237.9 240.0,235.0 C235.1,232.1 226.2,225.2 221.0,222.0 C215.8,218.8 198.0,214.1 195.0,208.0 C192.0,201.9 190.6,174.2 195.0,170.0 Z" fill="url(#fatGrad)"/>
<path d="M195.0,170.0 C201.3,170.3 221.7,170.8 233.0,172.0 C244.3,173.2 251.5,174.9 263.0,177.0 C274.5,179.1 291.3,182.2 302.0,184.5 C312.7,186.8 320.3,189.2 327.0,190.5 C333.7,191.8 339.5,191.8 342.0,192.0" fill="none" stroke="#fbf7ee" stroke-width="3"/>
<path d="M195.0,208.0 C197.6,203.4 216.5,219.3 221.0,222.0 C225.5,224.7 235.8,232.6 240.0,235.0 C244.2,237.4 260.0,245.1 263.0,246.5 C266.0,247.9 267.7,248.4 270.0,249.5 C272.3,250.6 282.8,255.8 286.0,257.5 C289.2,259.2 298.8,264.8 302.0,267.0 C305.2,269.2 315.2,277.8 318.0,280.0 C320.8,282.2 327.7,286.8 330.0,289.0 C332.3,291.2 338.9,299.3 341.0,302.0 C343.1,304.7 349.1,313.1 351.0,316.0 C352.9,318.9 358.2,328.4 360.0,331.0 C361.8,333.6 367.3,339.8 369.0,342.0 C370.7,344.2 375.3,350.4 377.0,353.0 C378.7,355.6 384.3,365.2 386.0,368.0 C387.7,370.8 392.2,378.3 394.0,381.0 C395.8,383.7 403.9,393.9 404.0,395.0 C404.1,396.1 397.1,393.4 395.0,392.0 C392.9,390.6 385.3,381.8 383.0,381.0 C380.7,380.2 374.7,384.1 372.0,384.0 C369.3,383.9 359.0,382.1 356.0,380.0 C353.0,377.9 344.8,365.9 342.0,363.0 C339.2,360.1 330.8,353.3 328.0,351.0 C325.2,348.7 316.6,342.2 314.0,340.0 C311.4,337.8 304.8,331.4 302.0,329.0 C299.2,326.6 289.2,318.2 286.0,316.0 C282.8,313.8 273.0,308.6 270.0,307.0 C267.0,305.4 259.8,301.4 256.0,299.5 C252.2,297.6 235.6,290.2 232.0,288.5 C228.4,286.8 222.5,283.4 220.0,282.0 C217.5,280.6 209.5,276.4 207.0,275.0 C204.5,273.6 196.2,274.7 195.0,268.0 C193.8,261.3 192.4,212.6 195.0,208.0 Z" fill="#ea8479"/>
<path d="M200.0,214.0 C201.3,214.8 205.3,216.9 208.0,218.4 C210.7,219.8 213.3,221.2 216.0,222.7 C218.7,224.2 221.3,225.7 224.0,227.4 C226.7,229.1 229.3,231.0 232.0,232.8 C234.7,234.6 237.3,236.6 240.0,238.2 C242.7,239.7 245.3,240.8 248.0,242.2 C250.7,243.5 253.3,244.8 256.0,246.1 C258.7,247.5 261.3,248.8 264.0,250.1 C266.7,251.3 269.3,252.4 272.0,253.7 C274.7,255.0 277.3,256.4 280.0,257.7 C282.7,259.1 285.3,260.4 288.0,262.0 C290.7,263.5 293.3,265.1 296.0,266.8 C298.7,268.5 301.3,270.1 304.0,272.1 C306.7,274.1 309.3,276.5 312.0,278.6 C314.7,280.8 317.3,282.9 320.0,285.0 C322.7,287.1 325.3,288.6 328.0,291.0 C330.7,293.4 333.3,296.5 336.0,299.5 C338.7,302.6 342.7,307.7 344.0,309.4" fill="none" stroke="#f5aca2" stroke-width="1" opacity="0.6"/>
<path d="M200.0,220.7 C201.3,221.5 205.3,223.6 208.0,225.1 C210.7,226.5 213.3,227.9 216.0,229.4 C218.7,230.9 221.3,232.4 224.0,234.1 C226.7,235.7 229.3,237.6 232.0,239.4 C234.7,241.1 237.3,243.0 240.0,244.5 C242.7,246.0 245.3,247.2 248.0,248.5 C250.7,249.8 253.3,251.1 256.0,252.4 C258.7,253.7 261.3,255.1 264.0,256.4 C266.7,257.7 269.3,258.8 272.0,260.1 C274.7,261.4 277.3,262.8 280.0,264.2 C282.7,265.6 285.3,266.9 288.0,268.5 C290.7,270.1 293.3,271.8 296.0,273.6 C298.7,275.3 301.3,277.0 304.0,279.0 C306.7,281.0 309.3,283.5 312.0,285.6 C314.7,287.8 317.3,290.0 320.0,292.0 C322.7,294.1 325.3,295.7 328.0,298.1 C330.7,300.5 333.3,303.5 336.0,306.4 C338.7,309.3 342.7,314.1 344.0,315.7" fill="none" stroke="#d86c63" stroke-width="1" opacity="0.6"/>
<path d="M200.0,227.4 C201.3,228.2 205.3,230.4 208.0,231.8 C210.7,233.3 213.3,234.6 216.0,236.1 C218.7,237.6 221.3,239.1 224.0,240.8 C226.7,242.4 229.3,244.2 232.0,245.9 C234.7,247.6 237.3,249.4 240.0,250.9 C242.7,252.4 245.3,253.5 248.0,254.8 C250.7,256.1 253.3,257.4 256.0,258.7 C258.7,260.0 261.3,261.4 264.0,262.7 C266.7,264.0 269.3,265.2 272.0,266.5 C274.7,267.8 277.3,269.2 280.0,270.6 C282.7,272.1 285.3,273.5 288.0,275.1 C290.7,276.7 293.3,278.5 296.0,280.3 C298.7,282.1 301.3,283.8 304.0,285.9 C306.7,288.0 309.3,290.4 312.0,292.6 C314.7,294.8 317.3,297.0 320.0,299.1 C322.7,301.1 325.3,302.8 328.0,305.1 C330.7,307.5 333.3,310.4 336.0,313.2 C338.7,316.1 342.7,320.5 344.0,322.0" fill="none" stroke="#f5aca2" stroke-width="1" opacity="0.6"/>
<path d="M200.0,234.1 C201.3,234.9 205.3,237.1 208.0,238.5 C210.7,240.0 213.3,241.4 216.0,242.9 C218.7,244.3 221.3,245.8 224.0,247.4 C226.7,249.0 229.3,250.8 232.0,252.5 C234.7,254.1 237.3,255.8 240.0,257.2 C242.7,258.7 245.3,259.8 248.0,261.1 C250.7,262.4 253.3,263.6 256.0,265.0 C258.7,266.3 261.3,267.7 264.0,269.0 C266.7,270.4 269.3,271.6 272.0,272.9 C274.7,274.3 277.3,275.7 280.0,277.1 C282.7,278.6 285.3,280.0 288.0,281.6 C290.7,283.3 293.3,285.2 296.0,287.0 C298.7,288.9 301.3,290.7 304.0,292.8 C306.7,294.9 309.3,297.4 312.0,299.6 C314.7,301.9 317.3,304.0 320.0,306.1 C322.7,308.2 325.3,309.9 328.0,312.2 C330.7,314.5 333.3,317.4 336.0,320.1 C338.7,322.8 342.7,326.9 344.0,328.3" fill="none" stroke="#d86c63" stroke-width="1" opacity="0.6"/>
<path d="M200.0,240.8 C201.3,241.5 205.3,243.8 208.0,245.3 C210.7,246.7 213.3,248.1 216.0,249.6 C218.7,251.1 221.3,252.5 224.0,254.1 C226.7,255.7 229.3,257.4 232.0,259.0 C234.7,260.6 237.3,262.2 240.0,263.6 C242.7,265.0 245.3,266.1 248.0,267.4 C250.7,268.7 253.3,269.9 256.0,271.2 C258.7,272.6 261.3,274.0 264.0,275.4 C266.7,276.7 269.3,277.9 272.0,279.3 C274.7,280.7 277.3,282.1 280.0,283.6 C282.7,285.0 285.3,286.5 288.0,288.2 C290.7,289.9 293.3,291.9 296.0,293.8 C298.7,295.7 301.3,297.6 304.0,299.7 C306.7,301.9 309.3,304.4 312.0,306.6 C314.7,308.9 317.3,311.0 320.0,313.1 C322.7,315.2 325.3,316.9 328.0,319.2 C330.7,321.6 333.3,324.4 336.0,327.0 C338.7,329.5 342.7,333.3 344.0,334.6" fill="none" stroke="#f5aca2" stroke-width="1" opacity="0.6"/>
<path d="M200.0,247.5 C201.3,248.2 205.3,250.5 208.0,252.0 C210.7,253.5 213.3,254.8 216.0,256.3 C218.7,257.8 221.3,259.2 224.0,260.8 C226.7,262.3 229.3,264.0 232.0,265.6 C234.7,267.1 237.3,268.6 240.0,269.9 C242.7,271.3 245.3,272.5 248.0,273.7 C250.7,275.0 253.3,276.2 256.0,277.5 C258.7,278.9 261.3,280.3 264.0,281.7 C266.7,283.0 269.3,284.3 272.0,285.7 C274.7,287.1 277.3,288.5 280.0,290.0 C282.7,291.5 285.3,293.0 288.0,294.7 C290.7,296.5 293.3,298.5 296.0,300.5 C298.7,302.5 301.3,304.5 304.0,306.6 C306.7,308.8 309.3,311.4 312.0,313.7 C314.7,315.9 317.3,318.0 320.0,320.1 C322.7,322.2 325.3,324.0 328.0,326.3 C330.7,328.6 333.3,331.4 336.0,333.8 C338.7,336.3 342.7,339.7 344.0,340.9" fill="none" stroke="#d86c63" stroke-width="1" opacity="0.6"/>
<path d="M200.0,254.2 C201.3,254.9 205.3,257.2 208.0,258.7 C210.7,260.2 213.3,261.6 216.0,263.0 C218.7,264.5 221.3,266.0 224.0,267.5 C226.7,269.0 229.3,270.6 232.0,272.1 C234.7,273.6 237.3,275.0 240.0,276.3 C242.7,277.6 245.3,278.8 248.0,280.0 C250.7,281.3 253.3,282.5 256.0,283.8 C258.7,285.1 261.3,286.6 264.0,288.0 C266.7,289.4 269.3,290.7 272.0,292.1 C274.7,293.5 277.3,295.0 280.0,296.5 C282.7,298.0 285.3,299.5 288.0,301.3 C290.7,303.1 293.3,305.2 296.0,307.3 C298.7,309.3 301.3,311.3 304.0,313.6 C306.7,315.8 309.3,318.4 312.0,320.7 C314.7,322.9 317.3,325.0 320.0,327.2 C322.7,329.3 325.3,331.1 328.0,333.4 C330.7,335.6 333.3,338.4 336.0,340.7 C338.7,343.0 342.7,346.1 344.0,347.2" fill="none" stroke="#f5aca2" stroke-width="1" opacity="0.6"/>
<path d="M200.0,260.9 C201.3,261.6 205.3,264.0 208.0,265.4 C210.7,266.9 213.3,268.3 216.0,269.8 C218.7,271.2 221.3,272.7 224.0,274.1 C226.7,275.6 229.3,277.3 232.0,278.7 C234.7,280.1 237.3,281.4 240.0,282.6 C242.7,283.9 245.3,285.1 248.0,286.4 C250.7,287.6 253.3,288.8 256.0,290.1 C258.7,291.4 261.3,292.9 264.0,294.3 C266.7,295.7 269.3,297.1 272.0,298.5 C274.7,300.0 277.3,301.4 280.0,302.9 C282.7,304.5 285.3,306.0 288.0,307.8 C290.7,309.6 293.3,311.9 296.0,314.0 C298.7,316.1 301.3,318.2 304.0,320.5 C306.7,322.7 309.3,325.4 312.0,327.7 C314.7,329.9 317.3,332.1 320.0,334.2 C322.7,336.3 325.3,338.2 328.0,340.4 C330.7,342.6 333.3,345.4 336.0,347.6 C338.7,349.7 342.7,352.5 344.0,353.5" fill="none" stroke="#d86c63" stroke-width="1" opacity="0.6"/>
<path d="M200.0,267.6 C201.3,268.3 205.3,270.7 208.0,272.2 C210.7,273.7 213.3,275.0 216.0,276.5 C218.7,277.9 221.3,279.4 224.0,280.8 C226.7,282.3 229.3,283.9 232.0,285.2 C234.7,286.6 237.3,287.7 240.0,289.0 C242.7,290.2 245.3,291.4 248.0,292.7 C250.7,293.9 253.3,295.0 256.0,296.4 C258.7,297.7 261.3,299.2 264.0,300.6 C266.7,302.1 269.3,303.5 272.0,304.9 C274.7,306.4 277.3,307.8 280.0,309.4 C282.7,311.0 285.3,312.5 288.0,314.4 C290.7,316.2 293.3,318.6 296.0,320.8 C298.7,322.9 301.3,325.1 304.0,327.4 C306.7,329.7 309.3,332.4 312.0,334.7 C314.7,337.0 317.3,339.1 320.0,341.2 C322.7,343.3 325.3,345.3 328.0,347.5 C330.7,349.7 333.3,352.4 336.0,354.4 C338.7,356.5 342.7,358.9 344.0,359.8" fill="none" stroke="#f5aca2" stroke-width="1" opacity="0.6"/>
<path d="M195.0,208.0 C197.6,203.4 216.5,219.3 221.0,222.0 C225.5,224.7 235.8,232.6 240.0,235.0 C244.2,237.4 260.0,245.1 263.0,246.5 C266.0,247.9 267.7,248.4 270.0,249.5 C272.3,250.6 282.8,255.8 286.0,257.5 C289.2,259.2 298.8,264.8 302.0,267.0 C305.2,269.2 315.2,277.8 318.0,280.0 C320.8,282.2 327.7,286.8 330.0,289.0 C332.3,291.2 338.9,299.3 341.0,302.0 C343.1,304.7 349.1,313.1 351.0,316.0 C352.9,318.9 358.2,328.4 360.0,331.0 C361.8,333.6 367.3,339.8 369.0,342.0 C370.7,344.2 375.3,350.4 377.0,353.0 C378.7,355.6 384.3,365.2 386.0,368.0 C387.7,370.8 392.2,378.3 394.0,381.0 C395.8,383.7 403.9,393.9 404.0,395.0 C404.1,396.1 397.1,393.4 395.0,392.0 C392.9,390.6 385.3,381.8 383.0,381.0 C380.7,380.2 374.7,384.1 372.0,384.0 C369.3,383.9 359.0,382.1 356.0,380.0 C353.0,377.9 344.8,365.9 342.0,363.0 C339.2,360.1 330.8,353.3 328.0,351.0 C325.2,348.7 316.6,342.2 314.0,340.0 C311.4,337.8 304.8,331.4 302.0,329.0 C299.2,326.6 289.2,318.2 286.0,316.0 C282.8,313.8 273.0,308.6 270.0,307.0 C267.0,305.4 259.8,301.4 256.0,299.5 C252.2,297.6 235.6,290.2 232.0,288.5 C228.4,286.8 222.5,283.4 220.0,282.0 C217.5,280.6 209.5,276.4 207.0,275.0 C204.5,273.6 196.2,274.7 195.0,268.0 C193.8,261.3 192.4,212.6 195.0,208.0 Z" fill="url(#apoGrad)"/>
<path d="M195.0,238.0 C199.3,239.5 212.2,243.7 221.0,247.0 C229.8,250.3 239.8,254.2 248.0,258.0 C256.2,261.8 263.7,266.3 270.0,270.0 C276.3,273.7 280.7,276.5 286.0,280.0 C291.3,283.5 296.7,286.5 302.0,291.0 C307.3,295.5 313.3,302.3 318.0,307.0 C322.7,311.7 326.2,314.8 330.0,319.0 C333.8,323.2 337.7,327.8 341.0,332.0 C344.3,336.2 348.5,342.0 350.0,344.0" fill="none" stroke="#7f7c82" stroke-width="3.0" opacity="0.8"/>
<path d="M195.0,238.0 C199.3,239.5 212.2,243.7 221.0,247.0 C229.8,250.3 239.8,254.2 248.0,258.0 C256.2,261.8 263.7,266.3 270.0,270.0 C276.3,273.7 280.7,276.5 286.0,280.0 C291.3,283.5 296.7,286.5 302.0,291.0 C307.3,295.5 313.3,302.3 318.0,307.0 C322.7,311.7 326.2,314.8 330.0,319.0 C333.8,323.2 337.7,327.8 341.0,332.0 C344.3,336.2 348.5,342.0 350.0,344.0" fill="none" stroke="#bdb8bd" stroke-width="1.5"/>
<path d="M338.0,328.0 C340.0,330.5 346.2,338.0 350.0,343.0 C353.8,348.0 357.7,353.0 361.0,358.0 C364.3,363.0 367.5,368.7 370.0,373.0 C372.5,377.3 375.0,382.2 376.0,384.0" fill="none" stroke="#85868c" stroke-width="1.1" opacity="0.75"/>
<path d="M326.0,335.0 C328.3,337.5 335.5,345.0 340.0,350.0 C344.5,355.0 349.0,360.0 353.0,365.0 C357.0,370.0 362.2,377.5 364.0,380.0" fill="none" stroke="#85868c" stroke-width="1" opacity="0.65"/>
<path d="M352.0,330.0 C353.7,332.5 358.8,340.0 362.0,345.0 C365.2,350.0 368.0,355.0 371.0,360.0 C374.0,365.0 378.5,372.5 380.0,375.0" fill="none" stroke="#a09a9a" stroke-width="0.9" opacity="0.5"/>
<path d="M195.0,268.0 C197.0,269.2 202.8,272.7 207.0,275.0 C211.2,277.3 215.8,279.8 220.0,282.0 C224.2,284.2 226.0,285.6 232.0,288.5 C238.0,291.4 249.7,296.4 256.0,299.5 C262.3,302.6 265.0,304.2 270.0,307.0 C275.0,309.8 280.7,312.3 286.0,316.0 C291.3,319.7 297.3,325.0 302.0,329.0 C306.7,333.0 309.7,336.3 314.0,340.0 C318.3,343.7 323.3,347.2 328.0,351.0 C332.7,354.8 337.3,358.3 342.0,363.0 C346.7,367.7 351.0,372.5 356.0,379.0 C361.0,385.5 366.8,393.2 372.0,402.0 C377.2,410.8 383.8,424.0 387.5,432.0 C391.2,440.0 391.3,443.3 394.0,450.0 C396.7,456.7 400.3,466.3 403.5,472.0 C406.7,477.7 411.4,482.0 413.0,484.0" fill="none" stroke="#b9d2e2" stroke-width="2.2"/>
<path d="M197.0,265.6 C199.0,266.8 204.8,270.3 209.0,272.6 C213.2,274.9 217.8,277.4 222.0,279.6 C226.2,281.9 228.0,283.2 234.0,286.1 C240.0,289.0 251.7,294.0 258.0,297.1 C264.3,300.2 267.0,301.9 272.0,304.6 C277.0,307.4 282.7,309.9 288.0,313.6 C293.3,317.3 299.3,322.6 304.0,326.6 C308.7,330.6 311.7,333.9 316.0,337.6 C320.3,341.3 325.3,344.8 330.0,348.6 C334.7,352.4 339.3,355.9 344.0,360.6 C348.7,365.3 355.7,373.9 358.0,376.6" fill="none" stroke="#dde9f0" stroke-width="2.2"/>
<path d="M198.4,263.8 C200.4,265.0 206.2,268.5 210.4,270.8 C214.6,273.1 219.2,275.6 223.4,277.8 C227.6,280.1 229.4,281.4 235.4,284.3 C241.4,287.2 253.1,292.2 259.4,295.3 C265.7,298.4 268.4,300.1 273.4,302.8 C278.4,305.6 284.1,308.1 289.4,311.8 C294.7,315.5 300.7,320.8 305.4,324.8 C310.1,328.8 313.1,332.1 317.4,335.8 C321.7,339.5 326.7,343.0 331.4,346.8 C336.1,350.6 340.7,354.1 345.4,358.8 C350.1,363.5 357.1,372.1 359.4,374.8" fill="none" stroke="#a9c0cf" stroke-width="0.9"/>
<path d="M372.0,392.0 C372.5,394.2 378.0,407.0 378.0,408.0 C378.0,409.0 371.1,399.6 372.0,402.0 C372.9,404.4 385.3,427.2 387.5,432.0 C389.7,436.8 392.4,446.0 394.0,450.0 C395.6,454.0 401.6,468.6 403.5,472.0 C405.4,475.4 410.9,483.4 413.0,484.0 C415.1,484.6 423.7,479.9 424.5,478.0 C425.3,476.1 421.8,467.8 421.0,465.0 C420.2,462.2 417.5,453.1 416.5,450.0 C415.5,446.9 412.6,437.6 411.4,434.0 C410.1,430.4 405.5,417.7 404.0,413.5 C402.5,409.3 397.3,394.9 396.0,392.0 C394.7,389.1 392.3,385.9 391.0,385.0 C389.7,384.1 384.8,382.4 383.0,382.5 C381.2,382.6 374.1,385.1 373.0,386.0 C371.9,386.9 371.5,389.8 372.0,392.0 Z" fill="#d6e6ef" stroke="#a3bfd1" stroke-width="1.1"/>
<path d="M360.0,377.5 C362.7,381.3 370.8,391.7 376.0,400.5 C381.2,409.3 387.8,422.5 391.5,430.5 C395.2,438.5 395.3,441.8 398.0,448.5 C400.7,455.2 404.3,464.8 407.5,470.5 C410.7,476.2 415.4,480.5 417.0,482.5" fill="none" stroke="#a9c3d4" stroke-width="0.9"/>
<g fill="#5a7990" opacity="0.9"><ellipse cx="378.5" cy="389.9" rx="1.1" ry="2.5" transform="rotate(-56 378.5 389.9)"/><ellipse cx="388.2" cy="392.8" rx="0.9" ry="2.8" transform="rotate(-18 388.2 392.8)"/><ellipse cx="389.2" cy="395.4" rx="1.1" ry="2.1" transform="rotate(21 389.2 395.4)"/><ellipse cx="382.6" cy="399.1" rx="1.0" ry="2.7" transform="rotate(15 382.6 399.1)"/><ellipse cx="385.3" cy="401.2" rx="1.0" ry="2.4" transform="rotate(-16 385.3 401.2)"/><ellipse cx="394.4" cy="404.8" rx="0.9" ry="2.0" transform="rotate(6 394.4 404.8)"/><ellipse cx="395.5" cy="407.1" rx="1.0" ry="2.5" transform="rotate(-50 395.5 407.1)"/><ellipse cx="397.2" cy="411.7" rx="0.9" ry="2.4" transform="rotate(-23 397.2 411.7)"/><ellipse cx="397.8" cy="412.7" rx="0.9" ry="2.8" transform="rotate(2 397.8 412.7)"/><ellipse cx="389.8" cy="414.8" rx="0.9" ry="2.3" transform="rotate(-23 389.8 414.8)"/><ellipse cx="398.5" cy="420.4" rx="1.2" ry="2.1" transform="rotate(-70 398.5 420.4)"/><ellipse cx="402.0" cy="422.3" rx="1.0" ry="2.5" transform="rotate(-58 402.0 422.3)"/><ellipse cx="403.2" cy="423.9" rx="1.1" ry="1.9" transform="rotate(-27 403.2 423.9)"/><ellipse cx="403.4" cy="429.0" rx="1.1" ry="1.9" transform="rotate(-24 403.4 429.0)"/><ellipse cx="406.7" cy="429.5" rx="1.0" ry="2.3" transform="rotate(-67 406.7 429.5)"/><ellipse cx="404.2" cy="433.9" rx="1.0" ry="2.7" transform="rotate(-10 404.2 433.9)"/><ellipse cx="404.0" cy="435.3" rx="1.1" ry="2.5" transform="rotate(-68 404.0 435.3)"/><ellipse cx="407.1" cy="438.0" rx="1.2" ry="2.0" transform="rotate(-56 407.1 438.0)"/><ellipse cx="401.3" cy="443.3" rx="1.0" ry="2.6" transform="rotate(-49 401.3 443.3)"/><ellipse cx="407.2" cy="444.5" rx="0.8" ry="2.5" transform="rotate(13 407.2 444.5)"/><ellipse cx="410.0" cy="449.1" rx="1.0" ry="2.6" transform="rotate(12 410.0 449.1)"/><ellipse cx="405.5" cy="452.0" rx="1.0" ry="2.7" transform="rotate(-55 405.5 452.0)"/><ellipse cx="411.2" cy="454.6" rx="0.9" ry="1.9" transform="rotate(8 411.2 454.6)"/><ellipse cx="407.0" cy="457.0" rx="1.1" ry="2.3" transform="rotate(-64 407.0 457.0)"/><ellipse cx="414.4" cy="459.5" rx="0.8" ry="2.0" transform="rotate(18 414.4 459.5)"/><ellipse cx="408.1" cy="461.0" rx="0.8" ry="2.7" transform="rotate(-25 408.1 461.0)"/><ellipse cx="411.3" cy="464.0" rx="1.0" ry="2.0" transform="rotate(27 411.3 464.0)"/><ellipse cx="414.3" cy="467.5" rx="1.0" ry="2.0" transform="rotate(11 414.3 467.5)"/><ellipse cx="419.0" cy="471.2" rx="1.2" ry="2.7" transform="rotate(23 419.0 471.2)"/><ellipse cx="415.7" cy="473.1" rx="1.0" ry="2.1" transform="rotate(-28 415.7 473.1)"/></g>
<path d="M404.0,395.0 C402.3,392.7 397.0,385.5 394.0,381.0 C391.0,376.5 388.8,372.7 386.0,368.0 C383.2,363.3 379.8,357.3 377.0,353.0 C374.2,348.7 371.8,345.7 369.0,342.0 C366.2,338.3 363.0,335.3 360.0,331.0 C357.0,326.7 354.2,320.8 351.0,316.0 C347.8,311.2 344.5,306.5 341.0,302.0 C337.5,297.5 333.8,292.7 330.0,289.0 C326.2,285.3 322.7,283.7 318.0,280.0 C313.3,276.3 307.3,270.8 302.0,267.0 C296.7,263.2 291.3,260.4 286.0,257.5 C280.7,254.6 273.8,251.3 270.0,249.5 C266.2,247.7 268.0,248.9 263.0,246.5 C258.0,244.1 247.0,239.1 240.0,235.0 C233.0,230.9 224.2,224.2 221.0,222.0" fill="none" stroke="#9c7440" stroke-width="1.3" opacity="0.75"/>
<path d="M300.0,318.0 C303.0,320.2 312.3,326.5 318.0,331.0 C323.7,335.5 329.0,340.2 334.0,345.0 C339.0,349.8 343.7,354.8 348.0,360.0 C352.3,365.2 356.7,371.3 360.0,376.0 C363.3,380.7 366.7,386.0 368.0,388.0" fill="none" stroke="#6f6c6e" stroke-width="1.1" opacity="0.75"/>
<path d="M306.0,310.0 C309.0,312.2 318.3,318.5 324.0,323.0 C329.7,327.5 335.0,332.2 340.0,337.0 C345.0,341.8 349.7,346.8 354.0,352.0 C358.3,357.2 362.7,363.0 366.0,368.0 C369.3,373.0 372.7,379.7 374.0,382.0" fill="none" stroke="#6f6c6e" stroke-width="1" opacity="0.6"/>
<path d="M445.7,462.6 L447.5,463.1 L449.4,463.7 L451.2,464.3 L453.1,464.9 L454.9,465.6 L456.7,466.2 L458.5,467.0 L460.3,467.7 L462.1,468.5 L463.9,469.3 L465.6,470.1 L467.4,471.0 L469.1,471.9 L470.9,472.9 L472.6,473.8 L474.3,474.8 L474.7,474.2 L473.0,473.1 L471.4,472.0 L469.6,471.0 L467.9,470.0 L466.2,469.0 L464.5,468.1 L462.7,467.2 L460.9,466.3 L459.2,465.4 L457.4,464.6 L455.6,463.9 L453.7,463.1 L451.9,462.4 L450.1,461.7 L448.2,461.0 L446.3,460.4Z" fill="#121212"/>
<path d="M443.5,470.5 L445.5,471.4 L447.5,472.4 L449.5,473.3 L451.5,474.3 L453.5,475.3 L455.4,476.3 L457.4,477.4 L459.4,478.5 L461.3,479.6 L463.2,480.7 L465.2,481.9 L467.1,483.1 L469.0,484.3 L471.0,485.6 L472.9,486.8 L474.8,488.1 L475.2,487.5 L473.4,486.1 L471.5,484.7 L469.6,483.4 L467.8,482.1 L465.9,480.8 L464.0,479.6 L462.1,478.4 L460.1,477.2 L458.2,476.0 L456.3,474.8 L454.3,473.7 L452.4,472.6 L450.4,471.5 L448.5,470.5 L446.5,469.5 L444.5,468.5Z" fill="#121212"/>
<path d="M434.3,472.5 L435.5,474.8 L436.7,477.1 L438.2,479.5 L439.8,481.9 L441.7,484.4 L443.7,486.8 L445.8,489.3 L448.2,491.9 L450.7,494.5 L453.5,497.1 L456.4,499.7 L459.4,502.4 L462.7,505.1 L466.1,507.9 L469.7,510.7 L473.5,513.6 L474.1,512.8 L470.3,509.9 L466.8,507.1 L463.5,504.2 L460.3,501.4 L457.3,498.7 L454.5,496.0 L451.9,493.3 L449.4,490.7 L447.2,488.2 L445.1,485.6 L443.3,483.2 L441.6,480.7 L440.1,478.3 L438.7,476.0 L437.6,473.7 L436.7,471.5Z" fill="#121212"/>
</g></g></g>
<path d="M884,337 C905,337 916,350 916,366 C916,383 903,395 888,395 C882,395 880,391 881,388 C882,385 885,385 888,384 C899,382 905,374 905,365 C905,355 897,347 886,346 C880,346 877,345 877,341 C877,338 880,337 884,337 Z" fill="none" stroke="#111" stroke-width="2.0"/>
<g stroke="#3a3a3a" stroke-width="1.6" fill="none">
<line x1="412.5" y1="189.5" x2="438" y2="189.5"/>
<line x1="408" y1="248.8" x2="443" y2="248.8"/>
<line x1="252.5" y1="309.8" x2="336" y2="309.8" stroke="#111"/>
<line x1="345" y1="412" x2="391" y2="412"/>
<line x1="921.3" y1="189.6" x2="946" y2="189.6"/>
<line x1="917" y1="248.1" x2="951" y2="248.1"/>
<line x1="764.8" y1="307.9" x2="845" y2="307.9" stroke="#111"/>
<line x1="855.7" y1="408" x2="900" y2="408"/>
</g>
<g font-family="Liberation Sans" font-size="18" fill="#222">
<text x="448" y="196.7">Da</text>
<text x="450" y="253.8">Cơ nhắm</text>
<text x="450" y="273.8">mắt</text>
<text x="290.5" y="231.6">Mỡ</text>
<text x="247.5" y="313.7" text-anchor="end">Lực mở</text>
<text x="245.5" y="332.8" text-anchor="end">của cơ</text>
<text x="244" y="416.9">Tấm sụn mi</text>
<text x="955" y="194.8">Da</text>
<text x="957.5" y="253.2">Cơ nhắm</text>
<text x="957.5" y="272.9">mắt</text>
<text x="801.5" y="229.6">Mỡ</text>
<text x="754" y="310.5" text-anchor="end">Lực mở</text>
<text x="753.5" y="330" text-anchor="end">của cơ</text>
<text x="752.5" y="413.8">Tấm sụn mi</text>
</g>
<g stroke="#111" stroke-width="2.2"><line x1="593" y1="314.8" x2="608" y2="314.8"/><line x1="600.3" y1="307.3" x2="600.3" y2="322"/></g>
</svg>
<div class="t desc" style="left:123px;top:542px">Phẫu thuật mắt hai mí bằng cách tạo sự bám dính giữa<br>bề mặt da và tấm sụn mi (hoặc vách ngăn).</div>
<div class="t desc" style="left:637px;top:547px">Phẫu thuật tăng cường lực mở mắt<br>bằng cách điều chỉnh cơ mở mắt.</div>
</body></html>
